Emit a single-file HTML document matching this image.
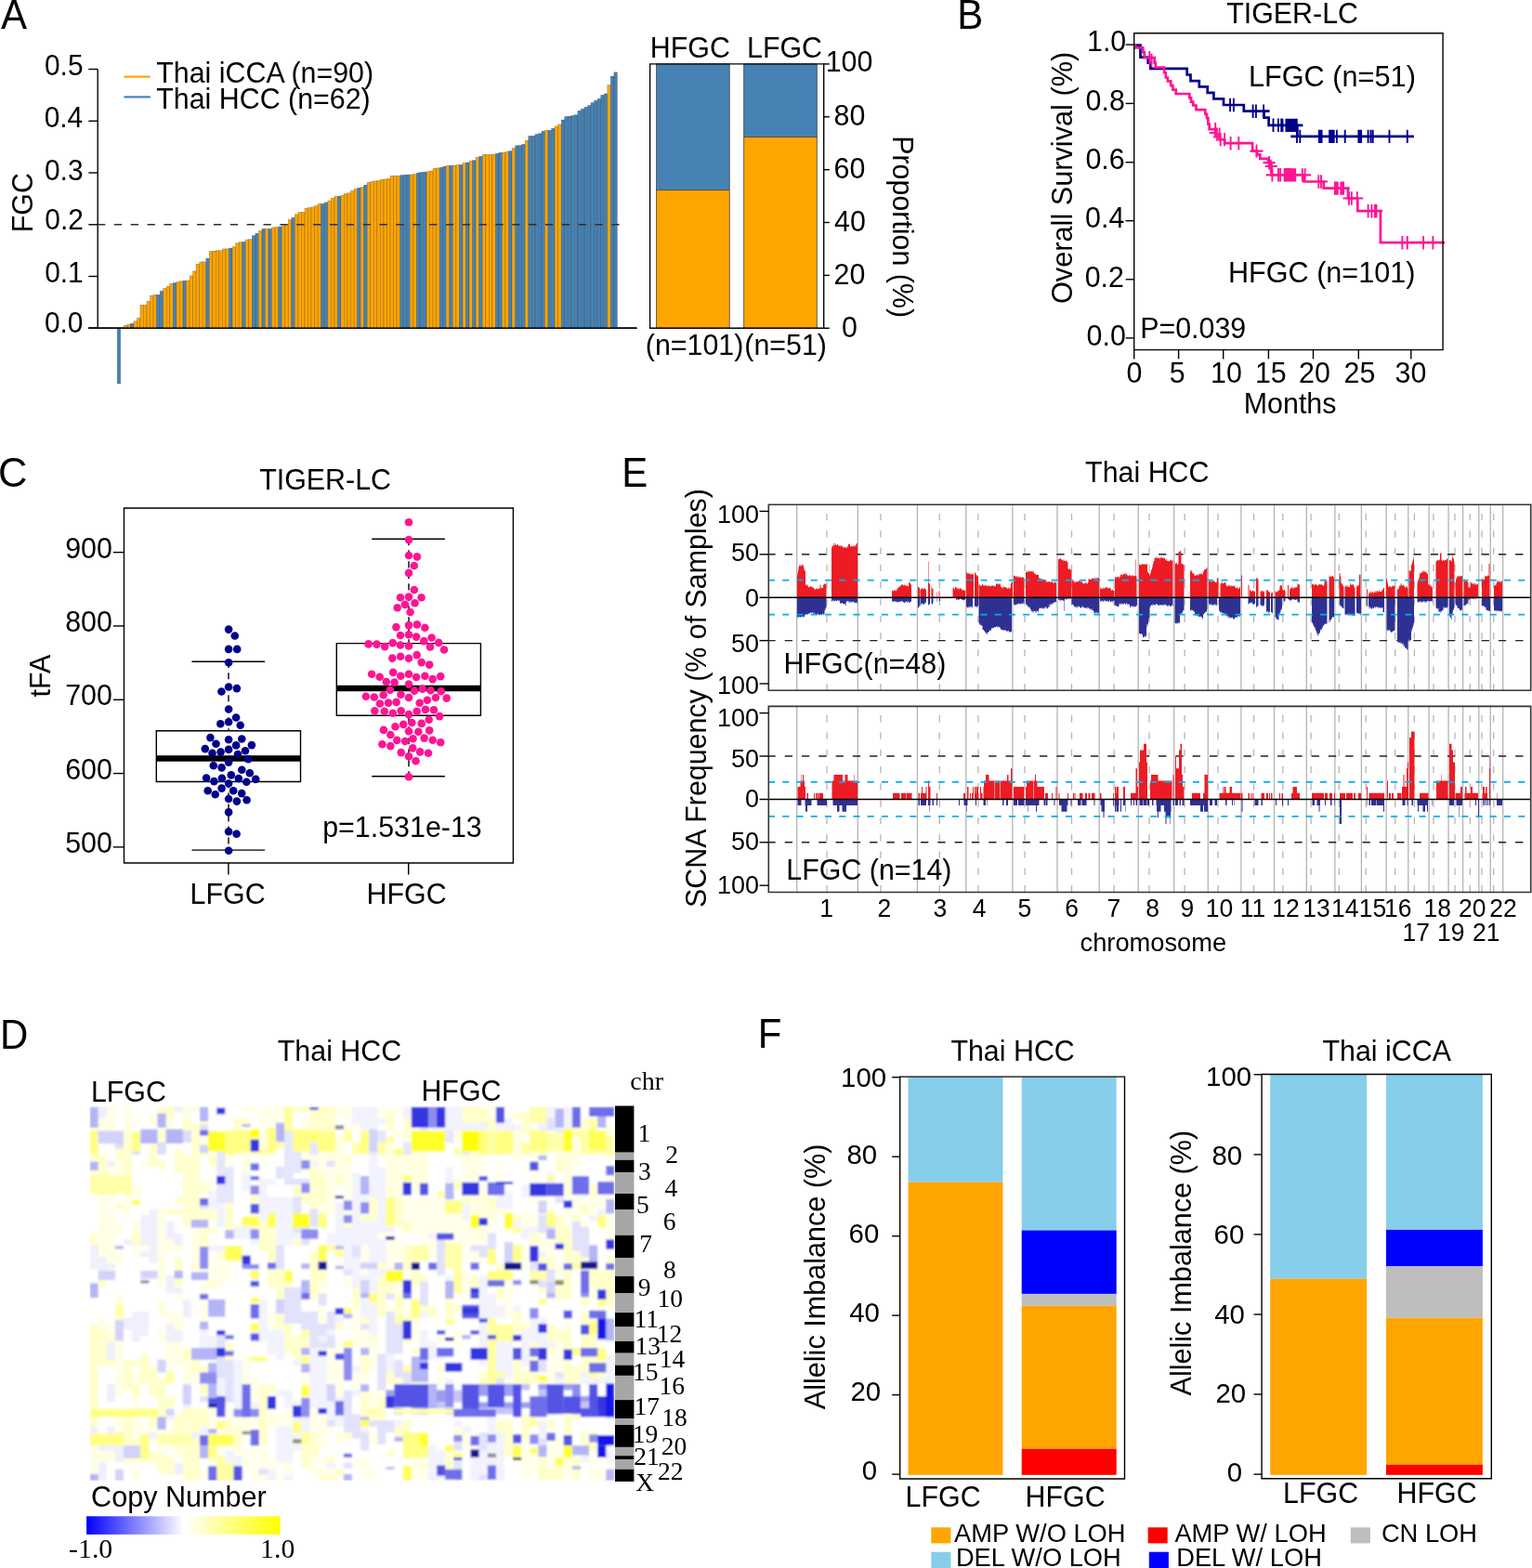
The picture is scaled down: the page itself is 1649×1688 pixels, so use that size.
<!DOCTYPE html>
<html lang="en"><head><meta charset="utf-8"><title>FGC figure</title>
<style>
html,body{margin:0;padding:0;background:#fff}
body{width:1649px;height:1688px;overflow:hidden}
svg{display:block}
text{font-family:"Liberation Sans",Arial,Helvetica,sans-serif;fill:#000}
text.s{font-family:"Liberation Serif","Times New Roman",Times,serif}
</style></head><body>
<svg width="1649" height="1688" viewBox="0 0 1649 1688">
<rect width="1649" height="1688" fill="#fff"/>
<g id="panelA">
<text transform="translate(0.9 30.8) scale(1 1.035)" font-size="42">A</text>
<path d="M105.2 74.5V353.3" fill="none" stroke="#000" stroke-width="1.4"/>
<line x1="95.3" y1="353.3" x2="685.5" y2="353.3" stroke="#000" stroke-width="1.5"/>
<line x1="95.3" y1="353.3" x2="105.2" y2="353.3" stroke="#000" stroke-width="1.4"/>
<text transform="translate(47.9 357.6) scale(1 1.035)" font-size="29.9">0.0</text>
<line x1="95.3" y1="297.5" x2="105.2" y2="297.5" stroke="#000" stroke-width="1.4"/>
<text transform="translate(48.2 303.8) scale(1 1.035)" font-size="29.9">0.1</text>
<line x1="95.3" y1="241.8" x2="105.2" y2="241.8" stroke="#000" stroke-width="1.4"/>
<text transform="translate(48.3 246.8) scale(1 1.035)" font-size="29.9">0.2</text>
<line x1="95.3" y1="186" x2="105.2" y2="186" stroke="#000" stroke-width="1.4"/>
<text transform="translate(48 193.5) scale(1 1.035)" font-size="29.9">0.3</text>
<line x1="95.3" y1="130.3" x2="105.2" y2="130.3" stroke="#000" stroke-width="1.4"/>
<text transform="translate(47.7 136.5) scale(1 1.035)" font-size="29.9">0.4</text>
<line x1="95.3" y1="74.5" x2="105.2" y2="74.5" stroke="#000" stroke-width="1.4"/>
<text transform="translate(48 80.7) scale(1 1.035)" font-size="29.9">0.5</text>
<text transform="translate(35.2 217.5) rotate(-90) scale(1 1.035)" x="-32.8" y="0" font-size="30.4">FGC</text>
<g stroke="#000" stroke-opacity=".32" stroke-width=".6">
<rect x="126.2" y="353.3" width="3.5" height="59.7" fill="#4682B4"/>
<rect x="133.2" y="350.4" width="3.5" height="2.9" fill="#FFA500"/>
<rect x="136.8" y="349.4" width="3.5" height="3.9" fill="#FFA500"/>
<rect x="140.3" y="348.3" width="3.5" height="5" fill="#4682B4"/>
<rect x="143.9" y="345.8" width="3.5" height="7.5" fill="#FFA500"/>
<rect x="147.4" y="342.5" width="3.5" height="10.8" fill="#FFA500"/>
<rect x="150.9" y="328.3" width="3.5" height="25" fill="#FFA500"/>
<rect x="154.5" y="328.3" width="3.5" height="25" fill="#FFA500"/>
<rect x="158" y="324.3" width="3.5" height="29" fill="#FFA500"/>
<rect x="161.6" y="318.2" width="3.5" height="35.1" fill="#FFA500"/>
<rect x="165.1" y="317.3" width="3.5" height="36" fill="#FFA500"/>
<rect x="168.6" y="317.3" width="3.5" height="36" fill="#4682B4"/>
<rect x="172.2" y="313.4" width="3.5" height="39.9" fill="#4682B4"/>
<rect x="175.7" y="310.4" width="3.5" height="42.9" fill="#FFA500"/>
<rect x="179.3" y="308.3" width="3.5" height="45" fill="#FFA500"/>
<rect x="182.8" y="305.3" width="3.5" height="48" fill="#FFA500"/>
<rect x="186.3" y="304.5" width="3.5" height="48.8" fill="#4682B4"/>
<rect x="189.9" y="303.4" width="3.5" height="49.9" fill="#FFA500"/>
<rect x="193.4" y="302.7" width="3.5" height="50.6" fill="#FFA500"/>
<rect x="197" y="302.2" width="3.5" height="51.1" fill="#4682B4"/>
<rect x="200.5" y="301.9" width="3.5" height="51.4" fill="#FFA500"/>
<rect x="204.1" y="296.8" width="3.5" height="56.5" fill="#FFA500"/>
<rect x="207.6" y="291.9" width="3.5" height="61.4" fill="#FFA500"/>
<rect x="211.1" y="284.3" width="3.5" height="69" fill="#FFA500"/>
<rect x="214.7" y="281.9" width="3.5" height="71.4" fill="#FFA500"/>
<rect x="218.2" y="281.9" width="3.5" height="71.4" fill="#FFA500"/>
<rect x="221.8" y="278.2" width="3.5" height="75.1" fill="#4682B4"/>
<rect x="225.3" y="270.6" width="3.5" height="82.7" fill="#FFA500"/>
<rect x="228.8" y="270.3" width="3.5" height="83" fill="#FFA500"/>
<rect x="232.4" y="269.7" width="3.5" height="83.6" fill="#FFA500"/>
<rect x="235.9" y="269.7" width="3.5" height="83.6" fill="#FFA500"/>
<rect x="239.5" y="267.9" width="3.5" height="85.4" fill="#FFA500"/>
<rect x="243" y="267.9" width="3.5" height="85.4" fill="#FFA500"/>
<rect x="246.5" y="267.1" width="3.5" height="86.2" fill="#4682B4"/>
<rect x="250.1" y="265.7" width="3.5" height="87.6" fill="#FFA500"/>
<rect x="253.6" y="261.8" width="3.5" height="91.5" fill="#FFA500"/>
<rect x="257.2" y="260.6" width="3.5" height="92.7" fill="#FFA500"/>
<rect x="260.7" y="260.4" width="3.5" height="92.9" fill="#4682B4"/>
<rect x="264.3" y="258" width="3.5" height="95.3" fill="#FFA500"/>
<rect x="267.8" y="257.6" width="3.5" height="95.7" fill="#FFA500"/>
<rect x="271.3" y="253.6" width="3.5" height="99.7" fill="#4682B4"/>
<rect x="274.9" y="251.3" width="3.5" height="102" fill="#4682B4"/>
<rect x="278.4" y="248.6" width="3.5" height="104.7" fill="#FFA500"/>
<rect x="282" y="246.3" width="3.5" height="107" fill="#4682B4"/>
<rect x="285.5" y="246.3" width="3.5" height="107" fill="#FFA500"/>
<rect x="289" y="246.3" width="3.5" height="107" fill="#4682B4"/>
<rect x="292.6" y="244.9" width="3.5" height="108.4" fill="#FFA500"/>
<rect x="296.1" y="244.6" width="3.5" height="108.7" fill="#FFA500"/>
<rect x="299.7" y="244" width="3.5" height="109.3" fill="#4682B4"/>
<rect x="303.2" y="242.8" width="3.5" height="110.5" fill="#FFA500"/>
<rect x="306.7" y="241.6" width="3.5" height="111.7" fill="#FFA500"/>
<rect x="310.3" y="236.5" width="3.5" height="116.8" fill="#FFA500"/>
<rect x="313.8" y="234.3" width="3.5" height="119" fill="#4682B4"/>
<rect x="317.4" y="230.7" width="3.5" height="122.6" fill="#FFA500"/>
<rect x="320.9" y="228.5" width="3.5" height="124.8" fill="#FFA500"/>
<rect x="324.5" y="228.5" width="3.5" height="124.8" fill="#FFA500"/>
<rect x="328" y="224.3" width="3.5" height="129" fill="#FFA500"/>
<rect x="331.5" y="223.6" width="3.5" height="129.7" fill="#FFA500"/>
<rect x="335.1" y="222.8" width="3.5" height="130.5" fill="#FFA500"/>
<rect x="338.6" y="221.6" width="3.5" height="131.7" fill="#FFA500"/>
<rect x="342.2" y="219.4" width="3.5" height="133.9" fill="#FFA500"/>
<rect x="345.7" y="219.4" width="3.5" height="133.9" fill="#4682B4"/>
<rect x="349.2" y="217.9" width="3.5" height="135.4" fill="#4682B4"/>
<rect x="352.8" y="216.2" width="3.5" height="137.1" fill="#FFA500"/>
<rect x="356.3" y="213.3" width="3.5" height="140" fill="#FFA500"/>
<rect x="359.9" y="211.5" width="3.5" height="141.8" fill="#FFA500"/>
<rect x="363.4" y="211.2" width="3.5" height="142.1" fill="#4682B4"/>
<rect x="366.9" y="210.3" width="3.5" height="143" fill="#FFA500"/>
<rect x="370.5" y="208.5" width="3.5" height="144.8" fill="#FFA500"/>
<rect x="374" y="207.7" width="3.5" height="145.6" fill="#FFA500"/>
<rect x="377.6" y="205.5" width="3.5" height="147.8" fill="#FFA500"/>
<rect x="381.1" y="203.4" width="3.5" height="149.9" fill="#FFA500"/>
<rect x="384.7" y="202.2" width="3.5" height="151.1" fill="#4682B4"/>
<rect x="388.2" y="201.4" width="3.5" height="151.9" fill="#FFA500"/>
<rect x="391.7" y="199.1" width="3.5" height="154.2" fill="#4682B4"/>
<rect x="395.3" y="196.3" width="3.5" height="157" fill="#FFA500"/>
<rect x="398.8" y="195.5" width="3.5" height="157.8" fill="#FFA500"/>
<rect x="402.4" y="194.9" width="3.5" height="158.4" fill="#FFA500"/>
<rect x="405.9" y="194.4" width="3.5" height="158.9" fill="#FFA500"/>
<rect x="409.4" y="193.4" width="3.5" height="159.9" fill="#FFA500"/>
<rect x="413" y="192.9" width="3.5" height="160.4" fill="#FFA500"/>
<rect x="416.5" y="192.4" width="3.5" height="160.9" fill="#FFA500"/>
<rect x="420.1" y="189.3" width="3.5" height="164" fill="#FFA500"/>
<rect x="423.6" y="189.3" width="3.5" height="164" fill="#FFA500"/>
<rect x="427.1" y="189.3" width="3.5" height="164" fill="#FFA500"/>
<rect x="430.7" y="188.6" width="3.5" height="164.7" fill="#4682B4"/>
<rect x="434.2" y="188.3" width="3.5" height="165" fill="#4682B4"/>
<rect x="437.8" y="188.1" width="3.5" height="165.2" fill="#4682B4"/>
<rect x="441.3" y="187.8" width="3.5" height="165.5" fill="#FFA500"/>
<rect x="444.9" y="187.4" width="3.5" height="165.9" fill="#FFA500"/>
<rect x="448.4" y="186.1" width="3.5" height="167.2" fill="#4682B4"/>
<rect x="451.9" y="185.4" width="3.5" height="167.9" fill="#4682B4"/>
<rect x="455.5" y="185.2" width="3.5" height="168.1" fill="#4682B4"/>
<rect x="459" y="184.7" width="3.5" height="168.6" fill="#FFA500"/>
<rect x="462.6" y="184" width="3.5" height="169.3" fill="#FFA500"/>
<rect x="466.1" y="181.3" width="3.5" height="172" fill="#FFA500"/>
<rect x="469.6" y="180.9" width="3.5" height="172.4" fill="#FFA500"/>
<rect x="473.2" y="180.3" width="3.5" height="173" fill="#4682B4"/>
<rect x="476.7" y="179.1" width="3.5" height="174.2" fill="#4682B4"/>
<rect x="480.3" y="178.4" width="3.5" height="174.9" fill="#FFA500"/>
<rect x="483.8" y="178.1" width="3.5" height="175.2" fill="#4682B4"/>
<rect x="487.3" y="178.1" width="3.5" height="175.2" fill="#FFA500"/>
<rect x="490.9" y="177.6" width="3.5" height="175.7" fill="#FFA500"/>
<rect x="494.4" y="177.4" width="3.5" height="175.9" fill="#4682B4"/>
<rect x="498" y="175.5" width="3.5" height="177.8" fill="#FFA500"/>
<rect x="501.5" y="175" width="3.5" height="178.3" fill="#4682B4"/>
<rect x="505" y="173.4" width="3.5" height="179.9" fill="#FFA500"/>
<rect x="508.6" y="172.6" width="3.5" height="180.7" fill="#4682B4"/>
<rect x="512.1" y="169.4" width="3.5" height="183.9" fill="#FFA500"/>
<rect x="515.7" y="168.3" width="3.5" height="185" fill="#4682B4"/>
<rect x="519.2" y="166.5" width="3.5" height="186.8" fill="#FFA500"/>
<rect x="522.8" y="166.5" width="3.5" height="186.8" fill="#FFA500"/>
<rect x="526.3" y="166.5" width="3.5" height="186.8" fill="#FFA500"/>
<rect x="529.8" y="166" width="3.5" height="187.3" fill="#FFA500"/>
<rect x="533.4" y="165.3" width="3.5" height="188" fill="#4682B4"/>
<rect x="536.9" y="164.3" width="3.5" height="189" fill="#4682B4"/>
<rect x="540.5" y="164.3" width="3.5" height="189" fill="#FFA500"/>
<rect x="544" y="163.3" width="3.5" height="190" fill="#FFA500"/>
<rect x="547.5" y="162.6" width="3.5" height="190.7" fill="#4682B4"/>
<rect x="551.1" y="159.5" width="3.5" height="193.8" fill="#FFA500"/>
<rect x="554.6" y="156.8" width="3.5" height="196.5" fill="#4682B4"/>
<rect x="558.2" y="156.5" width="3.5" height="196.8" fill="#4682B4"/>
<rect x="561.7" y="155.3" width="3.5" height="198" fill="#4682B4"/>
<rect x="565.2" y="151.3" width="3.5" height="202" fill="#FFA500"/>
<rect x="568.8" y="146.4" width="3.5" height="206.9" fill="#4682B4"/>
<rect x="572.3" y="146.4" width="3.5" height="206.9" fill="#4682B4"/>
<rect x="575.9" y="144.5" width="3.5" height="208.8" fill="#4682B4"/>
<rect x="579.4" y="143.7" width="3.5" height="209.6" fill="#4682B4"/>
<rect x="583" y="141.3" width="3.5" height="212" fill="#4682B4"/>
<rect x="586.5" y="140.3" width="3.5" height="213" fill="#FFA500"/>
<rect x="590" y="140.3" width="3.5" height="213" fill="#4682B4"/>
<rect x="593.6" y="138.2" width="3.5" height="215.1" fill="#4682B4"/>
<rect x="597.1" y="135.9" width="3.5" height="217.4" fill="#FFA500"/>
<rect x="600.7" y="133.9" width="3.5" height="219.4" fill="#FFA500"/>
<rect x="604.2" y="129" width="3.5" height="224.3" fill="#4682B4"/>
<rect x="607.7" y="125.5" width="3.5" height="227.8" fill="#4682B4"/>
<rect x="611.3" y="125.1" width="3.5" height="228.2" fill="#4682B4"/>
<rect x="614.8" y="124.4" width="3.5" height="228.9" fill="#4682B4"/>
<rect x="618.4" y="123.7" width="3.5" height="229.6" fill="#4682B4"/>
<rect x="621.9" y="119.2" width="3.5" height="234.1" fill="#4682B4"/>
<rect x="625.4" y="117.2" width="3.5" height="236.1" fill="#4682B4"/>
<rect x="629" y="115.3" width="3.5" height="238" fill="#4682B4"/>
<rect x="632.5" y="113.5" width="3.5" height="239.8" fill="#4682B4"/>
<rect x="636.1" y="110.5" width="3.5" height="242.8" fill="#4682B4"/>
<rect x="639.6" y="108.3" width="3.5" height="245" fill="#4682B4"/>
<rect x="643.2" y="106.2" width="3.5" height="247.1" fill="#4682B4"/>
<rect x="646.7" y="102.4" width="3.5" height="250.9" fill="#4682B4"/>
<rect x="650.2" y="100.9" width="3.5" height="252.4" fill="#4682B4"/>
<rect x="653.8" y="91.5" width="3.5" height="261.8" fill="#FFA500"/>
<rect x="657.3" y="82" width="3.5" height="271.3" fill="#4682B4"/>
<rect x="660.9" y="77.8" width="3.5" height="275.5" fill="#4682B4"/>
</g>
<line x1="95.3" y1="353.3" x2="685.5" y2="353.3" stroke="#000" stroke-width="1.5"/>
<line x1="105.2" y1="241.8" x2="669.5" y2="241.8" stroke="#2e2e2e" stroke-width="1.5" stroke-dasharray="8.3 9.55" stroke-dashoffset="0.2"/>
<line x1="133.4" y1="82.6" x2="161.8" y2="82.6" stroke="#FFA500" stroke-width="2.2"/>
<line x1="133.4" y1="104.4" x2="161.8" y2="104.4" stroke="#4682B4" stroke-width="2.2"/>
<text transform="translate(168.2 88.6) scale(1 1.035)" font-size="30.4">Thai iCCA (n=90)</text>
<text transform="translate(168.2 116.5) scale(1 1.035)" font-size="30.4">Thai HCC (n=62)</text>
<g stroke="#444" stroke-width=".8">
<rect x="706.6" y="68.9" width="78.6" height="135.8" fill="#4682B4"/>
<rect x="706.6" y="204.7" width="78.6" height="148.6" fill="#FFA500"/>
<rect x="800.7" y="68.9" width="78.6" height="78.6" fill="#4682B4"/>
<rect x="800.7" y="147.5" width="78.6" height="205.8" fill="#FFA500"/>
</g>
<path d="M699.6 68.9H886.7V353.3H699.6Z" fill="none" stroke="#000" stroke-width="1.4"/>
<line x1="886.7" y1="353.3" x2="892.8" y2="353.3" stroke="#000" stroke-width="1.4"/>
<text transform="translate(906.1 362.5) scale(1 1.035)" font-size="30.4">0</text>
<line x1="886.7" y1="296.4" x2="892.8" y2="296.4" stroke="#000" stroke-width="1.4"/>
<text transform="translate(897.5 305.5) scale(1 1.035)" font-size="30.4">20</text>
<line x1="886.7" y1="239.5" x2="892.8" y2="239.5" stroke="#000" stroke-width="1.4"/>
<text transform="translate(898 248.6) scale(1 1.035)" font-size="30.4">40</text>
<line x1="886.7" y1="182.7" x2="892.8" y2="182.7" stroke="#000" stroke-width="1.4"/>
<text transform="translate(897.5 191.8) scale(1 1.035)" font-size="30.4">60</text>
<line x1="886.7" y1="125.8" x2="892.8" y2="125.8" stroke="#000" stroke-width="1.4"/>
<text transform="translate(897.6 135.2) scale(1 1.035)" font-size="30.4">80</text>
<line x1="886.7" y1="68.9" x2="892.8" y2="68.9" stroke="#000" stroke-width="1.4"/>
<text transform="translate(888.7 77.4) scale(1 1.035)" font-size="30.4">100</text>
<text transform="translate(960.6 244.5) rotate(90) scale(1 1.035)" x="-98.3" y="0" font-size="30.4">Proportion (%)</text>
<text transform="translate(699.8 62.3) scale(1 1.035)" font-size="30.4">HFGC</text>
<text transform="translate(804 62.3) scale(1 1.035)" font-size="30.4">LFGC</text>
<text transform="translate(694.8 381.5) scale(1 1.035)" font-size="30.4">(n=101)</text>
<text transform="translate(801.3 381.5) scale(1 1.035)" font-size="30.4">(n=51)</text>
</g>
<g id="panelB">
<text transform="translate(1030.2 30.6) scale(1 1.035)" font-size="42">B</text>
<text transform="translate(1320.2 25.4) scale(1 1.035)" font-size="30.4">TIGER-LC</text>
<clipPath id="cb"><rect x="1219.7" y="35.8" width="335.9" height="340.8"/></clipPath>
<g clip-path="url(#cb)">
<path d="M1220.6 48.6 1227.5 48.6 1227.5 61.7 1235.7 61.7 1235.7 67.7 1238.4 67.7 1238.4 73.9 1277.7 73.9 1277.7 80.5 1281.5 80.5 1281.5 87.1 1290.8 87.1 1290.8 93.3 1299.7 93.3 1299.7 99.9 1306.4 99.9 1306.4 106.4 1317 106.4 1317 113 1338.8 113 1338.8 119.7 1360.6 119.7 1360.6 126.6 1365.6 126.6 1365.6 134.8 1396.4 134.9 1396.4 146.9 1521.9 146.9" fill="none" stroke="#00008B" stroke-width="2.7" stroke-linejoin="miter"/>
<path d="M1360.6 119.7 1366.6 119.7" fill="none" stroke="#00008B" stroke-width="2.7" stroke-linejoin="miter"/>
<path d="M1396.4 134.9 1402.4 134.9" fill="none" stroke="#00008B" stroke-width="2.7" stroke-linejoin="miter"/>
<path d="M1389.3 146.9 1396.4 146.9" fill="none" stroke="#00008B" stroke-width="2.7" stroke-linejoin="miter"/>
<path d="M1324.1 105.8v14.4M1327.9 105.8v14.4M1348.6 112.5v14.4M1351.9 112.5v14.4M1360.1 112.5v14.4M1370.5 127.6v14.4M1375.9 127.6v14.4M1379.2 127.6v14.4M1380.5 127.7v14.4M1384.4 127.7v14.4M1386 127.7v14.4M1387.6 127.7v14.4M1389.3 127.7v14.4M1390.9 127.7v14.4M1392.6 127.7v14.4M1394.2 127.7v14.4M1395.8 127.7v14.4M1396 139.7v14.4M1399.3 139.7v14.4M1419.8 139.7v14.4M1421.3 139.7v14.4M1422.6 139.7v14.4M1431.1 139.7v14.4M1432.6 139.7v14.4M1434.1 139.7v14.4M1435.7 139.7v14.4M1438.9 139.7v14.4M1447.7 139.7v14.4M1462.4 139.7v14.4M1463.8 139.7v14.4M1465.1 139.7v14.4M1472.6 139.7v14.4M1475.5 139.7v14.4M1477.7 139.7v14.4M1495.5 139.7v14.4M1514.8 139.7v14.4" fill="none" stroke="#00008B" stroke-width="1.9"/>
<path d="M1220.6 48.6 1222 48.6 1222 51.3 1230.2 51.3 1230.2 56.2 1231.8 56.2 1231.8 62.2 1242.7 62.2 1242.7 67.7 1243.8 67.7 1243.8 72.6 1253.1 72.6 1253.1 78 1254.8 78 1254.8 83.5 1256.9 83.5 1256.9 87.3 1260.2 87.3 1260.2 92.2 1262.4 92.2 1262.4 96.6 1265.7 96.6 1265.7 101 1280.4 101 1280.4 105.3 1282 105.3 1282 109.7 1284.2 109.7 1284.2 113.5 1287.5 113.5 1287.5 118.2 1297.3 118.2 1297.3 122.8 1299 122.8 1299 127.2 1300.4 127.2 1300.4 133.7 1301.7 133.7 1301.7 139.2 1308.2 139.2 1308.2 144.6 1312.6 144.6 1312.6 150.1 1318.1 150.1 1318.1 154.2 1348.1 154.2 1348.1 162.6 1353 162.6 1353 166.4 1356.3 166.4 1356.3 170.8 1365 170.8 1365 175.2 1368.3 175.2 1368.3 179 1368.8 179 1368.8 188.3 1403.5 188.4 1403.5 195.5 1424.8 195.5 1424.8 202.6 1451 202.6 1451 213.5 1461.3 213.5 1461.3 227.2 1485.9 227.2 1485.9 261.2 1555.2 261.2" fill="none" stroke="#FF1493" stroke-width="2.7" stroke-linejoin="miter"/>
<path d="M1301.7 143 1308.2 143" fill="none" stroke="#FF1493" stroke-width="2.2" stroke-linejoin="miter"/>
<path d="M1306.1 147.3 1313.2 147.3" fill="none" stroke="#FF1493" stroke-width="2.2" stroke-linejoin="miter"/>
<path d="M1345.4 162.6 1359.5 162.6" fill="none" stroke="#FF1493" stroke-width="2.2" stroke-linejoin="miter"/>
<path d="M1359.5 175.2 1372.6 175.2" fill="none" stroke="#FF1493" stroke-width="2.2" stroke-linejoin="miter"/>
<path d="M1361.7 179 1374.8 179" fill="none" stroke="#FF1493" stroke-width="2.2" stroke-linejoin="miter"/>
<path d="M1362.8 188.3 1369.4 188.3" fill="none" stroke="#FF1493" stroke-width="2.2" stroke-linejoin="miter"/>
<path d="M1403.5 188.4 1411.1 188.4" fill="none" stroke="#FF1493" stroke-width="2.2" stroke-linejoin="miter"/>
<path d="M1424.8 195.5 1429.1 195.5" fill="none" stroke="#FF1493" stroke-width="2.2" stroke-linejoin="miter"/>
<path d="M1445.5 213.5 1467.3 213.5" fill="none" stroke="#FF1493" stroke-width="2.2" stroke-linejoin="miter"/>
<path d="M1451 202.6 1452.6 202.6" fill="none" stroke="#FF1493" stroke-width="2.2" stroke-linejoin="miter"/>
<path d="M1485.9 227.2 1488.1 227.2" fill="none" stroke="#FF1493" stroke-width="2.2" stroke-linejoin="miter"/>
<path d="M1237.3 55v14.4M1239.5 57.7v14.4M1308.2 132v14.4M1309.9 137.4v14.4M1312.6 137.4v14.4M1313.7 142.9v14.4M1318.1 142.9v14.4M1324.6 147v14.4M1333.3 147v14.4M1352.5 155.4v14.4M1366.1 168v14.4M1367.7 171.8v14.4M1369.4 181.1v14.4M1375.9 181.1v14.4M1378.1 181.1v14.4M1383.6 181.1v14.4M1385.2 181.1v14.4M1386.8 181.1v14.4M1388.5 181.1v14.4M1382.7 181.2v14.4M1384.4 181.2v14.4M1386 181.2v14.4M1387.6 181.2v14.4M1389.3 181.2v14.4M1390.9 181.2v14.4M1392.6 181.2v14.4M1394.2 181.2v14.4M1401.8 181.2v14.4M1404.6 181.2v14.4M1419.3 188.3v14.4M1422 188.3v14.4M1436.8 195.4v14.4M1438.4 195.4v14.4M1439.8 195.4v14.4M1443.3 195.4v14.4M1444.7 195.4v14.4M1446.1 195.4v14.4M1452 206.3v14.4M1454.8 206.3v14.4M1460.8 206.3v14.4M1472.6 220v14.4M1476.4 220v14.4M1479.9 220v14.4M1481.5 220v14.4M1509.4 254v14.4M1514.8 254v14.4M1532.1 254v14.4M1542.4 254v14.4" fill="none" stroke="#FF1493" stroke-width="1.9"/>
</g>
<path d="M1220.7 35.8H1553.1V376.6H1220.7Z" fill="none" stroke="#000" stroke-width="1.4"/>
<line x1="1211.6" y1="363.9" x2="1220.7" y2="363.9" stroke="#000" stroke-width="1.4"/>
<text transform="translate(1169.6 372.2) scale(1 1.035)" font-size="30.4">0.0</text>
<line x1="1211.6" y1="300.8" x2="1220.7" y2="300.8" stroke="#000" stroke-width="1.4"/>
<text transform="translate(1167.7 308.9) scale(1 1.035)" font-size="30.4">0.2</text>
<line x1="1211.6" y1="237.7" x2="1220.7" y2="237.7" stroke="#000" stroke-width="1.4"/>
<text transform="translate(1168.1 245.3) scale(1 1.035)" font-size="30.4">0.4</text>
<line x1="1211.6" y1="174.7" x2="1220.7" y2="174.7" stroke="#000" stroke-width="1.4"/>
<text transform="translate(1168.4 182.1) scale(1 1.035)" font-size="30.4">0.6</text>
<line x1="1211.6" y1="111.4" x2="1220.7" y2="111.4" stroke="#000" stroke-width="1.4"/>
<text transform="translate(1168.6 119.3) scale(1 1.035)" font-size="30.4">0.8</text>
<line x1="1211.6" y1="48.1" x2="1220.7" y2="48.1" stroke="#000" stroke-width="1.4"/>
<text transform="translate(1170 55.3) scale(1 1.035)" font-size="30.4">1.0</text>
<line x1="1220.7" y1="376.6" x2="1220.7" y2="386.4" stroke="#000" stroke-width="1.4"/>
<text transform="translate(1212.4 411.9) scale(1 1.035)" font-size="30.4">0</text>
<line x1="1268.6" y1="376.6" x2="1268.6" y2="386.4" stroke="#000" stroke-width="1.4"/>
<text transform="translate(1258.8 411.9) scale(1 1.035)" font-size="30.4">5</text>
<line x1="1316.7" y1="376.6" x2="1316.7" y2="386.4" stroke="#000" stroke-width="1.4"/>
<text transform="translate(1303 411.9) scale(1 1.035)" font-size="30.4">10</text>
<line x1="1365.4" y1="376.6" x2="1365.4" y2="386.4" stroke="#000" stroke-width="1.4"/>
<text transform="translate(1350.9 411.9) scale(1 1.035)" font-size="30.4">15</text>
<line x1="1413.5" y1="376.6" x2="1413.5" y2="386.4" stroke="#000" stroke-width="1.4"/>
<text transform="translate(1398 411.9) scale(1 1.035)" font-size="30.4">20</text>
<line x1="1462.3" y1="376.6" x2="1462.3" y2="386.4" stroke="#000" stroke-width="1.4"/>
<text transform="translate(1446.5 411.9) scale(1 1.035)" font-size="30.4">25</text>
<line x1="1518.8" y1="376.6" x2="1518.8" y2="386.4" stroke="#000" stroke-width="1.4"/>
<text transform="translate(1501.6 411.9) scale(1 1.035)" font-size="30.4">30</text>
<text transform="translate(1338.8 444.5) scale(1 1.035)" font-size="30.4">Months</text>
<text transform="translate(1154.2 191.7) rotate(-90) scale(1 1.035)" x="-135.3" y="0" font-size="30.7">Overall Survival (%)</text>
<text transform="translate(1227.2 363.7) scale(1 1.035)" font-size="30.4" fill="#333">P=0.039</text>
<text transform="translate(1343.9 93.1) scale(1 1.035)" font-size="30.7">LFGC (n=51)</text>
<text transform="translate(1322 303.5) scale(1 1.035)" font-size="30.6">HFGC (n=101)</text>
</g>
<g id="panelC">
<text transform="translate(-2 524) scale(1 1.035)" font-size="43.5">C</text>
<text transform="translate(279.2 526.6) scale(1 1.035)" font-size="30.4">TIGER-LC</text>
<line x1="121.9" y1="911.9" x2="133.5" y2="911.9" stroke="#000" stroke-width="1.4"/>
<text transform="translate(70.2 918) scale(1 1.035)" font-size="30.4">500</text>
<line x1="121.9" y1="832.6" x2="133.5" y2="832.6" stroke="#000" stroke-width="1.4"/>
<text transform="translate(70.2 838.7) scale(1 1.035)" font-size="30.4">600</text>
<line x1="121.9" y1="753.3" x2="133.5" y2="753.3" stroke="#000" stroke-width="1.4"/>
<text transform="translate(70.2 759.4) scale(1 1.035)" font-size="30.4">700</text>
<line x1="121.9" y1="673.9" x2="133.5" y2="673.9" stroke="#000" stroke-width="1.4"/>
<text transform="translate(70.2 680) scale(1 1.035)" font-size="30.4">800</text>
<line x1="121.9" y1="594.6" x2="133.5" y2="594.6" stroke="#000" stroke-width="1.4"/>
<text transform="translate(70.2 600.7) scale(1 1.035)" font-size="30.4">900</text>
<text transform="translate(54.4 727.4) rotate(-90) scale(1 1.035)" x="-23" y="0" font-size="30.4">tFA</text>
<line x1="245.9" y1="929" x2="245.9" y2="941.4" stroke="#000" stroke-width="1.4"/>
<line x1="439.7" y1="929" x2="439.7" y2="941.4" stroke="#000" stroke-width="1.4"/>
<text transform="translate(204.6 972.7) scale(1 1.035)" font-size="30.4">LFGC</text>
<text transform="translate(394.5 972.7) scale(1 1.035)" font-size="30.4">HFGC</text>
<path d="M246 712.3V786.7M246 841.5V915.1" fill="none" stroke="#000" stroke-width="1.4" stroke-dasharray="7 5"/>
<line x1="206.5" y1="712.3" x2="285" y2="712.3" stroke="#000" stroke-width="1.4"/>
<line x1="206.5" y1="915.1" x2="285" y2="915.1" stroke="#000" stroke-width="1.4"/>
<path d="M168.3 786.7H323.5V841.5H168.3Z" fill="none" stroke="#000" stroke-width="1.4"/>
<line x1="168.3" y1="816.5" x2="323.5" y2="816.5" stroke="#000" stroke-width="6.4"/>
<path d="M440 580.2V692.6M440 770.3V835.7" fill="none" stroke="#000" stroke-width="1.4" stroke-dasharray="7 5"/>
<line x1="400.2" y1="580.2" x2="478.9" y2="580.2" stroke="#000" stroke-width="1.4"/>
<line x1="400.2" y1="835.7" x2="478.9" y2="835.7" stroke="#000" stroke-width="1.4"/>
<path d="M362.3 692.6H517.4V770.3H362.3Z" fill="none" stroke="#000" stroke-width="1.4"/>
<line x1="362.3" y1="741" x2="517.4" y2="741" stroke="#000" stroke-width="6.4"/>
<g fill="#00008B">
<circle cx="246.1" cy="677.6" r="4.3"/>
<circle cx="252.8" cy="684.5" r="4.3"/>
<circle cx="246.1" cy="698.9" r="4.3"/>
<circle cx="255.2" cy="698.9" r="4.3"/>
<circle cx="246.1" cy="713.3" r="4.3"/>
<circle cx="246.1" cy="739.5" r="4.3"/>
<circle cx="254.9" cy="741.1" r="4.3"/>
<circle cx="238.4" cy="744.5" r="4.3"/>
<circle cx="246.1" cy="763.5" r="4.3"/>
<circle cx="254.1" cy="772.5" r="4.3"/>
<circle cx="246.1" cy="777.3" r="4.3"/>
<circle cx="237.3" cy="779.2" r="4.3"/>
<circle cx="258.7" cy="780.8" r="4.3"/>
<circle cx="226.4" cy="794.1" r="4.3"/>
<circle cx="246.1" cy="796.3" r="4.3"/>
<circle cx="260.3" cy="795.5" r="4.3"/>
<circle cx="232.5" cy="800.8" r="4.3"/>
<circle cx="254.1" cy="802.4" r="4.3"/>
<circle cx="270.9" cy="802.1" r="4.3"/>
<circle cx="220.8" cy="806.1" r="4.3"/>
<circle cx="246.1" cy="806.9" r="4.3"/>
<circle cx="228.5" cy="810.7" r="4.3"/>
<circle cx="237.6" cy="809.6" r="4.3"/>
<circle cx="264" cy="808.3" r="4.3"/>
<circle cx="256" cy="812" r="4.3"/>
<circle cx="267.2" cy="817.3" r="4.3"/>
<circle cx="246.1" cy="820.6" r="4.3"/>
<circle cx="229.8" cy="824.3" r="4.3"/>
<circle cx="238.6" cy="826.4" r="4.3"/>
<circle cx="260.3" cy="828.8" r="4.3"/>
<circle cx="268.8" cy="832.3" r="4.3"/>
<circle cx="248.8" cy="834.4" r="4.3"/>
<circle cx="222.1" cy="837.6" r="4.3"/>
<circle cx="238.9" cy="837.8" r="4.3"/>
<circle cx="256.8" cy="838.1" r="4.3"/>
<circle cx="275.2" cy="838.9" r="4.3"/>
<circle cx="230.4" cy="841.1" r="4.3"/>
<circle cx="265.3" cy="841.8" r="4.3"/>
<circle cx="246.1" cy="843.5" r="4.3"/>
<circle cx="238.6" cy="848.6" r="4.3"/>
<circle cx="223.7" cy="851.2" r="4.3"/>
<circle cx="251.2" cy="851.2" r="4.3"/>
<circle cx="260.2" cy="854.1" r="4.3"/>
<circle cx="231.7" cy="855.2" r="4.3"/>
<circle cx="246.1" cy="860" r="4.3"/>
<circle cx="254.9" cy="862.6" r="4.3"/>
<circle cx="265.6" cy="861.3" r="4.3"/>
<circle cx="246.1" cy="874.4" r="4.3"/>
<circle cx="246.1" cy="895.2" r="4.3"/>
<circle cx="254.6" cy="897.8" r="4.3"/>
<circle cx="246.1" cy="915.7" r="4.3"/>
</g><g fill="#FF1493">
<circle cx="440" cy="562.3" r="4.3"/>
<circle cx="440" cy="581.1" r="4.3"/>
<circle cx="440" cy="598" r="4.3"/>
<circle cx="448.9" cy="599.4" r="4.3"/>
<circle cx="445.8" cy="609" r="4.3"/>
<circle cx="440" cy="616.9" r="4.3"/>
<circle cx="445.8" cy="635" r="4.3"/>
<circle cx="431" cy="643.3" r="4.3"/>
<circle cx="440" cy="642.6" r="4.3"/>
<circle cx="453.6" cy="643.3" r="4.3"/>
<circle cx="436" cy="650.9" r="4.3"/>
<circle cx="446.5" cy="649.3" r="4.3"/>
<circle cx="427.7" cy="654.3" r="4.3"/>
<circle cx="441.6" cy="659" r="4.3"/>
<circle cx="426.4" cy="675.1" r="4.3"/>
<circle cx="440" cy="673.1" r="4.3"/>
<circle cx="448.9" cy="672.4" r="4.3"/>
<circle cx="457.4" cy="675.7" r="4.3"/>
<circle cx="431" cy="684" r="4.3"/>
<circle cx="440" cy="683.3" r="4.3"/>
<circle cx="448.1" cy="685.6" r="4.3"/>
<circle cx="464.6" cy="686.5" r="4.3"/>
<circle cx="456.3" cy="690.1" r="4.3"/>
<circle cx="472.2" cy="691.9" r="4.3"/>
<circle cx="396.6" cy="693.4" r="4.3"/>
<circle cx="405.5" cy="693.6" r="4.3"/>
<circle cx="414.2" cy="696.1" r="4.3"/>
<circle cx="422.7" cy="692.1" r="4.3"/>
<circle cx="431" cy="694.5" r="4.3"/>
<circle cx="440" cy="695.4" r="4.3"/>
<circle cx="463" cy="696.4" r="4.3"/>
<circle cx="478" cy="699.5" r="4.3"/>
<circle cx="422.3" cy="708.6" r="4.3"/>
<circle cx="431.1" cy="706.7" r="4.3"/>
<circle cx="440" cy="708.7" r="4.3"/>
<circle cx="448.7" cy="705.1" r="4.3"/>
<circle cx="453.7" cy="713.1" r="4.3"/>
<circle cx="462.2" cy="715.6" r="4.3"/>
<circle cx="400.1" cy="725.7" r="4.3"/>
<circle cx="408.7" cy="728.8" r="4.3"/>
<circle cx="423.2" cy="723.9" r="4.3"/>
<circle cx="431.3" cy="727.7" r="4.3"/>
<circle cx="440" cy="725.7" r="4.3"/>
<circle cx="448.1" cy="729" r="4.3"/>
<circle cx="457.4" cy="727.7" r="4.3"/>
<circle cx="465.7" cy="731.1" r="4.3"/>
<circle cx="474.2" cy="728.1" r="4.3"/>
<circle cx="415.8" cy="734" r="4.3"/>
<circle cx="424.6" cy="734.6" r="4.3"/>
<circle cx="440" cy="736.6" r="4.3"/>
<circle cx="419.9" cy="742.7" r="4.3"/>
<circle cx="446" cy="743.6" r="4.3"/>
<circle cx="454.8" cy="741.6" r="4.3"/>
<circle cx="463.5" cy="743.3" r="4.3"/>
<circle cx="474.7" cy="744.2" r="4.3"/>
<circle cx="393.9" cy="749.8" r="4.3"/>
<circle cx="402.8" cy="750.5" r="4.3"/>
<circle cx="412.7" cy="748.3" r="4.3"/>
<circle cx="431.5" cy="747.8" r="4.3"/>
<circle cx="440" cy="751" r="4.3"/>
<circle cx="468.9" cy="751" r="4.3"/>
<circle cx="480.7" cy="751.6" r="4.3"/>
<circle cx="459.9" cy="753.7" r="4.3"/>
<circle cx="408.9" cy="757.5" r="4.3"/>
<circle cx="418" cy="756.6" r="4.3"/>
<circle cx="426.6" cy="755.9" r="4.3"/>
<circle cx="451.7" cy="756.8" r="4.3"/>
<circle cx="403.3" cy="765.3" r="4.3"/>
<circle cx="413.8" cy="765.8" r="4.3"/>
<circle cx="422.8" cy="767.8" r="4.3"/>
<circle cx="431.7" cy="765.3" r="4.3"/>
<circle cx="440" cy="769.1" r="4.3"/>
<circle cx="448.7" cy="765.7" r="4.3"/>
<circle cx="457.9" cy="763.9" r="4.3"/>
<circle cx="466.9" cy="764.2" r="4.3"/>
<circle cx="473.1" cy="771.1" r="4.3"/>
<circle cx="461.7" cy="774.7" r="4.3"/>
<circle cx="443.3" cy="778" r="4.3"/>
<circle cx="453.7" cy="778.9" r="4.3"/>
<circle cx="434.2" cy="779.9" r="4.3"/>
<circle cx="425.5" cy="782.3" r="4.3"/>
<circle cx="412.9" cy="785.9" r="4.3"/>
<circle cx="440" cy="787.2" r="4.3"/>
<circle cx="450.3" cy="787.7" r="4.3"/>
<circle cx="462.2" cy="786.4" r="4.3"/>
<circle cx="420.3" cy="791" r="4.3"/>
<circle cx="427.3" cy="796.9" r="4.3"/>
<circle cx="436" cy="798" r="4.3"/>
<circle cx="444.5" cy="795.3" r="4.3"/>
<circle cx="456.6" cy="794.6" r="4.3"/>
<circle cx="465.7" cy="796.7" r="4.3"/>
<circle cx="474.2" cy="799.3" r="4.3"/>
<circle cx="411.4" cy="801.3" r="4.3"/>
<circle cx="420.3" cy="803.1" r="4.3"/>
<circle cx="444.2" cy="805.4" r="4.3"/>
<circle cx="431.7" cy="810.1" r="4.3"/>
<circle cx="452.1" cy="809.4" r="4.3"/>
<circle cx="461" cy="810.7" r="4.3"/>
<circle cx="440" cy="814.3" r="4.3"/>
<circle cx="447.6" cy="819.2" r="4.3"/>
<circle cx="440" cy="836.3" r="4.3"/>
</g>
<path d="M133.5 547H552.4V929H133.5Z" fill="none" stroke="#000" stroke-width="1.4"/>
<text transform="translate(347.2 901.2) scale(1 1.035)" font-size="30.4">p=1.531e-13</text>
</g>
<g id="panelE">
<text transform="translate(669.2 524) scale(1 1.035)" font-size="42">E</text>
<text transform="translate(1168.1 519) scale(1 1.035)" font-size="30.4">Thai HCC</text>
<path d="M857.7 543.2V743.2M923.3 543.2V743.2M987.4 543.2V743.2M1039.8 543.2V743.2M1089.9 543.2V743.2M1138 543.2V743.2M1183.2 543.2V743.2M1225.2 543.2V743.2M1263.7 543.2V743.2M1300.3 543.2V743.2M1335.9 543.2V743.2M1371.5 543.2V743.2M1406.3 543.2V743.2M1436.9 543.2V743.2M1465.4 543.2V743.2M1492.1 543.2V743.2M1515.8 543.2V743.2M1538.1 543.2V743.2M1559.1 543.2V743.2M1574.6 543.2V743.2M1591.8 543.2V743.2M1604.3 543.2V743.2M1617.7 543.2V743.2" fill="none" stroke="#b4b4b4" stroke-width="1.3"/>
<path d="M890 543.2V743.2M947.9 543.2V743.2M1011.3 543.2V743.2M1052.9 543.2V743.2M1103 543.2V743.2M1153.5 543.2V743.2M1199 543.2V743.2M1237 543.2V743.2M1275.1 543.2V743.2M1311 543.2V743.2M1349.6 543.2V743.2M1380.8 543.2V743.2M1411.1 543.2V743.2M1441.3 543.2V743.2M1470.2 543.2V743.2M1501.7 543.2V743.2M1522.4 543.2V743.2M1543 543.2V743.2M1566 543.2V743.2M1582.3 543.2V743.2M1595 543.2V743.2M1607.7 543.2V743.2" fill="none" stroke="#b4b4b4" stroke-width="1.3" stroke-dasharray="7.3 11" stroke-dashoffset="-9.7"/>
<line x1="827.3" y1="596.8" x2="1647.7" y2="596.8" stroke="#231F20" stroke-width="1.4" stroke-dasharray="8.3 9.99" stroke-dashoffset="0.9"/>
<line x1="827.3" y1="689.6" x2="1647.7" y2="689.6" stroke="#231F20" stroke-width="1.4" stroke-dasharray="8.3 9.99" stroke-dashoffset="0.9"/>
<path d="M858 643.2V619.1H858.5V615.9H859V613.7H859.5V610.6H860V608H860.5V609.3H861V609.4H861.5V607.6H862V608.9H862.5V608.9H863V607.2H863.5V608.4H864V607.6H864.5V609.7H865V610.8H865.5V613.5H866V613.9H866.5V614.9H867V629.7H867.5V629.2H868V629.3H868.5V630.7H869V629.1H869.5V631H870V631.9H870.5V632.6H871V630.9H871.5V631.9H872V631.5H872.5V631.3H873V631.8H873.5V631.5H874V632.8H874.5V632H875V633H875.5V632H876V632.9H876.5V634.7H877V634.6H877.5V634.4H878V632.7H878.5V633.9H879V633.5H879.5V634.3H880V633.8H880.5V634.1H881V634.1H881.5V633.6H882.5V629.6H883.5V632.9H884V633.4H884.5V632.8H885V633H885.5V632.7H886V628.9H886.5V630.1H887V628.5H887.5V628.3H888V628.4H888.5V629.2H889V628.8H889.5V643.2ZM895 643.2V589.9H895.5V587.7H896V587.6H897V587.4H897.5V584.8H898V584.7H898.5V586.9H899V585.3H899.5V586.4H900V587.1H900.5V586.9H901V585.9H901.5V585.8H902V587.9H902.5V586.7H903V588.1H903.5V586.7H904V588.3H904.5V587.2H905V587H905.5V588.2H906V587.1H906.5V588.8H907V589.4H907.5V588.3H908V589.7H908.5V589.4H909V589H909.5V588.6H910V589.8H910.5V590.1H911V588.3H911.5V589.7H912V588.3H912.5V588.5H913V585.7H914.5V585.5H915V588.4H916V588.1H916.5V587.3H917V588.2H917.5V588.3H918V587.6H918.5V588.6H919V588.4H919.5V586.8H920V587.7H920.5V587.2H921V587.5H921.5V585.7H922V584.5H922.5V584.9H923V643.2ZM960 643.2V635.7H960.5V635.6H961V636.8H961.5V635.5H962V635.8H962.5V635.2H963V635.9H963.5V635H964V634.9H964.5V636.5H965V635.4H965.5V633.5H966V632.4H966.5V633.5H967V632.5H967.5V631.7H968V631.8H968.5V631.2H969V630.8H969.5V630.2H970V629.1H970.5V629.9H971V629.8H971.5V629H972V630.7H972.5V629.6H973V629.3H973.5V630.3H974V630.6H974.5V629.4H975V630.7H975.5V630.9H976V630.4H976.5V629.9H977V631.4H977.5V630.9H978V627.2H978.5V626.5H979V627.8H979.5V627.2H980V629.3H981V643.2ZM988 643.2V631.9H988.5V631.4H989V632.4H989.5V632.9H990V643.2ZM990.5 643.2V634.7H991V633.7H991.5V634.5H992V633.1H992.5V633H993V634.5H993.5V634.3H994V633.1H994.5V633.5H995V633.1H995.5V634.2H996V634.7H996.5V634.3H997V643.2ZM999 643.2V604.4H999.5V627.3H1000V628.1H1000.5V629H1001V643.2ZM1002.5 643.2V631.6H1003V633.3H1003.5V633.7H1004V634.1H1004.5V643.2ZM1008 643.2V637.5H1008.5V643.2ZM1010.5 643.2V636.2H1011.5V643.2ZM1025.5 643.2V633.3H1026.5V632.1H1027V633.9H1027.5V634.2H1028V632H1028.5V632.1H1029V631.8H1029.5V633H1030V634.2H1030.5V633.1H1031V633.9H1031.5V632.9H1032V634.8H1032.5V632.9H1033V633.6H1033.5V633.2H1034V633.4H1034.5V633.5H1035V634.4H1035.5V635.8H1036V634.3H1036.5V635.8H1037V635.6H1037.5V634.9H1038V635.4H1038.5V635.8H1039V643.2ZM1040 643.2V615.6H1040.5V616.5H1041V617.3H1041.5V617.7H1042V616.4H1042.5V617.5H1043V616.9H1043.5V618.1H1044V618.6H1044.5V618H1045V617.5H1045.5V619.1H1046V617.8H1046.5V617.7H1047V618.1H1047.5V618.2H1048V643.2ZM1049 643.2V617.1H1049.5V616.3H1050V616.4H1050.5V618.9H1051V619H1051.5V619.7H1052.5V620.6H1053V643.2ZM1053.5 643.2V629.4H1054V628.8H1054.5V630.6H1055V630.5H1055.5V630.4H1056V630.5H1056.5V630.6H1057V628.6H1057.5V628.9H1058V630.8H1058.5V629.9H1059V630.3H1059.5V630.4H1060.5V629.7H1061V629.9H1061.5V630.5H1062V630.9H1062.5V630.7H1063V631.2H1063.5V630.2H1064V629.9H1064.5V630.8H1065V631.5H1065.5V631.3H1066V630.9H1066.5V630.4H1067V630.1H1067.5V631.1H1068V630.1H1068.5V630.6H1069V631.1H1069.5V631.3H1070V631.1H1070.5V630.6H1071V631.3H1071.5V630.8H1072V628.2H1072.5V628.8H1073V628.2H1073.5V628H1074V629.6H1074.5V628.9H1075V629H1075.5V628.1H1076.5V629.5H1077V631.6H1077.5V631.9H1078V633.1H1078.5V632.6H1079V633.4H1079.5V631.8H1080V632.2H1080.5V631.6H1081V631.9H1081.5V632.1H1082V632H1082.5V632.4H1083V633.4H1083.5V632.3H1084V633.7H1084.5V633.3H1085V631.9H1085.5V633.6H1086V633.5H1087V631.6H1087.5V633.3H1088V626.6H1088.5V628.3H1089V626.6H1089.5V627H1090V643.2ZM1091 643.2V619.7H1091.5V619.4H1092V620.4H1092.5V619.9H1093V621.7H1093.5V620.1H1094V620.7H1094.5V620.3H1095V621.8H1095.5V620.4H1096V620H1096.5V622H1097V621.5H1097.5V621H1098V620.4H1098.5V621.8H1099V622H1099.5V621.9H1100V621.2H1100.5V620.9H1101V621.8H1101.5V621.9H1102.5V643.2ZM1104 643.2V615.7H1104.5V615.5H1105V616.3H1105.5V615.3H1106V614.2H1106.5V615.5H1107V614.8H1107.5V616.1H1108V614.9H1108.5V614.7H1109V614.9H1109.5V615.3H1110V615.4H1110.5V615H1111V614.4H1111.5V616.1H1112V616.3H1112.5V614.8H1113V616.9H1113.5V617.9H1114V618.1H1114.5V617.6H1115V618.9H1115.5V618.7H1116V619H1116.5V618.1H1117V618.8H1117.5V619.1H1118V622.5H1118.5V622H1119V623.5H1119.5V622.6H1120V623.3H1120.5V622.4H1121V623H1121.5V623.8H1122V624H1122.5V624.5H1123V623.4H1123.5V623.7H1124V624.2H1124.5V623.8H1125V624H1125.5V625.5H1126V627H1126.5V625.1H1127V626.4H1127.5V626.2H1128V626.5H1128.5V625.7H1129V625.8H1129.5V626.5H1130V626.7H1130.5V626.2H1131V625.9H1131.5V627.1H1132V626.3H1132.5V625.9H1133V627.1H1133.5V627.7H1134.5V626.7H1135V626.8H1135.5V626.2H1136V626.5H1136.5V628H1137V643.2ZM1139 643.2V602H1140V602.3H1140.5V601.3H1141V601.1H1141.5V601.2H1142V602.8H1142.5V601.5H1143V603H1143.5V602.9H1144V602.3H1144.5V603.9H1145V604.1H1145.5V602.5H1146V603.9H1147V603.6H1147.5V603.5H1148V605.2H1148.5V604.6H1149V604.5H1149.5V612.2H1150V613H1150.5V612.3H1151V611.6H1151.5V613H1152V612.8H1152.5V614H1153V613.8H1153.5V643.2ZM1154 643.2V623.2H1154.5V625.5H1155V624.6H1155.5V625.5H1156V627.7H1156.5V625.7H1157V626.9H1157.5V626H1158.5V626.9H1159V626H1160V625.5H1160.5V626.7H1161V625.5H1161.5V625H1162V625.5H1162.5V625.8H1163V626.7H1163.5V625.7H1164V626H1164.5V625.1H1165V627.7H1165.5V627.9H1166V628.7H1166.5V627.6H1167.5V628.6H1168V626.9H1168.5V627.4H1169V628.5H1169.5V626.6H1170V628.4H1170.5V627.9H1171V627H1171.5V623.4H1172.5V623.1H1173V623.5H1173.5V623.7H1174V623.9H1174.5V624.1H1175V622.5H1175.5V622.4H1176V622.8H1176.5V622.2H1177V623H1177.5V623.2H1178V622.8H1178.5V621.6H1179V623.4H1179.5V622.3H1180V622.8H1180.5V621.5H1181V622.4H1182V622.1H1182.5V621.7H1183V643.2ZM1184 643.2V632.5H1184.5V633.5H1185V632.3H1185.5V634H1186V633.6H1186.5V633.9H1187V633.9H1187.5V632.3H1188V632.4H1188.5V633.6H1189.5V633H1190V632.3H1190.5V632.1H1191V632.2H1191.5V632.5H1192V633.5H1192.5V632.9H1193V633.4H1193.5V632.6H1194V632.5H1194.5V633.3H1195V633.1H1195.5V634.4H1196V636.3H1196.5V634.7H1198V636.1H1198.5V635.9H1199V636H1199.5V643.2ZM1200 643.2V621.4H1200.5V620.5H1201V621.2H1201.5V622H1202V620.7H1202.5V621.5H1203V621.1H1203.5V620.8H1204V622.4H1204.5V620.6H1205V620.8H1205.5V621.1H1206V618.5H1206.5V618.6H1207V619.1H1207.5V618.3H1208V619.4H1208.5V618.3H1209V617.9H1209.5V618.3H1210V618H1210.5V617.1H1211V617.2H1211.5V618.9H1212V617.3H1212.5V617.7H1213V619H1213.5V619.5H1214V619.9H1214.5V620.3H1215V619.3H1215.5V618.5H1216V620H1216.5V618.9H1217V619.4H1217.5V620.8H1218V619.2H1218.5V619.9H1219V619.2H1219.5V619.8H1220.5V620.8H1221V619.9H1221.5V619.7H1222V619.9H1222.5V602.4H1223V620.4H1223.5V643.2ZM1226 643.2V607.1H1226.5V608H1227V608.2H1228V607.9H1228.5V608H1229V607.3H1229.5V606.8H1230V607.3H1230.5V607.6H1231V607.1H1231.5V607.9H1232V607.6H1232.5V606.9H1233V607.8H1233.5V608.3H1234V606.7H1234.5V607.1H1235V615.4H1235.5V616.1H1236V617H1236.5V617.2H1237V618.5H1237.5V619.6H1238V617.7H1238.5V615.8H1239V613.4H1239.5V612.7H1240V611H1240.5V608.3H1241V606.7H1241.5V604.3H1242V604.1H1242.5V600.3H1243.5V601.2H1244V599.1H1244.5V600.8H1245V601.1H1245.5V600.3H1246V601H1246.5V600H1247V600.7H1247.5V601.2H1248V601.4H1248.5V599.9H1249V600.9H1249.5V599.8H1250V600.5H1250.5V599.5H1251V601H1251.5V601.1H1252.5V599.9H1253V600.3H1253.5V601H1254V603.5H1254.5V602.3H1255V601.7H1255.5V602.6H1256V604H1257.5V603.9H1258V604.3H1259V603H1259.5V602.5H1260V604.2H1260.5V602.5H1261V603.7H1261.5V603H1262V602.8H1262.5V643.2ZM1264.5 643.2V604.8H1265V607.1H1265.5V606.7H1266V606.3H1266.5V605.7H1267V607.9H1267.5V607.7H1268V606.6H1268.5V594.6H1269V593.9H1269.5V594.1H1270V593.3H1270.5V592.7H1271V594.4H1271.5V607.1H1272V607.3H1272.5V607.1H1273V607.9H1273.5V607.1H1274V608.5H1274.5V643.2ZM1281 643.2V613.6H1281.5V614.7H1282V614.1H1282.5V615.4H1283V616.5H1283.5V617.4H1284V616.7H1284.5V617.6H1285V618H1285.5V619.4H1286V619.2H1286.5V619.9H1287V618.5H1287.5V620H1288V618.9H1288.5V618.2H1289V618.3H1289.5V619.6H1290V619.2H1290.5V617.7H1291V618.1H1291.5V617.5H1292V617.4H1292.5V618.3H1293V617.2H1293.5V617.6H1294V618.4H1294.5V618.2H1295V615.7H1295.5V614.4H1296V612.7H1296.5V614.1H1297V612.6H1297.5V613.1H1298V612.7H1298.5V610.9H1299V611.3H1299.5V643.2ZM1301 643.2V625.9H1301.5V625.8H1302V624.8H1302.5V625H1303V626.4H1303.5V626H1304V624.4H1304.5V626.3H1305V625.6H1305.5V626H1306V625.3H1306.5V625.8H1307V625.5H1307.5V626.2H1308V627.1H1308.5V627.2H1309V627.5H1309.5V625.9H1310V622.2H1311.5V643.2ZM1313.5 643.2V628.3H1314V628.5H1314.5V626.4H1315V628.1H1315.5V626.5H1316V628.4H1316.5V627.5H1317V628.1H1317.5V626.7H1318V627.2H1318.5V627.1H1319V626.8H1319.5V629.8H1320V631H1320.5V630.4H1321V630.7H1321.5V631.5H1322V629.8H1322.5V630.4H1323V629.9H1323.5V631.3H1324V630.5H1324.5V630.7H1325V630.1H1325.5V631.6H1326V631H1326.5V630.6H1327V631.6H1327.5V630.5H1328V630.1H1328.5V630.8H1329V632.2H1329.5V632.3H1330V633.3H1330.5V633H1331V631.6H1331.5V633.2H1332V633H1332.5V633.9H1333V633.6H1333.5V633.8H1334V632.1H1334.5V632.6H1335V643.2ZM1336 643.2V619.6H1337V643.2ZM1343.5 643.2V629.8H1344.5V643.2ZM1345 643.2V635.5H1345.5V635.3H1346V636.2H1346.5V635.5H1347V636.5H1347.5V636.8H1348V635.6H1348.5V635.8H1349V635.7H1349.5V636.9H1350V636.2H1350.5V637.1H1351V643.2ZM1352 643.2V622.5H1352.5V622.4H1353V623.6H1353.5V621.8H1354V623.3H1354.5V643.2ZM1356.5 643.2V637.3H1357V635.8H1357.5V636.8H1358V636.3H1358.5V636H1359V637.4H1359.5V635.8H1360V636.9H1360.5V636.5H1361V643.2ZM1363 643.2V635.4H1363.5V634.8H1364V635H1364.5V636.3H1365V636.9H1365.5V636.7H1366.5V637.7H1367V643.2ZM1368 643.2V639.1H1368.5V637.8H1369V638.1H1369.5V637.6H1370V643.2ZM1372.5 643.2V636.5H1373.5V637.4H1374V637.6H1374.5V637H1375V636.4H1375.5V636H1376V635.7H1376.5V635.9H1377V634.5H1377.5V630.5H1378V630.3H1378.5V629.6H1379V630H1379.5V631.5H1380V635H1380.5V633.8H1381V635.7H1381.5V635.6H1382V634.7H1382.5V634.8H1383V635.7H1383.5V643.2ZM1386 643.2V629.8H1387V643.2ZM1388 643.2V634.8H1388.5V634.3H1389V632.9H1389.5V633.4H1390V632.1H1390.5V632.4H1391V631.8H1391.5V633.8H1392V633.3H1392.5V633.6H1393V632.5H1393.5V632.5H1394V633H1394.5V631.7H1395V632.6H1395.5V632H1396.5V628H1397V628.9H1397.5V629.3H1398V629.8H1398.5V628.9H1399V643.2ZM1412 643.2V629H1412.5V629H1413V628.4H1413.5V628.7H1414V630H1414.5V630.3H1415V628.9H1416V629.5H1416.5V628.8H1417V629.5H1417.5V630.1H1418V630.4H1418.5V630.8H1419V629.3H1419.5V628.8H1420.5V629.8H1421V629.4H1421.5V628.8H1422V629.1H1422.5V629.6H1423V630.1H1423.5V629.8H1424V630.7H1425V629.5H1425.5V624.4H1426V625.4H1426.5V625.7H1427V625.9H1427.5V625.6H1428V624.8H1428.5V643.2ZM1430.5 643.2V620.5H1431V619.4H1431.5V621.3H1432V621H1432.5V620.6H1433V620.9H1433.5V620H1434V620.1H1434.5V619.9H1435V620.7H1435.5V622.1H1436V643.2ZM1441.5 643.2V617.1H1442V616.9H1442.5V620.1H1443V622.3H1443.5V627.8H1444V628.1H1444.5V629.2H1445V630.7H1445.5V629.4H1446V631.6H1446.5V643.2ZM1447.5 643.2V631.5H1448V630.5H1448.5V631.7H1449V631.8H1449.5V630.2H1450.5V631.7H1451V631.5H1451.5V631.8H1452V632.1H1452.5V631.8H1453V627H1453.5V629.3H1454V629.2H1454.5V629.5H1455V630H1455.5V629.2H1456V628.9H1457V631.6H1457.5V631.2H1458V633H1458.5V643.2ZM1460 643.2V631.8H1460.5V629.8H1461V631.4H1461.5V630.5H1462V629.6H1462.5V629.7H1463V618.4H1464.5V643.2ZM1471 643.2V634.3H1472V643.2ZM1473 643.2V638.1H1473.5V639.2H1474V638.7H1474.5V636.9H1475V638.7H1475.5V636.9H1476V638.5H1476.5V636.5H1477V637.2H1478V638.2H1478.5V638.3H1479V636.6H1479.5V637.9H1480V637.8H1480.5V636.2H1481V636H1481.5V637.9H1482V635.7H1482.5V636.6H1483V636.8H1483.5V637.4H1484V636.6H1484.5V635.2H1485V636.7H1485.5V637H1486V636.9H1487V636.2H1487.5V634.8H1488V634.8H1488.5V634.5H1489V632.8H1489.5V632.7H1490V643.2ZM1492 643.2V622.2H1492.5V624.1H1493V626H1493.5V627.9H1494V630.8H1494.5V632.4H1495V632.1H1495.5V630.6H1496V631.6H1496.5V631H1497V631.8H1497.5V632.4H1498V631.6H1498.5V630.6H1499V630.4H1499.5V630.8H1500V631H1500.5V630.7H1501V630.8H1501.5V643.2ZM1504 643.2V635H1504.5V633.5H1505V634.2H1505.5V632.5H1506V630.9H1506.5V630.3H1507V631H1507.5V628.4H1508V627.9H1508.5V629.8H1509V629.9H1509.5V630.4H1510V631.1H1510.5V629.3H1511V631H1511.5V630.2H1512V632.3H1512.5V632.9H1513V631.2H1513.5V631.8H1514V631.6H1514.5V632.7H1515V633.4H1515.5V643.2ZM1516.5 643.2V614.1H1517V615.4H1517.5V614.1H1518.5V614.5H1519V608.1H1519.5V606.9H1520V604.7H1520.5V603.2H1521V601.5H1521.5V599.6H1522V643.2ZM1525.5 643.2V627.2H1526V625.1H1526.5V623.9H1527V622.8H1527.5V621.6H1528V617.7H1528.5V615.9H1529V617.2H1529.5V617.3H1530V616.1H1530.5V615.3H1531V615.9H1531.5V614.9H1532V615.5H1532.5V613.6H1533V615.2H1533.5V615.6H1534V615.9H1534.5V615.5H1535V615.7H1535.5V617.2H1536V617.8H1537V629.7H1537.5V629.3H1538V628.7H1538.5V629.2H1539V631.2H1539.5V629.8H1540V631.3H1540.5V630.3H1541V632.1H1541.5V632.8H1542V643.2ZM1545.5 643.2V604.4H1546V603.3H1546.5V604.1H1547V602.8H1547.5V602.9H1548V603.4H1548.5V603.3H1549V602.5H1550V595.9H1550.5V595.2H1551V594.7H1551.5V603H1552V604H1552.5V603.7H1553V603.3H1553.5V602.6H1554V603.6H1555V603H1556V603.5H1556.5V602.2H1557V601.3H1557.5V602.1H1558V601.5H1558.5V643.2ZM1560 643.2V603.1H1561V602.9H1561.5V604H1562V603.5H1562.5V604.7H1563V597.3H1563.5V599.9H1564V601.3H1564.5V601.8H1565V604.7H1565.5V643.2ZM1566.5 643.2V626.9H1567V623.6H1567.5V622.4H1568V621.8H1568.5V620.1H1569.5V621H1570V619.2H1570.5V620.7H1571V620.6H1571.5V620.4H1572V620.1H1572.5V620.4H1573V620H1574V643.2ZM1575.5 643.2V624.4H1576V625.4H1576.5V623.5H1577V624.4H1577.5V626H1578V625.3H1578.5V624.8H1579V624.5H1579.5V626.8H1580V627.1H1580.5V632.6H1581V632.7H1581.5V631.6H1582V631.8H1582.5V632.9H1583V627.6H1583.5V627.4H1584V626.8H1584.5V628.5H1585V628.2H1585.5V629H1586V627.8H1586.5V629.4H1587V627.4H1587.5V628.5H1588.5V629.7H1589V629.5H1589.5V629.1H1590V628.3H1590.5V629.1H1591V643.2ZM1595 643.2V624.1H1595.5V622.5H1596V623.2H1596.5V623.5H1597V624.3H1597.5V624.1H1598V619.5H1598.5V621.3H1599V620.4H1599.5V620.1H1600V620.8H1600.5V619.8H1601V619.5H1601.5V619.6H1602V619.9H1602.5V606.9H1603.5V643.2ZM1608 643.2V630.7H1608.5V630.8H1609V629.7H1609.5V629.8H1610V629.8H1610.5V628.1H1611V626.8H1611.5V625.4H1612V625H1612.5V626.9H1613V625H1613.5V626.1H1614V626.5H1615V626.8H1615.5V625.7H1616V625.9H1616.5V624.8H1617V643.2Z" fill="#ED1C24"/>
<path d="M858 643.2V665.5H858.5V663.6H859V664.4H859.5V664.3H860V663.8H860.5V663.9H861.5V664.9H862V664H862.5V663.4H863V663.7H863.5V664.1H864V664.4H864.5V663.6H865V664.6H865.5V663.4H866V661.9H866.5V661.7H867V660.6H867.5V661.9H868V661H868.5V661.3H869V661.4H870V660.9H870.5V659.9H871V660.3H871.5V660.4H872V659.6H872.5V659.8H873V659.1H873.5V660.5H874V660H874.5V659H875V660.3H875.5V660.7H876V659.3H876.5V660.7H877V661.5H877.5V660.8H878V662H878.5V661.1H879V662.1H879.5V661.7H880V660.6H880.5V661.6H881V662.3H881.5V661.5H882V661.6H882.5V662.4H883V661.4H883.5V661.5H884V661.7H884.5V662.3H885V660.8H885.5V660.6H886V662.1H886.5V661.6H887V661.1H887.5V657.3H888V656.4H888.5V654.6H889V654.7H889.5V643.2ZM895 643.2V647.6H895.5V647.4H896V646.4H896.5V645.7H897V647.3H897.5V647.4H898V646.5H898.5V646.8H899V647H899.5V646.3H900V647.3H900.5V647H901V646.6H901.5V646H902V647H902.5V646.5H903V647.4H903.5V646.1H904V649.2H904.5V648.9H905V649.5H905.5V650H906V649.1H907V650.3H907.5V649.8H908V650.6H908.5V650H909.5V651.1H910V652.2H910.5V648.4H911V647.6H911.5V647.4H912V646.7H912.5V647.2H913V647.3H913.5V648.8H914V647H914.5V648.9H915V647.9H916V647.5H916.5V649.2H917V647.4H917.5V648.4H918V648.3H918.5V647.6H919V647.7H919.5V649.5H920V649.1H920.5V649.1H921V649.5H921.5V647.7H922V649.1H922.5V649.3H923V643.2ZM960 643.2V646.9H960.5V647.4H961V648.6H961.5V647.2H962V648.2H962.5V646.8H963V648H963.5V647.1H964V647.6H964.5V647.4H965V648.5H965.5V648.2H966V647.7H966.5V648.1H967V647.6H967.5V648.4H968V647.2H968.5V647.9H969V648H969.5V647.5H970V646.8H970.5V647.1H971V648.2H971.5V647.2H972V648.5H972.5V647.9H973V648.9H973.5V648.7H974V648.5H974.5V647.7H975V646.9H975.5V648.1H976V648.6H976.5V649H977V647.3H977.5V647.3H978V649.2H978.5V648.6H979V648H979.5V648.6H980V647.3H980.5V648.2H981V643.2ZM988 643.2V654.3H988.5V654H989V652.8H989.5V652.6H990V643.2ZM990.5 643.2V651.6H991V652H991.5V650.1H992V649.6H993V651H993.5V649.9H994.5V650.9H995V649.8H995.5V648.8H996V649.6H996.5V647.8H997V643.2ZM999 643.2V650.8H999.5V651.8H1000V650.6H1000.5V650.3H1001V643.2ZM1002.5 643.2V650.1H1003V649.7H1003.5V651.1H1004V649.1H1004.5V643.2ZM1008 643.2V647.7H1008.5V643.2ZM1011 643.2V647H1012V643.2ZM1029 643.2V646.3H1029.5V645.4H1030V644.7H1030.5V645.2H1031V645.8H1031.5V645.7H1032V645.8H1032.5V645.1H1033V644.5H1034V645.2H1034.5V644.9H1035V645.8H1035.5V645.1H1036V646.2H1036.5V645.8H1037V646H1037.5V646.1H1038V645.6H1038.5V645.4H1039V643.2ZM1040 643.2V653.4H1040.5V652.8H1041V654.5H1041.5V653.7H1042V652.8H1042.5V654.6H1043V653.8H1043.5V653.8H1044V653.4H1044.5V652.6H1045V654.6H1045.5V652.6H1046V653H1046.5V654.4H1047V643.2ZM1049 643.2V652.4H1049.5V653.2H1050.5V652.7H1051V654.2H1051.5V653H1052V652.1H1052.5V653.2H1053V643.2ZM1053.5 643.2V669.9H1054V671.9H1054.5V672.7H1055V673.2H1055.5V671.6H1056V673.5H1056.5V673H1057V673.8H1057.5V677.6H1058V678.1H1058.5V678.2H1059V679.8H1059.5V679H1060V681.5H1060.5V679.8H1061V682.4H1061.5V681.1H1062V681.3H1062.5V683.3H1063V680.7H1063.5V680.9H1064V679.9H1064.5V679.8H1065V678.1H1065.5V679.1H1066V678.4H1066.5V679H1067V676.4H1067.5V676.2H1068V675.9H1068.5V676.5H1069V675.3H1069.5V675.9H1070V675.5H1070.5V675.1H1071V675.2H1071.5V675.5H1072V674.2H1072.5V674.8H1073V675.7H1073.5V674.6H1074V675H1074.5V674.5H1075V674.7H1075.5V675.3H1076V675.5H1076.5V676H1077V678H1077.5V677.5H1078V677.9H1078.5V677.4H1079V677.9H1079.5V678.8H1080V679H1080.5V678.2H1081.5V678.1H1082V678.4H1082.5V679.2H1083V678.8H1083.5V680.3H1084V679.7H1084.5V679.3H1085V679.6H1085.5V678.8H1086V680.5H1086.5V680.7H1087V679.9H1087.5V680.8H1088V679.9H1089V643.2ZM1091 643.2V650.7H1091.5V650.5H1092V651.4H1093V651.4H1093.5V649.9H1094V651.3H1094.5V650.5H1095V650.2H1095.5V650.3H1096V650.1H1096.5V649.4H1097V649.8H1097.5V650.2H1098.5V650.6H1099V648.9H1099.5V650.3H1100V650H1100.5V649.7H1101V650.2H1101.5V648.2H1102V649.5H1102.5V643.2ZM1104 643.2V651H1104.5V649.7H1105V651.3H1105.5V652.7H1106V651.7H1106.5V653.5H1107V654.2H1107.5V653.6H1108V653.5H1108.5V654.2H1109V656.1H1109.5V655.7H1110V657.9H1110.5V658.2H1111V659.3H1111.5V657.8H1112V657.2H1112.5V659.4H1113V657.9H1113.5V658.1H1114V659.4H1114.5V657.8H1115V657.4H1115.5V659.2H1116V657.7H1116.5V657.7H1117V659.3H1117.5V657.7H1118V656.1H1118.5V654.7H1119V654.6H1119.5V654.3H1120V655H1121V654.6H1121.5V654.8H1122V654.2H1122.5V655.4H1123V655.6H1123.5V655.1H1124V655.2H1124.5V653.4H1125V653.8H1125.5V653.6H1126V653.5H1126.5V655.3H1127V655.1H1128V654.2H1128.5V653.1H1129V653.8H1129.5V650.3H1130V652H1130.5V650.3H1131V650.1H1131.5V651.3H1132V649.4H1132.5V650.8H1133V649.1H1133.5V649.7H1134V648.1H1134.5V649.7H1135V648.3H1135.5V647.9H1136V648.4H1136.5V648H1137V643.2ZM1139 643.2V645.7H1139.5V645.4H1140V646.5H1140.5V645.3H1141V647.3H1141.5V646.1H1142V645.8H1142.5V646.2H1143V645.7H1143.5V646.3H1144V646.8H1144.5V646.6H1145V646.4H1145.5V657.8H1146V644.5H1146.5V644.9H1147V645.5H1147.5V644.7H1148V645.4H1148.5V644.7H1149V644.2H1150V645.4H1150.5V644.5H1151V644.2H1151.5V644.5H1152V645.2H1152.5V644.2H1153V643.2ZM1153.5 643.2V651H1154.5V650.2H1155V651.4H1155.5V651.3H1156V653.2H1156.5V653.1H1157V653.2H1157.5V653.8H1158V652.6H1158.5V654.5H1159V652.5H1159.5V654.2H1160V652.7H1160.5V654.1H1161V652.9H1161.5V652.5H1162V653.6H1162.5V654.3H1163.5V654.4H1164V654.7H1164.5V652.6H1165V653.4H1165.5V652.8H1166V654.3H1166.5V653.6H1167V654.3H1167.5V654.4H1168V654.9H1168.5V654.2H1169V654.7H1169.5V654H1170V653.5H1170.5V655.6H1171V654H1171.5V654.2H1172V656.1H1172.5V655.1H1173V656.2H1173.5V654.9H1174V655.5H1174.5V656.9H1175V655.6H1175.5V656.9H1176V658.1H1176.5V656.6H1177V658H1177.5V660.2H1178V659.9H1178.5V660.3H1179V660.2H1179.5V658.7H1180V659.2H1180.5V660H1181V661.1H1181.5V659.4H1182V660.3H1182.5V659.3H1183V643.2ZM1184 643.2V647.7H1184.5V646.8H1185V647H1185.5V647.3H1186V646.1H1186.5V647.5H1187V647.7H1187.5V647.8H1188V646.5H1188.5V646.4H1189V646.3H1189.5V648H1190V647H1190.5V646.9H1191V647.2H1191.5V647.6H1192V646.8H1192.5V646.8H1193V647.9H1194V646.8H1194.5V646.3H1195V648.3H1195.5V647.9H1196V647.6H1196.5V647.2H1197V648.5H1197.5V647.3H1198V646.8H1198.5V646.5H1199V647.1H1199.5V651.6H1200V651.2H1200.5V652.7H1201V652.2H1201.5V652H1202V652.7H1202.5V652.7H1203V652.9H1203.5V652.8H1204V653.1H1204.5V650H1205V650.8H1205.5V649.4H1206V650.8H1206.5V649.7H1207V651H1207.5V649.2H1208V650.2H1208.5V650.1H1209V650.8H1209.5V649.6H1210V649.8H1210.5V649.5H1211V650.6H1211.5V650.6H1212V649.3H1212.5V649.8H1213V649.8H1213.5V651.6H1214V650.5H1214.5V650.8H1215V650.2H1215.5V651H1216V654H1216.5V653.6H1217V652H1217.5V653H1218V653.1H1218.5V652H1219V653.7H1219.5V652.5H1220V652.4H1220.5V653.2H1221V653H1221.5V652.8H1222V653.6H1222.5V652.8H1223V652.3H1223.5V651.6H1224V643.2ZM1226 643.2V682H1226.5V681.9H1227V682.6H1227.5V682.5H1228V682H1228.5V682.4H1229V683H1229.5V683.2H1230V686.5H1230.5V685.8H1231V685H1231.5V686H1232V685.7H1232.5V684.3H1233V685.8H1233.5V684.5H1234V675.4H1234.5V671.8H1235V673.8H1235.5V671.4H1236V668.3H1236.5V665.6H1237V664.6H1237.5V654.3H1238V652.4H1238.5V652.2H1239V651.4H1239.5V651.2H1240V652.3H1240.5V650.4H1241V651.6H1241.5V650.5H1242V651.2H1243V651.2H1243.5V651.5H1244V649.7H1244.5V650.3H1245V650.5H1245.5V650.7H1246V651.3H1246.5V651.8H1247V651.5H1247.5V652H1248V651.5H1248.5V650.7H1249V651.1H1249.5V651.7H1250V651.9H1250.5V650.9H1251.5V651.5H1252V650.7H1252.5V652.2H1253V650.2H1253.5V651.7H1254V651.4H1254.5V650.8H1255V651.6H1255.5V651.5H1256V652.6H1256.5V652.5H1257V651.8H1257.5V652.5H1258V652.6H1258.5V650.9H1259V652.5H1260V652.9H1260.5V652.4H1261V651.6H1261.5V651.2H1262V652.3H1262.5V643.2ZM1264.5 643.2V670.4H1265V671.6H1265.5V671.1H1266V671.6H1266.5V670.5H1267V670.3H1267.5V671.7H1268V671H1268.5V670.3H1269V670.7H1269.5V670.3H1270V661.8H1270.5V661H1271V659.9H1271.5V660.9H1272V660.1H1272.5V659.3H1273V657.6H1273.5V656.9H1274V657.5H1274.5V643.2ZM1281 643.2V657.2H1281.5V657H1282V656.1H1282.5V657.5H1283V657.2H1283.5V657.1H1284V657.8H1284.5V657.6H1285V658.3H1285.5V658.7H1286V662.6H1286.5V660.8H1287V662.1H1287.5V663.2H1288V662.7H1289V663.6H1289.5V661.9H1290V663.9H1290.5V663.7H1291V663.8H1291.5V663.4H1292V664.3H1292.5V663.4H1293V664.5H1293.5V664.1H1294V665.9H1294.5V665.8H1295V661.5H1295.5V661.5H1296V660.1H1296.5V659.9H1297V658.5H1297.5V659.5H1298V658.7H1298.5V658.2H1299V656H1299.5V643.2ZM1301 643.2V651.4H1301.5V649.6H1302V650.9H1302.5V650.8H1303V649.8H1303.5V650.7H1304V651.8H1304.5V651.2H1305V650.5H1305.5V651.7H1306V650.7H1306.5V652H1307V650.9H1307.5V650.2H1308V652.3H1308.5V650.2H1309V650.7H1309.5V651.9H1310V643.2ZM1312 643.2V656.8H1312.5V658.1H1313V659.1H1313.5V658.7H1314V658.4H1314.5V659.7H1315V660.1H1315.5V659.8H1316V660.2H1316.5V659.7H1317V660.2H1317.5V661.8H1318V662.1H1318.5V660.1H1319V662.1H1319.5V662.3H1320V663.8H1320.5V662.7H1321V662.8H1321.5V664.4H1322V663.2H1322.5V665.2H1323V664.2H1323.5V665.4H1324.5V664.2H1325V665.7H1325.5V665.1H1326V664.8H1326.5V664.6H1327V666.3H1327.5V666.2H1328V665.8H1328.5V667.2H1329V664.6H1329.5V665H1330V664H1330.5V664.4H1331V665.4H1331.5V664.3H1332V663.3H1333V664H1333.5V662.9H1334V664.1H1334.5V662H1335V643.2ZM1343.5 643.2V650.3H1344V649.7H1344.5V650.2H1345V649.1H1345.5V648.4H1346V648.7H1346.5V649.7H1347V648.3H1347.5V648.5H1348V650.1H1348.5V650.3H1349V650.2H1350V649.5H1350.5V650.3H1351V643.2ZM1352 643.2V653.7H1352.5V653.4H1353V653.1H1353.5V652.1H1354V652.3H1354.5V643.2ZM1356.5 643.2V651.4H1357V651.8H1357.5V651H1358V652.8H1358.5V651.9H1359V652.2H1359.5V652.4H1360V650.8H1360.5V652.3H1361V643.2ZM1363 643.2V659.4H1363.5V657.9H1364V657.6H1364.5V659.3H1365V659.5H1365.5V659.4H1366V658.6H1366.5V659.1H1367V643.2ZM1368 643.2V658.7H1368.5V659H1369V659.4H1369.5V660.2H1370V643.2ZM1372.5 643.2V664.4H1373V666.5H1373.5V664.6H1374V666.9H1374.5V665.4H1375V666.9H1375.5V667H1376V667.5H1376.5V661.4H1377V660.9H1377.5V658.9H1378V659H1378.5V656.3H1379V656.9H1379.5V655.2H1380V643.2ZM1381.5 643.2V646.5H1382V648.5H1382.5V647.1H1383V646.5H1383.5V643.2ZM1386 643.2V645H1386.5V644.5H1387V645.1H1387.5V646.1H1388V646.7H1388.5V645.9H1389V646.4H1389.5V646.3H1390V646.1H1390.5V645.3H1391V645H1391.5V644.8H1392V645.7H1392.5V644.9H1393V646.1H1393.5V645.2H1394V645.8H1394.5V645.7H1395V645.9H1395.5V644.8H1396V645H1396.5V648.6H1397V647.5H1397.5V648.5H1398V649.2H1398.5V647.9H1399V643.2ZM1412 643.2V670.2H1412.5V670.5H1413V672.4H1413.5V672.6H1414V674.2H1414.5V675.2H1415.5V677.1H1416V678.4H1416.5V679.2H1417V680.8H1417.5V682.5H1418V683.4H1418.5V684.5H1419V682.1H1419.5V682.5H1420V681.5H1420.5V681.3H1421V678.3H1421.5V677.8H1422V678.7H1422.5V676.5H1423V676.3H1423.5V675.2H1424V673.9H1424.5V673.1H1425V671.8H1425.5V672.7H1426V671.6H1426.5V672.1H1427V670.9H1427.5V671.7H1428V671.4H1428.5V643.2ZM1430.5 643.2V669.7H1431V669.5H1431.5V667H1432V668.5H1432.5V667.1H1433V665.7H1433.5V665.6H1434V664.2H1434.5V663.9H1435V664.7H1435.5V663.9H1436V643.2ZM1442 643.2V650.9H1442.5V652.4H1443V652.7H1443.5V652.5H1444V654.3H1444.5V653.2H1445V654.9H1445.5V654.6H1446V654.8H1446.5V643.2ZM1447.5 643.2V661.5H1448V661.6H1448.5V661.8H1449V661.3H1449.5V662.6H1450V662.3H1450.5V660.9H1451V660.6H1451.5V662.8H1452V661.6H1452.5V660.9H1453V661.1H1453.5V662.3H1454V661.1H1454.5V661.6H1455V662.4H1455.5V661.6H1456V662.4H1456.5V663.1H1457V662.7H1457.5V662.4H1458.5V643.2ZM1460 643.2V659.2H1460.5V660.1H1461V660.3H1462.5V661.1H1463V660.1H1463.5V661.4H1464V662.2H1464.5V660.3H1465V643.2ZM1471 643.2V652.8H1472V643.2ZM1473 643.2V652.7H1473.5V654.8H1474V653.1H1474.5V655.2H1475V655H1475.5V654.2H1476V655.9H1476.5V654.9H1477V654.7H1477.5V653.4H1478V654.9H1479V653.2H1479.5V653.8H1480V653.2H1480.5V654.7H1481V653.2H1482V653.3H1482.5V655H1483V653.6H1483.5V653.8H1484V654.1H1484.5V654.4H1485V654.1H1485.5V655.4H1486V654H1486.5V654.3H1487V655.3H1487.5V653.9H1488V653.7H1488.5V659.1H1490V643.2ZM1492.5 643.2V678.8H1493V677.8H1493.5V679.3H1494.5V678.3H1495.5V678H1496V679.9H1496.5V679.1H1497V680.9H1497.5V680.2H1498V679.9H1498.5V681.1H1499V679H1499.5V679.6H1500V679.4H1500.5V678.8H1501V678.4H1501.5V643.2ZM1504 643.2V690.6H1504.5V690.3H1505V691.9H1505.5V692.3H1506V691.7H1506.5V691.2H1507V692.9H1507.5V691.5H1508V691.6H1508.5V692.9H1509V693.5H1509.5V693.1H1510V692.3H1510.5V695.7H1511V694.4H1511.5V695.4H1512V697.5H1512.5V697.6H1513V698.1H1513.5V697.1H1514V699.5H1514.5V699H1515V698.7H1515.5V690.2H1516V690.5H1516.5V688.5H1517V689.4H1517.5V690.5H1518V689.1H1518.5V689.1H1519V680H1519.5V677.5H1520V677.1H1520.5V675.1H1521V673.4H1521.5V671.3H1522V643.2ZM1525.5 643.2V647.4H1526V648.6H1526.5V648.3H1527V648H1527.5V648.2H1528V647.6H1528.5V647.3H1529V649H1529.5V647.7H1530V647.1H1530.5V649H1531V648H1531.5V648.3H1532V647.5H1532.5V647.1H1533V647.5H1533.5V648.6H1534V647.3H1534.5V648.7H1535V647.3H1535.5V648.7H1536V647H1536.5V647.6H1537V646.8H1538V647.7H1538.5V647.3H1539V647.7H1539.5V647H1540V647.1H1541V648.5H1541.5V646.6H1542V643.2ZM1545.5 643.2V653.7H1546V655.1H1546.5V654.9H1547V654.6H1547.5V656.7H1548V655.1H1548.5V658.8H1549V658.2H1549.5V659H1550V659.7H1550.5V658.1H1551V657.8H1551.5V658.8H1552V656.9H1552.5V656.5H1553V657.7H1553.5V653.6H1554V654.5H1554.5V653.6H1555V654.6H1555.5V655.1H1556V654.1H1556.5V653.6H1557V654.3H1557.5V654.5H1558V652.9H1558.5V643.2ZM1560 643.2V662.2H1560.5V663.5H1561V664.8H1561.5V665.3H1562V667.2H1562.5V661H1563V661.2H1563.5V658.6H1564V657.1H1564.5V655.5H1565V654.3H1565.5V643.2ZM1566.5 643.2V649.4H1567V651.7H1567.5V651.3H1568V652.2H1568.5V654.1H1569V654.8H1569.5V655.1H1570V654.7H1570.5V655.6H1571V656.8H1571.5V656.9H1572V657.9H1572.5V656.6H1574V643.2ZM1575.5 643.2V651.9H1576V651.6H1576.5V652.4H1577V651.7H1577.5V650.9H1578V650.6H1578.5V650.6H1579V650.4H1579.5V648.4H1580V650H1580.5V644.9H1581V644.6H1581.5V646H1582V645.5H1582.5V644.5H1583V644.2H1583.5V644.6H1584.5V644.4H1585V644.2H1585.5V644.8H1586V644.2H1586.5V645.2H1587V644.6H1587.5V644.2H1588V645.3H1588.5V644.4H1589V644.2H1591V643.2ZM1595 643.2V652.3H1595.5V652.8H1596V652.5H1596.5V651.8H1597V652.4H1597.5V652.8H1598V653.6H1598.5V654.6H1599V653.6H1599.5V656.4H1600V656.5H1600.5V657.2H1601V657.8H1601.5V657H1602V657.7H1602.5V657.2H1603V657.8H1603.5V658.4H1604V643.2ZM1608 643.2V656.7H1608.5V657.8H1609.5V657.1H1610V657.3H1610.5V658.6H1611V657.6H1611.5V657.2H1612V657.5H1612.5V658.1H1613V657.8H1613.5V657.7H1614.5V657.5H1615V658.2H1615.5V658.5H1616V657.3H1616.5V658.5H1617V643.2Z" fill="#2E3192"/>
<line x1="827.3" y1="624.7" x2="1647.7" y2="624.7" stroke="#00AEEF" stroke-width="1.7" stroke-dasharray="7.1 8.13" stroke-dashoffset="0.3"/>
<line x1="827.3" y1="661.7" x2="1647.7" y2="661.7" stroke="#00AEEF" stroke-width="1.7" stroke-dasharray="7.1 8.13" stroke-dashoffset="0.3"/>
<line x1="817.5" y1="643.2" x2="1647.7" y2="643.2" stroke="#000" stroke-width="1.5"/>
<path d="M827.3 543.2H1647.7V743.2H827.3Z" fill="none" stroke="#333" stroke-width="1.6"/>
<line x1="817.5" y1="550.4" x2="827.3" y2="550.4" stroke="#000" stroke-width="1.4"/>
<text transform="translate(772 563.3) scale(1 1.035)" font-size="27">100</text>
<line x1="817.5" y1="596.8" x2="827.3" y2="596.8" stroke="#000" stroke-width="1.4"/>
<text transform="translate(787 604) scale(1 1.035)" font-size="27">50</text>
<text transform="translate(802 652.9) scale(1 1.035)" font-size="27">0</text>
<line x1="817.5" y1="689.6" x2="827.3" y2="689.6" stroke="#000" stroke-width="1.4"/>
<text transform="translate(787 701.9) scale(1 1.035)" font-size="27">50</text>
<line x1="817.5" y1="736" x2="827.3" y2="736" stroke="#000" stroke-width="1.4"/>
<text transform="translate(772 746.5) scale(1 1.035)" font-size="27">100</text>
<text transform="translate(843.5 725) scale(1 1.035)" font-size="30.4">HFGC(n=48)</text>
<path d="M857.7 760.4V960.5M923.3 760.4V960.5M987.4 760.4V960.5M1039.8 760.4V960.5M1089.9 760.4V960.5M1138 760.4V960.5M1183.2 760.4V960.5M1225.2 760.4V960.5M1263.7 760.4V960.5M1300.3 760.4V960.5M1335.9 760.4V960.5M1371.5 760.4V960.5M1406.3 760.4V960.5M1436.9 760.4V960.5M1465.4 760.4V960.5M1492.1 760.4V960.5M1515.8 760.4V960.5M1538.1 760.4V960.5M1559.1 760.4V960.5M1574.6 760.4V960.5M1591.8 760.4V960.5M1604.3 760.4V960.5M1617.7 760.4V960.5" fill="none" stroke="#b4b4b4" stroke-width="1.3"/>
<path d="M890 760.4V960.5M947.9 760.4V960.5M1011.3 760.4V960.5M1052.9 760.4V960.5M1103 760.4V960.5M1153.5 760.4V960.5M1199 760.4V960.5M1237 760.4V960.5M1275.1 760.4V960.5M1311 760.4V960.5M1349.6 760.4V960.5M1380.8 760.4V960.5M1411.1 760.4V960.5M1441.3 760.4V960.5M1470.2 760.4V960.5M1501.7 760.4V960.5M1522.4 760.4V960.5M1543 760.4V960.5M1566 760.4V960.5M1582.3 760.4V960.5M1595 760.4V960.5M1607.7 760.4V960.5" fill="none" stroke="#b4b4b4" stroke-width="1.3" stroke-dasharray="7.3 11" stroke-dashoffset="-9.7"/>
<line x1="827.3" y1="814" x2="1647.7" y2="814" stroke="#231F20" stroke-width="1.4" stroke-dasharray="8.3 9.99" stroke-dashoffset="0.9"/>
<line x1="827.3" y1="906.8" x2="1647.7" y2="906.8" stroke="#231F20" stroke-width="1.4" stroke-dasharray="8.3 9.99" stroke-dashoffset="0.9"/>
<path d="M858.5 860.4V847.1H861.5V840.5H862V833.9H862.5V840.5H864V833.9H865V840.5H866V847.1H867V860.4ZM868.5 860.4V853.8H870V860.4ZM876 860.4V853.8H877V860.4ZM878 860.4V853.8H879.5V860.4ZM880 860.4V853.8H881.5V860.4ZM882 860.4V853.8H886V860.4ZM895.5 860.4V840.5H897.5V833.9H907V840.5H909.5V833.9H912.5V840.5H919.5V833.9H920V840.5H923V860.4ZM961 860.4V853.8H968.5V860.4ZM970 860.4V853.8H975.5V860.4ZM976 860.4V853.8H981.5V860.4ZM988.5 860.4V853.8H990V860.4ZM991 860.4V853.8H992V847.1H993V853.8H996.5V847.1H997.5V860.4ZM999 860.4V840.5H1000V847.1H1001.5V860.4ZM1008 860.4V853.8H1009V860.4ZM1037 860.4V853.8H1039V860.4ZM1041 860.4V847.1H1042.5V860.4ZM1044 860.4V853.8H1045V860.4ZM1046 860.4V853.8H1047V847.1H1048V860.4ZM1049 860.4V847.1H1050.5V853.8H1051V847.1H1053V853.8H1053.5V860.4ZM1055 860.4V847.1H1056V853.8H1057.5V860.4ZM1058.5 860.4V847.1H1059V840.5H1061V833.9H1064.5V840.5H1070V860.4ZM1070.5 860.4V840.5H1076V860.4ZM1076.5 860.4V840.5H1084V833.9H1085.5V840.5H1088V827.2H1089.5V860.4ZM1091 860.4V847.1H1102.5V860.4ZM1104 860.4V847.1H1105V840.5H1112V860.4ZM1112.5 860.4V840.5H1114V833.9H1115V840.5H1116.5V847.1H1124V860.4ZM1125 860.4V853.8H1128V860.4ZM1132 860.4V853.8H1133V860.4ZM1136.5 860.4V847.1H1137.5V860.4ZM1139.5 860.4V853.8H1140.5V860.4ZM1149 860.4V853.8H1150V860.4ZM1155 860.4V853.8H1156V860.4ZM1156.5 860.4V853.8H1157.5V860.4ZM1162 860.4V853.8H1165.5V860.4ZM1168 860.4V853.8H1170V860.4ZM1171.5 860.4V853.8H1173.5V860.4ZM1175 860.4V853.8H1178.5V860.4ZM1184 860.4V853.8H1185.5V860.4ZM1198 860.4V853.8H1199V860.4ZM1200 860.4V847.1H1201.5V853.8H1202V847.1H1204V860.4ZM1209 860.4V847.1H1211V860.4ZM1217 860.4V853.8H1222.5V827.2H1224V847.1H1225V860.4ZM1226 860.4V820.6H1227V807.4H1231V800.7H1234V820.6H1235V860.4ZM1238 860.4V840.5H1239V833.9H1246.5V840.5H1261.5V860.4ZM1262.5 860.4V833.9H1263.5V860.4ZM1265 860.4V814H1266V827.2H1269V807.4H1270.5V800.7H1272V833.9H1273V847.1H1274.5V860.4ZM1283 860.4V853.8H1292V860.4ZM1295 860.4V853.8H1296.5V833.9H1300V860.4ZM1312.5 860.4V853.8H1316.5V847.1H1317.5V853.8H1318V847.1H1319.5V853.8H1323.5V847.1H1326V853.8H1335V860.4ZM1335.5 860.4V853.8H1337.5V860.4ZM1343.5 860.4V853.8H1345V860.4ZM1346.5 860.4V853.8H1347.5V860.4ZM1348.5 860.4V853.8H1349.5V860.4ZM1357.5 860.4V853.8H1361V860.4ZM1363 860.4V853.8H1365V860.4ZM1366 860.4V853.8H1367V860.4ZM1368 860.4V853.8H1369.5V860.4ZM1377 860.4V853.8H1378V860.4ZM1379.5 860.4V853.8H1381V860.4ZM1390 860.4V853.8H1391.5V847.1H1396V853.8H1399V860.4ZM1412 860.4V853.8H1425V860.4ZM1426 860.4V853.8H1429V860.4ZM1431 860.4V853.8H1434V860.4ZM1436 860.4V853.8H1437V860.4ZM1442 860.4V853.8H1448V860.4ZM1449 860.4V853.8H1456V860.4ZM1457 860.4V853.8H1459V860.4ZM1462 860.4V853.8H1465V860.4ZM1471 860.4V847.1H1472V860.4ZM1473.5 860.4V853.8H1490V860.4ZM1493 860.4V840.5H1494V860.4ZM1495 860.4V853.8H1497V860.4ZM1498 860.4V853.8H1500V860.4ZM1504 860.4V853.8H1508.5V860.4ZM1509 860.4V847.1H1510.5V833.9H1511.5V847.1H1514V827.2H1515V820.6H1516V860.4ZM1517 860.4V794.1H1519V787.5H1522.5V860.4ZM1528 860.4V853.8H1537.5V860.4ZM1546 860.4V840.5H1551.5V833.9H1552V840.5H1558.5V860.4ZM1560 860.4V800.7H1562.5V807.4H1564V820.6H1566V860.4ZM1566.5 860.4V853.8H1572V847.1H1574V860.4ZM1576.5 860.4V853.8H1577V847.1H1578.5V853.8H1583V847.1H1585V853.8H1591V860.4ZM1595.5 860.4V853.8H1596V847.1H1598V853.8H1599V847.1H1600.5V853.8H1601V860.4ZM1603 860.4V827.2H1603.5V814H1604V860.4ZM1611 860.4V853.8H1611.5V860.4Z" fill="#ED1C24"/>
<path d="M858.5 860.4V867H862.5V860.4ZM866.5 860.4V867H867V873.7H869V867H873.5V860.4ZM879.5 860.4V867H890V860.4ZM896.5 860.4V867H901V873.7H903.5V867H906.5V873.7H911V867H923V860.4ZM988.5 860.4V867H990V860.4ZM991 860.4V867H997V860.4ZM999 860.4V867H1000.5V873.7H1001V867H1001.5V860.4ZM1003.5 860.4V867H1005V860.4ZM1008 860.4V867H1009V860.4ZM1032 860.4V867H1033V860.4ZM1037.5 860.4V867H1040V873.7H1040.5V867H1041.5V860.4ZM1050 860.4V867H1051V860.4ZM1058.5 860.4V867H1061V860.4ZM1062 860.4V867H1062.5V860.4ZM1079 860.4V867H1080.5V860.4ZM1083 860.4V867H1085V860.4ZM1091 860.4V867H1095V860.4ZM1096 860.4V867H1102.5V860.4ZM1104 860.4V867H1106V873.7H1106.5V867H1115V873.7H1116V867H1118.5V860.4ZM1123.5 860.4V867H1125V860.4ZM1125.5 860.4V867H1127.5V860.4ZM1134.5 860.4V867H1135.5V860.4ZM1140 860.4V867H1142.5V873.7H1148.5V867H1149.5V860.4ZM1152.5 860.4V867H1153.5V860.4ZM1160 860.4V867H1163.5V860.4ZM1164.5 860.4V867H1169.5V860.4ZM1177.5 860.4V867H1178.5V860.4ZM1184.5 860.4V867H1185.5V873.7H1187.5V880.3H1188.5V873.7H1189V860.4ZM1198 860.4V867H1199V860.4ZM1200 860.4V873.7H1201.5V867H1202V873.7H1204V867H1204.5V860.4ZM1206 860.4V873.7H1207V860.4ZM1209 860.4V867H1211V873.7H1211.5V860.4ZM1217 860.4V867H1218V860.4ZM1220 860.4V867H1221V860.4ZM1222.5 860.4V867H1224V860.4ZM1226.5 860.4V867H1230V860.4ZM1230.5 860.4V867H1234V860.4ZM1234.5 860.4V867H1237V860.4ZM1240 860.4V867H1241.5V860.4ZM1244.5 860.4V867H1245V873.7H1246V880.3H1247V873.7H1249.5V867H1253V873.7H1254.5V886.9H1255.5V880.3H1259V886.9H1259.5V880.3H1260V873.7H1260.5V860.4ZM1262.5 860.4V867H1264V860.4ZM1265 860.4V867H1268V860.4ZM1269.5 860.4V867H1271V860.4ZM1272.5 860.4V867H1274.5V860.4ZM1281 860.4V867H1292V873.7H1295V867H1296V873.7H1300V860.4ZM1302 860.4V867H1305V860.4ZM1307.5 860.4V867H1310V860.4ZM1319 860.4V867H1320.5V860.4ZM1326 860.4V867H1327V860.4ZM1328 860.4V867H1328.5V860.4ZM1336.5 860.4V873.7H1337.5V860.4ZM1350.5 860.4V867H1354.5V860.4ZM1357.5 860.4V867H1359V860.4ZM1373 860.4V867H1374V860.4ZM1380 860.4V867H1381V860.4ZM1386 860.4V867H1387V860.4ZM1412.5 860.4V867H1415V860.4ZM1417.5 860.4V867H1419.5V873.7H1420.5V867H1421V860.4ZM1426 860.4V867H1427V860.4ZM1432 860.4V867H1433.5V860.4ZM1436 860.4V867H1436.5V860.4ZM1442 860.4V886.9H1444V860.4ZM1471 860.4V867H1471.5V860.4ZM1473.5 860.4V867H1475V860.4ZM1476 860.4V867H1481V860.4ZM1481.5 860.4V867H1489V873.7H1490V860.4ZM1509.5 860.4V867H1512.5V860.4ZM1514.5 860.4V867H1515.5V860.4ZM1519.5 860.4V867H1521V860.4ZM1525.5 860.4V867H1526V873.7H1527V867H1531.5V873.7H1534V867H1536V873.7H1537V860.4ZM1541.5 860.4V867H1542V860.4ZM1560 860.4V867H1565V860.4ZM1567.5 860.4V867H1570.5V880.3H1571V867H1574V860.4ZM1588 860.4V867H1589V860.4ZM1591 860.4V880.3H1592V860.4ZM1596.5 860.4V867H1598V860.4ZM1599 860.4V867H1600V860.4ZM1601 860.4V867H1602V860.4ZM1603 860.4V867H1604V860.4ZM1611 860.4V867H1617V860.4Z" fill="#2E3192"/>
<line x1="827.3" y1="841.9" x2="1647.7" y2="841.9" stroke="#00AEEF" stroke-width="1.7" stroke-dasharray="7.1 8.13" stroke-dashoffset="0.3"/>
<line x1="827.3" y1="878.9" x2="1647.7" y2="878.9" stroke="#00AEEF" stroke-width="1.7" stroke-dasharray="7.1 8.13" stroke-dashoffset="0.3"/>
<line x1="817.5" y1="860.4" x2="1647.7" y2="860.4" stroke="#000" stroke-width="1.5"/>
<path d="M827.3 760.4H1647.7V960.5H827.3Z" fill="none" stroke="#333" stroke-width="1.6"/>
<line x1="817.5" y1="767.6" x2="827.3" y2="767.6" stroke="#000" stroke-width="1.4"/>
<text transform="translate(772 781.5) scale(1 1.035)" font-size="27">100</text>
<line x1="817.5" y1="814" x2="827.3" y2="814" stroke="#000" stroke-width="1.4"/>
<text transform="translate(787 825.5) scale(1 1.035)" font-size="27">50</text>
<text transform="translate(802 869.4) scale(1 1.035)" font-size="27">0</text>
<line x1="817.5" y1="906.8" x2="827.3" y2="906.8" stroke="#000" stroke-width="1.4"/>
<text transform="translate(787 915) scale(1 1.035)" font-size="27">50</text>
<line x1="817.5" y1="953.2" x2="827.3" y2="953.2" stroke="#000" stroke-width="1.4"/>
<text transform="translate(772 962.3) scale(1 1.035)" font-size="27">100</text>
<text transform="translate(846.3 946.5) scale(1 1.035)" font-size="30.4">LFGC (n=14)</text>
<text transform="translate(760.2 751.7) rotate(-90) scale(1 1.035)" x="-225.3" y="0" font-size="30.4">SCNA Frequency (% of Samples)</text>
<text transform="translate(882.3 986.6) scale(1 1.035)" font-size="26.5">1</text>
<text transform="translate(944.6 986.6) scale(1 1.035)" font-size="26.5">2</text>
<text transform="translate(1004.6 986.6) scale(1 1.035)" font-size="26.5">3</text>
<text transform="translate(1046.7 986.6) scale(1 1.035)" font-size="26.5">4</text>
<text transform="translate(1095.4 986.6) scale(1 1.035)" font-size="26.5">5</text>
<text transform="translate(1146.2 986.6) scale(1 1.035)" font-size="26.5">6</text>
<text transform="translate(1191.4 986.6) scale(1 1.035)" font-size="26.5">7</text>
<text transform="translate(1233.2 986.6) scale(1 1.035)" font-size="26.5">8</text>
<text transform="translate(1270.4 986.6) scale(1 1.035)" font-size="26.5">9</text>
<text transform="translate(1297.8 986.6) scale(1 1.035)" font-size="26.5">10</text>
<text transform="translate(1334.7 986.6) scale(1 1.035)" font-size="26.5">11</text>
<text transform="translate(1369.2 986.6) scale(1 1.035)" font-size="26.5">12</text>
<text transform="translate(1402.2 986.6) scale(1 1.035)" font-size="26.5">13</text>
<text transform="translate(1433.1 986.6) scale(1 1.035)" font-size="26.5">14</text>
<text transform="translate(1462.8 986.6) scale(1 1.035)" font-size="26.5">15</text>
<text transform="translate(1489.9 986.6) scale(1 1.035)" font-size="26.5">16</text>
<text transform="translate(1532.4 986.6) scale(1 1.035)" font-size="26.5">18</text>
<text transform="translate(1570.1 986.6) scale(1 1.035)" font-size="26.5">20</text>
<text transform="translate(1603.2 986.6) scale(1 1.035)" font-size="26.5">22</text>
<text transform="translate(1509.4 1012.5) scale(1 1.035)" font-size="26.5">17</text>
<text transform="translate(1547.1 1012.5) scale(1 1.035)" font-size="26.5">19</text>
<text transform="translate(1585.1 1012.5) scale(1 1.035)" font-size="26.5">21</text>
<text transform="translate(1162.5 1024.3) scale(1 1.035)" font-size="27.3">chromosome</text>
</g>
<g id="panelD">
<text transform="translate(-0.1 1129.4) scale(1 1.035)" font-size="42">D</text>
<text transform="translate(298.8 1142.4) scale(1 1.035)" font-size="30.4">Thai HCC</text>
<text transform="translate(97.9 1185.9) scale(1 1.035)" font-size="30.4">LFGC</text>
<text transform="translate(453.4 1185.2) scale(1 1.035)" font-size="30.4">HFGC</text>
<defs><filter id="bl" x="-2%" y="-2%" width="104%" height="104%"><feGaussianBlur stdDeviation="1.3"/></filter>
<clipPath id="ch"><rect x="96.6" y="1191" width="564.8" height="403"/></clipPath>
<linearGradient id="cg" x1="0" x2="1" y1="0" y2="0"><stop offset="0" stop-color="#0000ff"/><stop offset=".5" stop-color="#ffffff"/><stop offset="1" stop-color="#ffff00"/></linearGradient></defs>
<g clip-path="url(#ch)"><g filter="url(#bl)">
<rect x="90.6" y="1185" width="576.8" height="415" fill="#fffff0"/>
<path d="M96.6 1191h9.1v6.5h-9.1zM114.8 1191h9.1v6.5h-9.1zM133 1191h9.1v6.5h-9.1zM196.8 1191h9.1v6.5h-9.1zM205.9 1191h9.1v6.5h-9.1zM215 1191h9.1v6.5h-9.1zM96.6 1197.5h9.1v6.5h-9.1zM114.8 1197.5h9.1v6.5h-9.1zM133 1197.5h9.1v6.5h-9.1zM160.4 1197.5h9.1v6.5h-9.1zM169.5 1197.5h9.1v6.5h-9.1zM196.8 1197.5h9.1v6.5h-9.1zM96.6 1204h9.1v6.5h-9.1zM105.7 1204h9.1v6.5h-9.1zM114.8 1204h9.1v6.5h-9.1zM133 1204h9.1v6.5h-9.1zM142.1 1204h9.1v6.5h-9.1zM160.4 1204h9.1v6.5h-9.1zM169.5 1204h9.1v6.5h-9.1zM178.6 1204h9.1v6.5h-9.1zM105.7 1210.5h9.1v6.5h-9.1zM114.8 1210.5h9.1v6.5h-9.1zM133 1210.5h9.1v6.5h-9.1zM169.5 1210.5h9.1v6.5h-9.1zM178.6 1210.5h9.1v6.5h-9.1zM123.9 1249.5h9.1v6.5h-9.1zM151.3 1249.5h9.1v6.5h-9.1zM114.8 1256h9.1v6.5h-9.1zM123.9 1256h9.1v6.5h-9.1zM169.5 1256h9.1v6.5h-9.1zM114.8 1262.5h9.1v6.5h-9.1zM123.9 1262.5h9.1v6.5h-9.1zM114.8 1269h9.1v6.5h-9.1zM123.9 1269h9.1v6.5h-9.1zM105.7 1275.5h9.1v6.5h-9.1zM114.8 1275.5h9.1v6.5h-9.1zM123.9 1275.5h9.1v6.5h-9.1zM133 1275.5h9.1v6.5h-9.1zM142.1 1275.5h9.1v6.5h-9.1zM105.7 1282h9.1v6.5h-9.1zM114.8 1282h9.1v6.5h-9.1zM133 1282h9.1v6.5h-9.1zM142.1 1282h9.1v6.5h-9.1zM105.7 1288.5h9.1v6.5h-9.1zM114.8 1288.5h9.1v6.5h-9.1zM133 1288.5h9.1v6.5h-9.1zM105.7 1295h9.1v6.5h-9.1zM133 1295h9.1v6.5h-9.1zM105.7 1301.5h9.1v6.5h-9.1zM114.8 1301.5h9.1v6.5h-9.1zM133 1301.5h9.1v6.5h-9.1zM169.5 1301.5h9.1v6.5h-9.1zM105.7 1308h9.1v6.5h-9.1zM114.8 1308h9.1v6.5h-9.1zM169.5 1308h9.1v6.5h-9.1zM105.7 1314.5h9.1v6.5h-9.1zM114.8 1314.5h9.1v6.5h-9.1zM123.9 1314.5h9.1v6.5h-9.1zM142.1 1314.5h9.1v6.5h-9.1zM169.5 1314.5h9.1v6.5h-9.1zM105.7 1321h9.1v6.5h-9.1zM114.8 1321h9.1v6.5h-9.1zM123.9 1321h9.1v6.5h-9.1zM142.1 1321h9.1v6.5h-9.1zM169.5 1321h9.1v6.5h-9.1zM205.9 1321h9.1v6.5h-9.1zM105.7 1327.5h9.1v6.5h-9.1zM114.8 1327.5h9.1v6.5h-9.1zM169.5 1327.5h9.1v6.5h-9.1zM205.9 1327.5h9.1v6.5h-9.1zM105.7 1334h9.1v6.5h-9.1zM114.8 1334h9.1v6.5h-9.1zM169.5 1334h9.1v6.5h-9.1zM178.6 1334h9.1v6.5h-9.1zM205.9 1334h9.1v6.5h-9.1zM105.7 1340.5h9.1v6.5h-9.1zM114.8 1340.5h9.1v6.5h-9.1zM151.3 1340.5h9.1v6.5h-9.1zM169.5 1340.5h9.1v6.5h-9.1zM178.6 1340.5h9.1v6.5h-9.1zM187.7 1340.5h9.1v6.5h-9.1zM205.9 1340.5h9.1v6.5h-9.1zM105.7 1347h9.1v6.5h-9.1zM114.8 1347h9.1v6.5h-9.1zM123.9 1347h9.1v6.5h-9.1zM142.1 1347h9.1v6.5h-9.1zM169.5 1347h9.1v6.5h-9.1zM205.9 1347h9.1v6.5h-9.1zM114.8 1353.5h9.1v6.5h-9.1zM123.9 1353.5h9.1v6.5h-9.1zM169.5 1353.5h9.1v6.5h-9.1zM205.9 1353.5h9.1v6.5h-9.1zM169.5 1360h9.1v6.5h-9.1zM169.5 1366.5h9.1v6.5h-9.1zM169.5 1373h9.1v6.5h-9.1zM169.5 1379.5h9.1v6.5h-9.1zM123.9 1392.5h9.1v6.5h-9.1zM187.7 1392.5h9.1v6.5h-9.1zM123.9 1399h9.1v6.5h-9.1zM169.5 1399h9.1v6.5h-9.1zM169.5 1405.5h9.1v6.5h-9.1zM169.5 1412h9.1v6.5h-9.1zM178.6 1412h9.1v6.5h-9.1zM187.7 1412h9.1v6.5h-9.1zM105.7 1418.5h9.1v6.5h-9.1zM178.6 1418.5h9.1v6.5h-9.1zM187.7 1418.5h9.1v6.5h-9.1zM105.7 1425h9.1v6.5h-9.1zM114.8 1425h9.1v6.5h-9.1zM187.7 1425h9.1v6.5h-9.1zM114.8 1431.5h9.1v6.5h-9.1zM123.9 1431.5h9.1v6.5h-9.1zM169.5 1431.5h9.1v6.5h-9.1zM123.9 1438h9.1v6.5h-9.1zM169.5 1438h9.1v6.5h-9.1zM123.9 1444.5h9.1v6.5h-9.1zM178.6 1444.5h9.1v6.5h-9.1zM187.7 1444.5h9.1v6.5h-9.1zM123.9 1451h9.1v6.5h-9.1zM178.6 1451h9.1v6.5h-9.1zM187.7 1451h9.1v6.5h-9.1zM123.9 1457.5h9.1v6.5h-9.1zM178.6 1457.5h9.1v6.5h-9.1zM187.7 1457.5h9.1v6.5h-9.1zM123.9 1464h9.1v6.5h-9.1zM178.6 1464h9.1v6.5h-9.1zM187.7 1464h9.1v6.5h-9.1zM196.8 1464h9.1v6.5h-9.1zM123.9 1470.5h9.1v6.5h-9.1zM178.6 1470.5h9.1v6.5h-9.1zM196.8 1470.5h9.1v6.5h-9.1zM123.9 1477h9.1v6.5h-9.1zM142.1 1477h9.1v6.5h-9.1zM178.6 1477h9.1v6.5h-9.1zM196.8 1477h9.1v6.5h-9.1zM205.9 1477h9.1v6.5h-9.1zM123.9 1483.5h9.1v6.5h-9.1zM142.1 1483.5h9.1v6.5h-9.1zM196.8 1483.5h9.1v6.5h-9.1zM205.9 1483.5h9.1v6.5h-9.1zM123.9 1490h9.1v6.5h-9.1zM123.9 1496.5h9.1v6.5h-9.1zM142.1 1503h9.1v6.5h-9.1zM142.1 1509.5h9.1v6.5h-9.1zM114.8 1516h9.1v6.5h-9.1zM142.1 1516h9.1v6.5h-9.1zM123.9 1522.5h9.1v6.5h-9.1zM142.1 1522.5h9.1v6.5h-9.1zM123.9 1529h9.1v6.5h-9.1zM142.1 1529h9.1v6.5h-9.1zM123.9 1535.5h9.1v6.5h-9.1zM142.1 1535.5h9.1v6.5h-9.1zM151.3 1535.5h9.1v6.5h-9.1zM160.4 1535.5h9.1v6.5h-9.1zM169.5 1535.5h9.1v6.5h-9.1zM178.6 1535.5h9.1v6.5h-9.1zM105.7 1542h9.1v6.5h-9.1zM142.1 1542h9.1v6.5h-9.1zM151.3 1542h9.1v6.5h-9.1zM169.5 1542h9.1v6.5h-9.1zM178.6 1542h9.1v6.5h-9.1zM151.3 1548.5h9.1v6.5h-9.1zM160.4 1548.5h9.1v6.5h-9.1zM169.5 1548.5h9.1v6.5h-9.1zM178.6 1548.5h9.1v6.5h-9.1zM96.6 1555h9.1v6.5h-9.1zM151.3 1555h9.1v6.5h-9.1zM169.5 1555h9.1v6.5h-9.1zM178.6 1555h9.1v6.5h-9.1zM96.6 1561.5h9.1v6.5h-9.1zM105.7 1561.5h9.1v6.5h-9.1zM114.8 1561.5h9.1v6.5h-9.1zM169.5 1561.5h9.1v6.5h-9.1zM187.7 1561.5h9.1v6.5h-9.1zM96.6 1568h9.1v6.5h-9.1zM105.7 1568h9.1v6.5h-9.1zM114.8 1568h9.1v6.5h-9.1zM96.6 1574.5h9.1v6.5h-9.1zM96.6 1581h9.1v6.5h-9.1zM142.1 1581h9.1v6.5h-9.1zM96.6 1587.5h9.1v6.5h-9.1zM142.1 1587.5h9.1v6.5h-9.1z" fill="#ffffe6"/>
<path d="M105.7 1191h9.1v6.5h-9.1zM187.7 1191h9.1v6.5h-9.1zM105.7 1197.5h9.1v6.5h-9.1zM114.8 1249.5h9.1v6.5h-9.1zM160.4 1301.5h9.1v6.5h-9.1zM151.3 1308h9.1v6.5h-9.1zM160.4 1308h9.1v6.5h-9.1zM151.3 1314.5h9.1v6.5h-9.1zM160.4 1314.5h9.1v6.5h-9.1zM178.6 1314.5h9.1v6.5h-9.1zM151.3 1321h9.1v6.5h-9.1zM160.4 1321h9.1v6.5h-9.1zM178.6 1321h9.1v6.5h-9.1zM151.3 1327.5h9.1v6.5h-9.1zM160.4 1327.5h9.1v6.5h-9.1zM178.6 1327.5h9.1v6.5h-9.1zM187.7 1327.5h9.1v6.5h-9.1zM133 1334h9.1v6.5h-9.1zM151.3 1334h9.1v6.5h-9.1zM160.4 1334h9.1v6.5h-9.1zM187.7 1334h9.1v6.5h-9.1zM96.6 1340.5h9.1v6.5h-9.1zM160.4 1340.5h9.1v6.5h-9.1zM96.6 1347h9.1v6.5h-9.1zM151.3 1347h9.1v6.5h-9.1zM160.4 1347h9.1v6.5h-9.1zM96.6 1353.5h9.1v6.5h-9.1zM105.7 1353.5h9.1v6.5h-9.1zM160.4 1353.5h9.1v6.5h-9.1zM96.6 1360h9.1v6.5h-9.1zM105.7 1360h9.1v6.5h-9.1zM114.8 1360h9.1v6.5h-9.1zM105.7 1366.5h9.1v6.5h-9.1zM178.6 1373h9.1v6.5h-9.1zM178.6 1379.5h9.1v6.5h-9.1zM178.6 1386h9.1v6.5h-9.1zM187.7 1386h9.1v6.5h-9.1zM196.8 1399h9.1v6.5h-9.1zM196.8 1405.5h9.1v6.5h-9.1zM142.1 1412h9.1v6.5h-9.1zM151.3 1412h9.1v6.5h-9.1zM196.8 1412h9.1v6.5h-9.1zM133 1418.5h9.1v6.5h-9.1zM142.1 1418.5h9.1v6.5h-9.1zM151.3 1418.5h9.1v6.5h-9.1zM133 1425h9.1v6.5h-9.1zM142.1 1425h9.1v6.5h-9.1zM151.3 1425h9.1v6.5h-9.1zM178.6 1425h9.1v6.5h-9.1zM142.1 1431.5h9.1v6.5h-9.1zM151.3 1431.5h9.1v6.5h-9.1zM178.6 1431.5h9.1v6.5h-9.1zM187.7 1431.5h9.1v6.5h-9.1zM142.1 1438h9.1v6.5h-9.1zM178.6 1438h9.1v6.5h-9.1zM187.7 1438h9.1v6.5h-9.1zM114.8 1444.5h9.1v6.5h-9.1zM114.8 1451h9.1v6.5h-9.1zM114.8 1457.5h9.1v6.5h-9.1zM114.8 1490h9.1v6.5h-9.1zM114.8 1496.5h9.1v6.5h-9.1zM114.8 1503h9.1v6.5h-9.1zM196.8 1503h9.1v6.5h-9.1zM196.8 1509.5h9.1v6.5h-9.1zM178.6 1522.5h9.1v6.5h-9.1zM96.6 1535.5h9.1v6.5h-9.1zM114.8 1535.5h9.1v6.5h-9.1zM96.6 1542h9.1v6.5h-9.1zM114.8 1542h9.1v6.5h-9.1zM123.9 1542h9.1v6.5h-9.1zM160.4 1542h9.1v6.5h-9.1zM205.9 1542h9.1v6.5h-9.1zM96.6 1548.5h9.1v6.5h-9.1zM105.7 1548.5h9.1v6.5h-9.1zM114.8 1548.5h9.1v6.5h-9.1zM123.9 1548.5h9.1v6.5h-9.1zM105.7 1555h9.1v6.5h-9.1zM114.8 1555h9.1v6.5h-9.1zM123.9 1555h9.1v6.5h-9.1zM123.9 1561.5h9.1v6.5h-9.1zM123.9 1568h9.1v6.5h-9.1zM105.7 1574.5h9.1v6.5h-9.1zM187.7 1574.5h9.1v6.5h-9.1zM105.7 1581h9.1v6.5h-9.1zM187.7 1581h9.1v6.5h-9.1zM105.7 1587.5h9.1v6.5h-9.1z" fill="#f0f0fd"/>
<path d="M123.9 1191h9.1v6.5h-9.1zM142.1 1191h9.1v6.5h-9.1zM151.3 1191h9.1v6.5h-9.1zM160.4 1191h9.1v6.5h-9.1zM224.1 1191h9.1v6.5h-9.1zM233.2 1191h9.1v6.5h-9.1zM242.4 1191h9.1v6.5h-9.1zM251.5 1191h9.1v6.5h-9.1zM515.6 1191h9.1v6.5h-9.1zM543 1191h9.1v6.5h-9.1zM552.1 1191h9.1v6.5h-9.1zM561.2 1191h9.1v6.5h-9.1zM570.3 1191h9.1v6.5h-9.1zM597.6 1191h9.1v6.5h-9.1zM615.9 1191h9.1v6.5h-9.1zM625 1191h9.1v6.5h-9.1zM634.1 1191h9.1v6.5h-9.1zM643.2 1191h9.1v6.5h-9.1zM652.3 1191h9.1v6.5h-9.1zM123.9 1197.5h9.1v6.5h-9.1zM142.1 1197.5h9.1v6.5h-9.1zM151.3 1197.5h9.1v6.5h-9.1zM187.7 1197.5h9.1v6.5h-9.1zM205.9 1197.5h9.1v6.5h-9.1zM224.1 1197.5h9.1v6.5h-9.1zM233.2 1197.5h9.1v6.5h-9.1zM242.4 1197.5h9.1v6.5h-9.1zM251.5 1197.5h9.1v6.5h-9.1zM260.6 1197.5h9.1v6.5h-9.1zM269.7 1197.5h9.1v6.5h-9.1zM315.2 1197.5h9.1v6.5h-9.1zM324.3 1197.5h9.1v6.5h-9.1zM424.5 1197.5h9.1v6.5h-9.1zM543 1197.5h9.1v6.5h-9.1zM570.3 1197.5h9.1v6.5h-9.1zM615.9 1197.5h9.1v6.5h-9.1zM625 1197.5h9.1v6.5h-9.1zM634.1 1197.5h9.1v6.5h-9.1zM643.2 1197.5h9.1v6.5h-9.1zM652.3 1197.5h9.1v6.5h-9.1zM123.9 1204h9.1v6.5h-9.1zM151.3 1204h9.1v6.5h-9.1zM187.7 1204h9.1v6.5h-9.1zM205.9 1204h9.1v6.5h-9.1zM224.1 1204h9.1v6.5h-9.1zM233.2 1204h9.1v6.5h-9.1zM242.4 1204h9.1v6.5h-9.1zM269.7 1204h9.1v6.5h-9.1zM315.2 1204h9.1v6.5h-9.1zM360.8 1204h9.1v6.5h-9.1zM369.9 1204h9.1v6.5h-9.1zM424.5 1204h9.1v6.5h-9.1zM552.1 1204h9.1v6.5h-9.1zM643.2 1204h9.1v6.5h-9.1zM652.3 1204h9.1v6.5h-9.1zM123.9 1210.5h9.1v6.5h-9.1zM142.1 1210.5h9.1v6.5h-9.1zM151.3 1210.5h9.1v6.5h-9.1zM160.4 1210.5h9.1v6.5h-9.1zM187.7 1210.5h9.1v6.5h-9.1zM224.1 1210.5h9.1v6.5h-9.1zM233.2 1210.5h9.1v6.5h-9.1zM242.4 1210.5h9.1v6.5h-9.1zM269.7 1210.5h9.1v6.5h-9.1zM287.9 1210.5h9.1v6.5h-9.1zM315.2 1210.5h9.1v6.5h-9.1zM406.3 1210.5h9.1v6.5h-9.1zM424.5 1210.5h9.1v6.5h-9.1zM643.2 1210.5h9.1v6.5h-9.1zM96.6 1217h9.1v6.5h-9.1zM105.7 1217h9.1v6.5h-9.1zM114.8 1217h9.1v6.5h-9.1zM123.9 1217h9.1v6.5h-9.1zM151.3 1217h9.1v6.5h-9.1zM178.6 1217h9.1v6.5h-9.1zM187.7 1217h9.1v6.5h-9.1zM297 1217h9.1v6.5h-9.1zM360.8 1217h9.1v6.5h-9.1zM379 1217h9.1v6.5h-9.1zM415.4 1217h9.1v6.5h-9.1zM461 1217h9.1v6.5h-9.1zM470.1 1217h9.1v6.5h-9.1zM497.4 1217h9.1v6.5h-9.1zM506.5 1217h9.1v6.5h-9.1zM588.5 1217h9.1v6.5h-9.1zM96.6 1223.5h9.1v6.5h-9.1zM105.7 1223.5h9.1v6.5h-9.1zM114.8 1223.5h9.1v6.5h-9.1zM151.3 1223.5h9.1v6.5h-9.1zM178.6 1223.5h9.1v6.5h-9.1zM187.7 1223.5h9.1v6.5h-9.1zM379 1223.5h9.1v6.5h-9.1zM424.5 1223.5h9.1v6.5h-9.1zM461 1223.5h9.1v6.5h-9.1zM497.4 1223.5h9.1v6.5h-9.1zM506.5 1223.5h9.1v6.5h-9.1zM561.2 1223.5h9.1v6.5h-9.1zM579.4 1223.5h9.1v6.5h-9.1zM588.5 1223.5h9.1v6.5h-9.1zM634.1 1223.5h9.1v6.5h-9.1zM96.6 1230h9.1v6.5h-9.1zM105.7 1230h9.1v6.5h-9.1zM114.8 1230h9.1v6.5h-9.1zM151.3 1230h9.1v6.5h-9.1zM178.6 1230h9.1v6.5h-9.1zM187.7 1230h9.1v6.5h-9.1zM196.8 1230h9.1v6.5h-9.1zM369.9 1230h9.1v6.5h-9.1zM424.5 1230h9.1v6.5h-9.1zM451.9 1230h9.1v6.5h-9.1zM461 1230h9.1v6.5h-9.1zM470.1 1230h9.1v6.5h-9.1zM479.2 1230h9.1v6.5h-9.1zM488.3 1230h9.1v6.5h-9.1zM533.9 1230h9.1v6.5h-9.1zM588.5 1230h9.1v6.5h-9.1zM105.7 1236.5h9.1v6.5h-9.1zM114.8 1236.5h9.1v6.5h-9.1zM151.3 1236.5h9.1v6.5h-9.1zM178.6 1236.5h9.1v6.5h-9.1zM196.8 1236.5h9.1v6.5h-9.1zM224.1 1236.5h9.1v6.5h-9.1zM297 1236.5h9.1v6.5h-9.1zM369.9 1236.5h9.1v6.5h-9.1zM451.9 1236.5h9.1v6.5h-9.1zM461 1236.5h9.1v6.5h-9.1zM470.1 1236.5h9.1v6.5h-9.1zM479.2 1236.5h9.1v6.5h-9.1zM588.5 1236.5h9.1v6.5h-9.1zM114.8 1243h9.1v6.5h-9.1zM142.1 1243h9.1v6.5h-9.1zM151.3 1243h9.1v6.5h-9.1zM169.5 1243h9.1v6.5h-9.1zM178.6 1243h9.1v6.5h-9.1zM215 1243h9.1v6.5h-9.1zM251.5 1243h9.1v6.5h-9.1zM269.7 1243h9.1v6.5h-9.1zM287.9 1243h9.1v6.5h-9.1zM297 1243h9.1v6.5h-9.1zM379 1243h9.1v6.5h-9.1zM388.1 1243h9.1v6.5h-9.1zM406.3 1243h9.1v6.5h-9.1zM461 1243h9.1v6.5h-9.1zM470.1 1243h9.1v6.5h-9.1zM479.2 1243h9.1v6.5h-9.1zM488.3 1243h9.1v6.5h-9.1zM524.8 1243h9.1v6.5h-9.1zM533.9 1243h9.1v6.5h-9.1zM543 1243h9.1v6.5h-9.1zM561.2 1243h9.1v6.5h-9.1zM579.4 1243h9.1v6.5h-9.1zM588.5 1243h9.1v6.5h-9.1zM625 1243h9.1v6.5h-9.1zM634.1 1243h9.1v6.5h-9.1zM643.2 1243h9.1v6.5h-9.1zM142.1 1249.5h9.1v6.5h-9.1zM178.6 1249.5h9.1v6.5h-9.1zM215 1249.5h9.1v6.5h-9.1zM251.5 1249.5h9.1v6.5h-9.1zM269.7 1249.5h9.1v6.5h-9.1zM278.8 1249.5h9.1v6.5h-9.1zM287.9 1249.5h9.1v6.5h-9.1zM297 1249.5h9.1v6.5h-9.1zM379 1249.5h9.1v6.5h-9.1zM388.1 1249.5h9.1v6.5h-9.1zM406.3 1249.5h9.1v6.5h-9.1zM461 1249.5h9.1v6.5h-9.1zM470.1 1249.5h9.1v6.5h-9.1zM479.2 1249.5h9.1v6.5h-9.1zM488.3 1249.5h9.1v6.5h-9.1zM524.8 1249.5h9.1v6.5h-9.1zM543 1249.5h9.1v6.5h-9.1zM552.1 1249.5h9.1v6.5h-9.1zM561.2 1249.5h9.1v6.5h-9.1zM570.3 1249.5h9.1v6.5h-9.1zM579.4 1249.5h9.1v6.5h-9.1zM588.5 1249.5h9.1v6.5h-9.1zM625 1249.5h9.1v6.5h-9.1zM634.1 1249.5h9.1v6.5h-9.1zM643.2 1249.5h9.1v6.5h-9.1zM652.3 1249.5h9.1v6.5h-9.1zM142.1 1256h9.1v6.5h-9.1zM151.3 1256h9.1v6.5h-9.1zM160.4 1256h9.1v6.5h-9.1zM178.6 1256h9.1v6.5h-9.1zM215 1256h9.1v6.5h-9.1zM224.1 1256h9.1v6.5h-9.1zM251.5 1256h9.1v6.5h-9.1zM269.7 1256h9.1v6.5h-9.1zM278.8 1256h9.1v6.5h-9.1zM287.9 1256h9.1v6.5h-9.1zM379 1256h9.1v6.5h-9.1zM388.1 1256h9.1v6.5h-9.1zM461 1256h9.1v6.5h-9.1zM470.1 1256h9.1v6.5h-9.1zM488.3 1256h9.1v6.5h-9.1zM524.8 1256h9.1v6.5h-9.1zM543 1256h9.1v6.5h-9.1zM552.1 1256h9.1v6.5h-9.1zM579.4 1256h9.1v6.5h-9.1zM588.5 1256h9.1v6.5h-9.1zM615.9 1256h9.1v6.5h-9.1zM625 1256h9.1v6.5h-9.1zM634.1 1256h9.1v6.5h-9.1zM643.2 1256h9.1v6.5h-9.1zM652.3 1256h9.1v6.5h-9.1zM142.1 1262.5h9.1v6.5h-9.1zM151.3 1262.5h9.1v6.5h-9.1zM160.4 1262.5h9.1v6.5h-9.1zM169.5 1262.5h9.1v6.5h-9.1zM178.6 1262.5h9.1v6.5h-9.1zM187.7 1262.5h9.1v6.5h-9.1zM215 1262.5h9.1v6.5h-9.1zM224.1 1262.5h9.1v6.5h-9.1zM251.5 1262.5h9.1v6.5h-9.1zM269.7 1262.5h9.1v6.5h-9.1zM278.8 1262.5h9.1v6.5h-9.1zM287.9 1262.5h9.1v6.5h-9.1zM315.2 1262.5h9.1v6.5h-9.1zM324.3 1262.5h9.1v6.5h-9.1zM388.1 1262.5h9.1v6.5h-9.1zM461 1262.5h9.1v6.5h-9.1zM470.1 1262.5h9.1v6.5h-9.1zM488.3 1262.5h9.1v6.5h-9.1zM515.6 1262.5h9.1v6.5h-9.1zM524.8 1262.5h9.1v6.5h-9.1zM543 1262.5h9.1v6.5h-9.1zM552.1 1262.5h9.1v6.5h-9.1zM561.2 1262.5h9.1v6.5h-9.1zM579.4 1262.5h9.1v6.5h-9.1zM597.6 1262.5h9.1v6.5h-9.1zM615.9 1262.5h9.1v6.5h-9.1zM625 1262.5h9.1v6.5h-9.1zM634.1 1262.5h9.1v6.5h-9.1zM643.2 1262.5h9.1v6.5h-9.1zM652.3 1262.5h9.1v6.5h-9.1zM142.1 1269h9.1v6.5h-9.1zM151.3 1269h9.1v6.5h-9.1zM160.4 1269h9.1v6.5h-9.1zM169.5 1269h9.1v6.5h-9.1zM178.6 1269h9.1v6.5h-9.1zM187.7 1269h9.1v6.5h-9.1zM251.5 1269h9.1v6.5h-9.1zM269.7 1269h9.1v6.5h-9.1zM297 1269h9.1v6.5h-9.1zM388.1 1269h9.1v6.5h-9.1zM461 1269h9.1v6.5h-9.1zM470.1 1269h9.1v6.5h-9.1zM515.6 1269h9.1v6.5h-9.1zM524.8 1269h9.1v6.5h-9.1zM543 1269h9.1v6.5h-9.1zM552.1 1269h9.1v6.5h-9.1zM561.2 1269h9.1v6.5h-9.1zM579.4 1269h9.1v6.5h-9.1zM597.6 1269h9.1v6.5h-9.1zM615.9 1269h9.1v6.5h-9.1zM625 1269h9.1v6.5h-9.1zM634.1 1269h9.1v6.5h-9.1zM643.2 1269h9.1v6.5h-9.1zM151.3 1275.5h9.1v6.5h-9.1zM160.4 1275.5h9.1v6.5h-9.1zM169.5 1275.5h9.1v6.5h-9.1zM178.6 1275.5h9.1v6.5h-9.1zM187.7 1275.5h9.1v6.5h-9.1zM251.5 1275.5h9.1v6.5h-9.1zM287.9 1275.5h9.1v6.5h-9.1zM297 1275.5h9.1v6.5h-9.1zM306.1 1275.5h9.1v6.5h-9.1zM324.3 1275.5h9.1v6.5h-9.1zM360.8 1275.5h9.1v6.5h-9.1zM388.1 1275.5h9.1v6.5h-9.1zM461 1275.5h9.1v6.5h-9.1zM470.1 1275.5h9.1v6.5h-9.1zM524.8 1275.5h9.1v6.5h-9.1zM543 1275.5h9.1v6.5h-9.1zM552.1 1275.5h9.1v6.5h-9.1zM579.4 1275.5h9.1v6.5h-9.1zM588.5 1275.5h9.1v6.5h-9.1zM597.6 1275.5h9.1v6.5h-9.1zM615.9 1275.5h9.1v6.5h-9.1zM625 1275.5h9.1v6.5h-9.1zM643.2 1275.5h9.1v6.5h-9.1zM652.3 1275.5h9.1v6.5h-9.1zM96.6 1282h9.1v6.5h-9.1zM123.9 1282h9.1v6.5h-9.1zM151.3 1282h9.1v6.5h-9.1zM160.4 1282h9.1v6.5h-9.1zM169.5 1282h9.1v6.5h-9.1zM178.6 1282h9.1v6.5h-9.1zM187.7 1282h9.1v6.5h-9.1zM251.5 1282h9.1v6.5h-9.1zM260.6 1282h9.1v6.5h-9.1zM287.9 1282h9.1v6.5h-9.1zM297 1282h9.1v6.5h-9.1zM306.1 1282h9.1v6.5h-9.1zM360.8 1282h9.1v6.5h-9.1zM442.8 1282h9.1v6.5h-9.1zM461 1282h9.1v6.5h-9.1zM488.3 1282h9.1v6.5h-9.1zM524.8 1282h9.1v6.5h-9.1zM552.1 1282h9.1v6.5h-9.1zM588.5 1282h9.1v6.5h-9.1zM643.2 1282h9.1v6.5h-9.1zM652.3 1282h9.1v6.5h-9.1zM96.6 1288.5h9.1v6.5h-9.1zM123.9 1288.5h9.1v6.5h-9.1zM142.1 1288.5h9.1v6.5h-9.1zM151.3 1288.5h9.1v6.5h-9.1zM160.4 1288.5h9.1v6.5h-9.1zM169.5 1288.5h9.1v6.5h-9.1zM178.6 1288.5h9.1v6.5h-9.1zM251.5 1288.5h9.1v6.5h-9.1zM260.6 1288.5h9.1v6.5h-9.1zM360.8 1288.5h9.1v6.5h-9.1zM442.8 1288.5h9.1v6.5h-9.1zM488.3 1288.5h9.1v6.5h-9.1zM552.1 1288.5h9.1v6.5h-9.1zM561.2 1288.5h9.1v6.5h-9.1zM588.5 1288.5h9.1v6.5h-9.1zM625 1288.5h9.1v6.5h-9.1zM652.3 1288.5h9.1v6.5h-9.1zM96.6 1295h9.1v6.5h-9.1zM114.8 1295h9.1v6.5h-9.1zM142.1 1295h9.1v6.5h-9.1zM151.3 1295h9.1v6.5h-9.1zM160.4 1295h9.1v6.5h-9.1zM169.5 1295h9.1v6.5h-9.1zM178.6 1295h9.1v6.5h-9.1zM187.7 1295h9.1v6.5h-9.1zM251.5 1295h9.1v6.5h-9.1zM260.6 1295h9.1v6.5h-9.1zM324.3 1295h9.1v6.5h-9.1zM552.1 1295h9.1v6.5h-9.1zM561.2 1295h9.1v6.5h-9.1zM570.3 1295h9.1v6.5h-9.1zM588.5 1295h9.1v6.5h-9.1zM597.6 1295h9.1v6.5h-9.1zM96.6 1301.5h9.1v6.5h-9.1zM123.9 1301.5h9.1v6.5h-9.1zM142.1 1301.5h9.1v6.5h-9.1zM151.3 1301.5h9.1v6.5h-9.1zM251.5 1301.5h9.1v6.5h-9.1zM260.6 1301.5h9.1v6.5h-9.1zM324.3 1301.5h9.1v6.5h-9.1zM552.1 1301.5h9.1v6.5h-9.1zM570.3 1301.5h9.1v6.5h-9.1zM597.6 1301.5h9.1v6.5h-9.1zM96.6 1308h9.1v6.5h-9.1zM123.9 1308h9.1v6.5h-9.1zM133 1308h9.1v6.5h-9.1zM142.1 1308h9.1v6.5h-9.1zM178.6 1308h9.1v6.5h-9.1zM187.7 1308h9.1v6.5h-9.1zM251.5 1308h9.1v6.5h-9.1zM260.6 1308h9.1v6.5h-9.1zM324.3 1308h9.1v6.5h-9.1zM351.7 1308h9.1v6.5h-9.1zM533.9 1308h9.1v6.5h-9.1zM625 1308h9.1v6.5h-9.1zM96.6 1314.5h9.1v6.5h-9.1zM133 1314.5h9.1v6.5h-9.1zM187.7 1314.5h9.1v6.5h-9.1zM224.1 1314.5h9.1v6.5h-9.1zM324.3 1314.5h9.1v6.5h-9.1zM351.7 1314.5h9.1v6.5h-9.1zM415.4 1314.5h9.1v6.5h-9.1zM533.9 1314.5h9.1v6.5h-9.1zM634.1 1314.5h9.1v6.5h-9.1zM643.2 1314.5h9.1v6.5h-9.1zM96.6 1321h9.1v6.5h-9.1zM133 1321h9.1v6.5h-9.1zM187.7 1321h9.1v6.5h-9.1zM196.8 1321h9.1v6.5h-9.1zM233.2 1321h9.1v6.5h-9.1zM333.5 1321h9.1v6.5h-9.1zM342.6 1321h9.1v6.5h-9.1zM351.7 1321h9.1v6.5h-9.1zM424.5 1321h9.1v6.5h-9.1zM524.8 1321h9.1v6.5h-9.1zM533.9 1321h9.1v6.5h-9.1zM634.1 1321h9.1v6.5h-9.1zM643.2 1321h9.1v6.5h-9.1zM123.9 1327.5h9.1v6.5h-9.1zM133 1327.5h9.1v6.5h-9.1zM196.8 1327.5h9.1v6.5h-9.1zM224.1 1327.5h9.1v6.5h-9.1zM233.2 1327.5h9.1v6.5h-9.1zM333.5 1327.5h9.1v6.5h-9.1zM342.6 1327.5h9.1v6.5h-9.1zM424.5 1327.5h9.1v6.5h-9.1zM433.7 1327.5h9.1v6.5h-9.1zM442.8 1327.5h9.1v6.5h-9.1zM533.9 1327.5h9.1v6.5h-9.1zM543 1327.5h9.1v6.5h-9.1zM552.1 1327.5h9.1v6.5h-9.1zM634.1 1327.5h9.1v6.5h-9.1zM643.2 1327.5h9.1v6.5h-9.1zM123.9 1334h9.1v6.5h-9.1zM196.8 1334h9.1v6.5h-9.1zM233.2 1334h9.1v6.5h-9.1zM242.4 1334h9.1v6.5h-9.1zM251.5 1334h9.1v6.5h-9.1zM260.6 1334h9.1v6.5h-9.1zM333.5 1334h9.1v6.5h-9.1zM342.6 1334h9.1v6.5h-9.1zM433.7 1334h9.1v6.5h-9.1zM442.8 1334h9.1v6.5h-9.1zM533.9 1334h9.1v6.5h-9.1zM543 1334h9.1v6.5h-9.1zM552.1 1334h9.1v6.5h-9.1zM561.2 1334h9.1v6.5h-9.1zM634.1 1334h9.1v6.5h-9.1zM643.2 1334h9.1v6.5h-9.1zM123.9 1340.5h9.1v6.5h-9.1zM133 1340.5h9.1v6.5h-9.1zM142.1 1340.5h9.1v6.5h-9.1zM196.8 1340.5h9.1v6.5h-9.1zM242.4 1340.5h9.1v6.5h-9.1zM251.5 1340.5h9.1v6.5h-9.1zM260.6 1340.5h9.1v6.5h-9.1zM269.7 1340.5h9.1v6.5h-9.1zM306.1 1340.5h9.1v6.5h-9.1zM315.2 1340.5h9.1v6.5h-9.1zM324.3 1340.5h9.1v6.5h-9.1zM333.5 1340.5h9.1v6.5h-9.1zM442.8 1340.5h9.1v6.5h-9.1zM497.4 1340.5h9.1v6.5h-9.1zM533.9 1340.5h9.1v6.5h-9.1zM543 1340.5h9.1v6.5h-9.1zM552.1 1340.5h9.1v6.5h-9.1zM634.1 1340.5h9.1v6.5h-9.1zM643.2 1340.5h9.1v6.5h-9.1zM133 1347h9.1v6.5h-9.1zM178.6 1347h9.1v6.5h-9.1zM187.7 1347h9.1v6.5h-9.1zM196.8 1347h9.1v6.5h-9.1zM224.1 1347h9.1v6.5h-9.1zM242.4 1347h9.1v6.5h-9.1zM251.5 1347h9.1v6.5h-9.1zM260.6 1347h9.1v6.5h-9.1zM269.7 1347h9.1v6.5h-9.1zM278.8 1347h9.1v6.5h-9.1zM306.1 1347h9.1v6.5h-9.1zM315.2 1347h9.1v6.5h-9.1zM324.3 1347h9.1v6.5h-9.1zM342.6 1347h9.1v6.5h-9.1zM351.7 1347h9.1v6.5h-9.1zM442.8 1347h9.1v6.5h-9.1zM451.9 1347h9.1v6.5h-9.1zM533.9 1347h9.1v6.5h-9.1zM543 1347h9.1v6.5h-9.1zM552.1 1347h9.1v6.5h-9.1zM597.6 1347h9.1v6.5h-9.1zM643.2 1347h9.1v6.5h-9.1zM652.3 1347h9.1v6.5h-9.1zM133 1353.5h9.1v6.5h-9.1zM142.1 1353.5h9.1v6.5h-9.1zM151.3 1353.5h9.1v6.5h-9.1zM178.6 1353.5h9.1v6.5h-9.1zM196.8 1353.5h9.1v6.5h-9.1zM242.4 1353.5h9.1v6.5h-9.1zM251.5 1353.5h9.1v6.5h-9.1zM260.6 1353.5h9.1v6.5h-9.1zM269.7 1353.5h9.1v6.5h-9.1zM278.8 1353.5h9.1v6.5h-9.1zM306.1 1353.5h9.1v6.5h-9.1zM315.2 1353.5h9.1v6.5h-9.1zM324.3 1353.5h9.1v6.5h-9.1zM351.7 1353.5h9.1v6.5h-9.1zM360.8 1353.5h9.1v6.5h-9.1zM451.9 1353.5h9.1v6.5h-9.1zM461 1353.5h9.1v6.5h-9.1zM497.4 1353.5h9.1v6.5h-9.1zM524.8 1353.5h9.1v6.5h-9.1zM533.9 1353.5h9.1v6.5h-9.1zM543 1353.5h9.1v6.5h-9.1zM552.1 1353.5h9.1v6.5h-9.1zM597.6 1353.5h9.1v6.5h-9.1zM643.2 1353.5h9.1v6.5h-9.1zM123.9 1360h9.1v6.5h-9.1zM133 1360h9.1v6.5h-9.1zM142.1 1360h9.1v6.5h-9.1zM151.3 1360h9.1v6.5h-9.1zM160.4 1360h9.1v6.5h-9.1zM178.6 1360h9.1v6.5h-9.1zM196.8 1360h9.1v6.5h-9.1zM251.5 1360h9.1v6.5h-9.1zM260.6 1360h9.1v6.5h-9.1zM269.7 1360h9.1v6.5h-9.1zM278.8 1360h9.1v6.5h-9.1zM306.1 1360h9.1v6.5h-9.1zM315.2 1360h9.1v6.5h-9.1zM324.3 1360h9.1v6.5h-9.1zM351.7 1360h9.1v6.5h-9.1zM360.8 1360h9.1v6.5h-9.1zM451.9 1360h9.1v6.5h-9.1zM461 1360h9.1v6.5h-9.1zM479.2 1360h9.1v6.5h-9.1zM497.4 1360h9.1v6.5h-9.1zM515.6 1360h9.1v6.5h-9.1zM524.8 1360h9.1v6.5h-9.1zM552.1 1360h9.1v6.5h-9.1zM643.2 1360h9.1v6.5h-9.1zM96.6 1366.5h9.1v6.5h-9.1zM123.9 1366.5h9.1v6.5h-9.1zM133 1366.5h9.1v6.5h-9.1zM142.1 1366.5h9.1v6.5h-9.1zM151.3 1366.5h9.1v6.5h-9.1zM160.4 1366.5h9.1v6.5h-9.1zM178.6 1366.5h9.1v6.5h-9.1zM196.8 1366.5h9.1v6.5h-9.1zM205.9 1366.5h9.1v6.5h-9.1zM251.5 1366.5h9.1v6.5h-9.1zM260.6 1366.5h9.1v6.5h-9.1zM278.8 1366.5h9.1v6.5h-9.1zM306.1 1366.5h9.1v6.5h-9.1zM315.2 1366.5h9.1v6.5h-9.1zM324.3 1366.5h9.1v6.5h-9.1zM351.7 1366.5h9.1v6.5h-9.1zM360.8 1366.5h9.1v6.5h-9.1zM451.9 1366.5h9.1v6.5h-9.1zM461 1366.5h9.1v6.5h-9.1zM479.2 1366.5h9.1v6.5h-9.1zM506.5 1366.5h9.1v6.5h-9.1zM515.6 1366.5h9.1v6.5h-9.1zM524.8 1366.5h9.1v6.5h-9.1zM552.1 1366.5h9.1v6.5h-9.1zM561.2 1366.5h9.1v6.5h-9.1zM615.9 1366.5h9.1v6.5h-9.1zM96.6 1373h9.1v6.5h-9.1zM114.8 1373h9.1v6.5h-9.1zM123.9 1373h9.1v6.5h-9.1zM133 1373h9.1v6.5h-9.1zM142.1 1373h9.1v6.5h-9.1zM151.3 1373h9.1v6.5h-9.1zM160.4 1373h9.1v6.5h-9.1zM196.8 1373h9.1v6.5h-9.1zM205.9 1373h9.1v6.5h-9.1zM251.5 1373h9.1v6.5h-9.1zM260.6 1373h9.1v6.5h-9.1zM278.8 1373h9.1v6.5h-9.1zM306.1 1373h9.1v6.5h-9.1zM315.2 1373h9.1v6.5h-9.1zM324.3 1373h9.1v6.5h-9.1zM351.7 1373h9.1v6.5h-9.1zM360.8 1373h9.1v6.5h-9.1zM461 1373h9.1v6.5h-9.1zM470.1 1373h9.1v6.5h-9.1zM524.8 1373h9.1v6.5h-9.1zM552.1 1373h9.1v6.5h-9.1zM561.2 1373h9.1v6.5h-9.1zM570.3 1373h9.1v6.5h-9.1zM615.9 1373h9.1v6.5h-9.1zM96.6 1379.5h9.1v6.5h-9.1zM114.8 1379.5h9.1v6.5h-9.1zM123.9 1379.5h9.1v6.5h-9.1zM133 1379.5h9.1v6.5h-9.1zM142.1 1379.5h9.1v6.5h-9.1zM151.3 1379.5h9.1v6.5h-9.1zM160.4 1379.5h9.1v6.5h-9.1zM196.8 1379.5h9.1v6.5h-9.1zM205.9 1379.5h9.1v6.5h-9.1zM242.4 1379.5h9.1v6.5h-9.1zM251.5 1379.5h9.1v6.5h-9.1zM260.6 1379.5h9.1v6.5h-9.1zM278.8 1379.5h9.1v6.5h-9.1zM315.2 1379.5h9.1v6.5h-9.1zM324.3 1379.5h9.1v6.5h-9.1zM351.7 1379.5h9.1v6.5h-9.1zM360.8 1379.5h9.1v6.5h-9.1zM461 1379.5h9.1v6.5h-9.1zM470.1 1379.5h9.1v6.5h-9.1zM524.8 1379.5h9.1v6.5h-9.1zM552.1 1379.5h9.1v6.5h-9.1zM561.2 1379.5h9.1v6.5h-9.1zM570.3 1379.5h9.1v6.5h-9.1zM615.9 1379.5h9.1v6.5h-9.1zM96.6 1386h9.1v6.5h-9.1zM105.7 1386h9.1v6.5h-9.1zM114.8 1386h9.1v6.5h-9.1zM123.9 1386h9.1v6.5h-9.1zM133 1386h9.1v6.5h-9.1zM142.1 1386h9.1v6.5h-9.1zM151.3 1386h9.1v6.5h-9.1zM160.4 1386h9.1v6.5h-9.1zM169.5 1386h9.1v6.5h-9.1zM196.8 1386h9.1v6.5h-9.1zM205.9 1386h9.1v6.5h-9.1zM224.1 1386h9.1v6.5h-9.1zM233.2 1386h9.1v6.5h-9.1zM242.4 1386h9.1v6.5h-9.1zM251.5 1386h9.1v6.5h-9.1zM260.6 1386h9.1v6.5h-9.1zM269.7 1386h9.1v6.5h-9.1zM278.8 1386h9.1v6.5h-9.1zM287.9 1386h9.1v6.5h-9.1zM324.3 1386h9.1v6.5h-9.1zM351.7 1386h9.1v6.5h-9.1zM360.8 1386h9.1v6.5h-9.1zM369.9 1386h9.1v6.5h-9.1zM442.8 1386h9.1v6.5h-9.1zM461 1386h9.1v6.5h-9.1zM470.1 1386h9.1v6.5h-9.1zM479.2 1386h9.1v6.5h-9.1zM524.8 1386h9.1v6.5h-9.1zM552.1 1386h9.1v6.5h-9.1zM561.2 1386h9.1v6.5h-9.1zM570.3 1386h9.1v6.5h-9.1zM615.9 1386h9.1v6.5h-9.1zM96.6 1392.5h9.1v6.5h-9.1zM105.7 1392.5h9.1v6.5h-9.1zM114.8 1392.5h9.1v6.5h-9.1zM133 1392.5h9.1v6.5h-9.1zM142.1 1392.5h9.1v6.5h-9.1zM151.3 1392.5h9.1v6.5h-9.1zM160.4 1392.5h9.1v6.5h-9.1zM169.5 1392.5h9.1v6.5h-9.1zM178.6 1392.5h9.1v6.5h-9.1zM196.8 1392.5h9.1v6.5h-9.1zM205.9 1392.5h9.1v6.5h-9.1zM224.1 1392.5h9.1v6.5h-9.1zM233.2 1392.5h9.1v6.5h-9.1zM242.4 1392.5h9.1v6.5h-9.1zM251.5 1392.5h9.1v6.5h-9.1zM260.6 1392.5h9.1v6.5h-9.1zM269.7 1392.5h9.1v6.5h-9.1zM278.8 1392.5h9.1v6.5h-9.1zM287.9 1392.5h9.1v6.5h-9.1zM324.3 1392.5h9.1v6.5h-9.1zM351.7 1392.5h9.1v6.5h-9.1zM360.8 1392.5h9.1v6.5h-9.1zM369.9 1392.5h9.1v6.5h-9.1zM442.8 1392.5h9.1v6.5h-9.1zM461 1392.5h9.1v6.5h-9.1zM470.1 1392.5h9.1v6.5h-9.1zM488.3 1392.5h9.1v6.5h-9.1zM552.1 1392.5h9.1v6.5h-9.1zM561.2 1392.5h9.1v6.5h-9.1zM570.3 1392.5h9.1v6.5h-9.1zM579.4 1392.5h9.1v6.5h-9.1zM615.9 1392.5h9.1v6.5h-9.1zM96.6 1399h9.1v6.5h-9.1zM105.7 1399h9.1v6.5h-9.1zM114.8 1399h9.1v6.5h-9.1zM133 1399h9.1v6.5h-9.1zM142.1 1399h9.1v6.5h-9.1zM151.3 1399h9.1v6.5h-9.1zM160.4 1399h9.1v6.5h-9.1zM178.6 1399h9.1v6.5h-9.1zM187.7 1399h9.1v6.5h-9.1zM205.9 1399h9.1v6.5h-9.1zM224.1 1399h9.1v6.5h-9.1zM233.2 1399h9.1v6.5h-9.1zM251.5 1399h9.1v6.5h-9.1zM260.6 1399h9.1v6.5h-9.1zM269.7 1399h9.1v6.5h-9.1zM287.9 1399h9.1v6.5h-9.1zM324.3 1399h9.1v6.5h-9.1zM333.5 1399h9.1v6.5h-9.1zM351.7 1399h9.1v6.5h-9.1zM360.8 1399h9.1v6.5h-9.1zM369.9 1399h9.1v6.5h-9.1zM415.4 1399h9.1v6.5h-9.1zM442.8 1399h9.1v6.5h-9.1zM461 1399h9.1v6.5h-9.1zM470.1 1399h9.1v6.5h-9.1zM488.3 1399h9.1v6.5h-9.1zM497.4 1399h9.1v6.5h-9.1zM506.5 1399h9.1v6.5h-9.1zM533.9 1399h9.1v6.5h-9.1zM552.1 1399h9.1v6.5h-9.1zM561.2 1399h9.1v6.5h-9.1zM570.3 1399h9.1v6.5h-9.1zM588.5 1399h9.1v6.5h-9.1zM597.6 1399h9.1v6.5h-9.1zM606.7 1399h9.1v6.5h-9.1zM615.9 1399h9.1v6.5h-9.1zM634.1 1399h9.1v6.5h-9.1zM96.6 1405.5h9.1v6.5h-9.1zM105.7 1405.5h9.1v6.5h-9.1zM114.8 1405.5h9.1v6.5h-9.1zM133 1405.5h9.1v6.5h-9.1zM142.1 1405.5h9.1v6.5h-9.1zM151.3 1405.5h9.1v6.5h-9.1zM160.4 1405.5h9.1v6.5h-9.1zM178.6 1405.5h9.1v6.5h-9.1zM187.7 1405.5h9.1v6.5h-9.1zM205.9 1405.5h9.1v6.5h-9.1zM224.1 1405.5h9.1v6.5h-9.1zM233.2 1405.5h9.1v6.5h-9.1zM242.4 1405.5h9.1v6.5h-9.1zM251.5 1405.5h9.1v6.5h-9.1zM260.6 1405.5h9.1v6.5h-9.1zM269.7 1405.5h9.1v6.5h-9.1zM287.9 1405.5h9.1v6.5h-9.1zM324.3 1405.5h9.1v6.5h-9.1zM333.5 1405.5h9.1v6.5h-9.1zM351.7 1405.5h9.1v6.5h-9.1zM360.8 1405.5h9.1v6.5h-9.1zM369.9 1405.5h9.1v6.5h-9.1zM442.8 1405.5h9.1v6.5h-9.1zM470.1 1405.5h9.1v6.5h-9.1zM497.4 1405.5h9.1v6.5h-9.1zM506.5 1405.5h9.1v6.5h-9.1zM561.2 1405.5h9.1v6.5h-9.1zM570.3 1405.5h9.1v6.5h-9.1zM579.4 1405.5h9.1v6.5h-9.1zM588.5 1405.5h9.1v6.5h-9.1zM597.6 1405.5h9.1v6.5h-9.1zM606.7 1405.5h9.1v6.5h-9.1zM615.9 1405.5h9.1v6.5h-9.1zM625 1405.5h9.1v6.5h-9.1zM634.1 1405.5h9.1v6.5h-9.1zM96.6 1412h9.1v6.5h-9.1zM105.7 1412h9.1v6.5h-9.1zM114.8 1412h9.1v6.5h-9.1zM133 1412h9.1v6.5h-9.1zM160.4 1412h9.1v6.5h-9.1zM205.9 1412h9.1v6.5h-9.1zM224.1 1412h9.1v6.5h-9.1zM233.2 1412h9.1v6.5h-9.1zM242.4 1412h9.1v6.5h-9.1zM251.5 1412h9.1v6.5h-9.1zM260.6 1412h9.1v6.5h-9.1zM369.9 1412h9.1v6.5h-9.1zM470.1 1412h9.1v6.5h-9.1zM488.3 1412h9.1v6.5h-9.1zM497.4 1412h9.1v6.5h-9.1zM506.5 1412h9.1v6.5h-9.1zM561.2 1412h9.1v6.5h-9.1zM579.4 1412h9.1v6.5h-9.1zM588.5 1412h9.1v6.5h-9.1zM597.6 1412h9.1v6.5h-9.1zM606.7 1412h9.1v6.5h-9.1zM615.9 1412h9.1v6.5h-9.1zM634.1 1412h9.1v6.5h-9.1zM652.3 1412h9.1v6.5h-9.1zM96.6 1418.5h9.1v6.5h-9.1zM114.8 1418.5h9.1v6.5h-9.1zM160.4 1418.5h9.1v6.5h-9.1zM169.5 1418.5h9.1v6.5h-9.1zM196.8 1418.5h9.1v6.5h-9.1zM205.9 1418.5h9.1v6.5h-9.1zM224.1 1418.5h9.1v6.5h-9.1zM233.2 1418.5h9.1v6.5h-9.1zM242.4 1418.5h9.1v6.5h-9.1zM251.5 1418.5h9.1v6.5h-9.1zM260.6 1418.5h9.1v6.5h-9.1zM269.7 1418.5h9.1v6.5h-9.1zM369.9 1418.5h9.1v6.5h-9.1zM406.3 1418.5h9.1v6.5h-9.1zM451.9 1418.5h9.1v6.5h-9.1zM461 1418.5h9.1v6.5h-9.1zM470.1 1418.5h9.1v6.5h-9.1zM479.2 1418.5h9.1v6.5h-9.1zM488.3 1418.5h9.1v6.5h-9.1zM497.4 1418.5h9.1v6.5h-9.1zM506.5 1418.5h9.1v6.5h-9.1zM533.9 1418.5h9.1v6.5h-9.1zM543 1418.5h9.1v6.5h-9.1zM561.2 1418.5h9.1v6.5h-9.1zM588.5 1418.5h9.1v6.5h-9.1zM597.6 1418.5h9.1v6.5h-9.1zM615.9 1418.5h9.1v6.5h-9.1zM652.3 1418.5h9.1v6.5h-9.1zM160.4 1425h9.1v6.5h-9.1zM169.5 1425h9.1v6.5h-9.1zM196.8 1425h9.1v6.5h-9.1zM205.9 1425h9.1v6.5h-9.1zM224.1 1425h9.1v6.5h-9.1zM233.2 1425h9.1v6.5h-9.1zM242.4 1425h9.1v6.5h-9.1zM251.5 1425h9.1v6.5h-9.1zM260.6 1425h9.1v6.5h-9.1zM269.7 1425h9.1v6.5h-9.1zM315.2 1425h9.1v6.5h-9.1zM369.9 1425h9.1v6.5h-9.1zM406.3 1425h9.1v6.5h-9.1zM451.9 1425h9.1v6.5h-9.1zM461 1425h9.1v6.5h-9.1zM470.1 1425h9.1v6.5h-9.1zM479.2 1425h9.1v6.5h-9.1zM488.3 1425h9.1v6.5h-9.1zM497.4 1425h9.1v6.5h-9.1zM506.5 1425h9.1v6.5h-9.1zM597.6 1425h9.1v6.5h-9.1zM615.9 1425h9.1v6.5h-9.1zM652.3 1425h9.1v6.5h-9.1zM133 1431.5h9.1v6.5h-9.1zM160.4 1431.5h9.1v6.5h-9.1zM196.8 1431.5h9.1v6.5h-9.1zM205.9 1431.5h9.1v6.5h-9.1zM224.1 1431.5h9.1v6.5h-9.1zM233.2 1431.5h9.1v6.5h-9.1zM242.4 1431.5h9.1v6.5h-9.1zM251.5 1431.5h9.1v6.5h-9.1zM260.6 1431.5h9.1v6.5h-9.1zM315.2 1431.5h9.1v6.5h-9.1zM360.8 1431.5h9.1v6.5h-9.1zM369.9 1431.5h9.1v6.5h-9.1zM406.3 1431.5h9.1v6.5h-9.1zM461 1431.5h9.1v6.5h-9.1zM470.1 1431.5h9.1v6.5h-9.1zM479.2 1431.5h9.1v6.5h-9.1zM497.4 1431.5h9.1v6.5h-9.1zM506.5 1431.5h9.1v6.5h-9.1zM615.9 1431.5h9.1v6.5h-9.1zM652.3 1431.5h9.1v6.5h-9.1zM133 1438h9.1v6.5h-9.1zM151.3 1438h9.1v6.5h-9.1zM160.4 1438h9.1v6.5h-9.1zM196.8 1438h9.1v6.5h-9.1zM205.9 1438h9.1v6.5h-9.1zM242.4 1438h9.1v6.5h-9.1zM251.5 1438h9.1v6.5h-9.1zM260.6 1438h9.1v6.5h-9.1zM360.8 1438h9.1v6.5h-9.1zM369.9 1438h9.1v6.5h-9.1zM406.3 1438h9.1v6.5h-9.1zM461 1438h9.1v6.5h-9.1zM479.2 1438h9.1v6.5h-9.1zM497.4 1438h9.1v6.5h-9.1zM506.5 1438h9.1v6.5h-9.1zM615.9 1438h9.1v6.5h-9.1zM652.3 1438h9.1v6.5h-9.1zM133 1444.5h9.1v6.5h-9.1zM142.1 1444.5h9.1v6.5h-9.1zM151.3 1444.5h9.1v6.5h-9.1zM160.4 1444.5h9.1v6.5h-9.1zM169.5 1444.5h9.1v6.5h-9.1zM196.8 1444.5h9.1v6.5h-9.1zM205.9 1444.5h9.1v6.5h-9.1zM251.5 1444.5h9.1v6.5h-9.1zM260.6 1444.5h9.1v6.5h-9.1zM278.8 1444.5h9.1v6.5h-9.1zM369.9 1444.5h9.1v6.5h-9.1zM406.3 1444.5h9.1v6.5h-9.1zM433.7 1444.5h9.1v6.5h-9.1zM442.8 1444.5h9.1v6.5h-9.1zM470.1 1444.5h9.1v6.5h-9.1zM479.2 1444.5h9.1v6.5h-9.1zM497.4 1444.5h9.1v6.5h-9.1zM506.5 1444.5h9.1v6.5h-9.1zM552.1 1444.5h9.1v6.5h-9.1zM615.9 1444.5h9.1v6.5h-9.1zM643.2 1444.5h9.1v6.5h-9.1zM652.3 1444.5h9.1v6.5h-9.1zM133 1451h9.1v6.5h-9.1zM142.1 1451h9.1v6.5h-9.1zM151.3 1451h9.1v6.5h-9.1zM160.4 1451h9.1v6.5h-9.1zM169.5 1451h9.1v6.5h-9.1zM205.9 1451h9.1v6.5h-9.1zM215 1451h9.1v6.5h-9.1zM251.5 1451h9.1v6.5h-9.1zM260.6 1451h9.1v6.5h-9.1zM269.7 1451h9.1v6.5h-9.1zM278.8 1451h9.1v6.5h-9.1zM369.9 1451h9.1v6.5h-9.1zM379 1451h9.1v6.5h-9.1zM406.3 1451h9.1v6.5h-9.1zM433.7 1451h9.1v6.5h-9.1zM479.2 1451h9.1v6.5h-9.1zM488.3 1451h9.1v6.5h-9.1zM497.4 1451h9.1v6.5h-9.1zM506.5 1451h9.1v6.5h-9.1zM615.9 1451h9.1v6.5h-9.1zM643.2 1451h9.1v6.5h-9.1zM652.3 1451h9.1v6.5h-9.1zM133 1457.5h9.1v6.5h-9.1zM142.1 1457.5h9.1v6.5h-9.1zM160.4 1457.5h9.1v6.5h-9.1zM169.5 1457.5h9.1v6.5h-9.1zM215 1457.5h9.1v6.5h-9.1zM224.1 1457.5h9.1v6.5h-9.1zM251.5 1457.5h9.1v6.5h-9.1zM269.7 1457.5h9.1v6.5h-9.1zM278.8 1457.5h9.1v6.5h-9.1zM287.9 1457.5h9.1v6.5h-9.1zM306.1 1457.5h9.1v6.5h-9.1zM369.9 1457.5h9.1v6.5h-9.1zM379 1457.5h9.1v6.5h-9.1zM424.5 1457.5h9.1v6.5h-9.1zM433.7 1457.5h9.1v6.5h-9.1zM442.8 1457.5h9.1v6.5h-9.1zM479.2 1457.5h9.1v6.5h-9.1zM488.3 1457.5h9.1v6.5h-9.1zM497.4 1457.5h9.1v6.5h-9.1zM506.5 1457.5h9.1v6.5h-9.1zM615.9 1457.5h9.1v6.5h-9.1zM160.4 1464h9.1v6.5h-9.1zM169.5 1464h9.1v6.5h-9.1zM215 1464h9.1v6.5h-9.1zM224.1 1464h9.1v6.5h-9.1zM269.7 1464h9.1v6.5h-9.1zM278.8 1464h9.1v6.5h-9.1zM287.9 1464h9.1v6.5h-9.1zM297 1464h9.1v6.5h-9.1zM306.1 1464h9.1v6.5h-9.1zM369.9 1464h9.1v6.5h-9.1zM379 1464h9.1v6.5h-9.1zM433.7 1464h9.1v6.5h-9.1zM442.8 1464h9.1v6.5h-9.1zM451.9 1464h9.1v6.5h-9.1zM461 1464h9.1v6.5h-9.1zM470.1 1464h9.1v6.5h-9.1zM479.2 1464h9.1v6.5h-9.1zM488.3 1464h9.1v6.5h-9.1zM497.4 1464h9.1v6.5h-9.1zM506.5 1464h9.1v6.5h-9.1zM615.9 1464h9.1v6.5h-9.1zM105.7 1470.5h9.1v6.5h-9.1zM114.8 1470.5h9.1v6.5h-9.1zM142.1 1470.5h9.1v6.5h-9.1zM169.5 1470.5h9.1v6.5h-9.1zM187.7 1470.5h9.1v6.5h-9.1zM224.1 1470.5h9.1v6.5h-9.1zM269.7 1470.5h9.1v6.5h-9.1zM278.8 1470.5h9.1v6.5h-9.1zM287.9 1470.5h9.1v6.5h-9.1zM297 1470.5h9.1v6.5h-9.1zM306.1 1470.5h9.1v6.5h-9.1zM315.2 1470.5h9.1v6.5h-9.1zM369.9 1470.5h9.1v6.5h-9.1zM442.8 1470.5h9.1v6.5h-9.1zM461 1470.5h9.1v6.5h-9.1zM479.2 1470.5h9.1v6.5h-9.1zM488.3 1470.5h9.1v6.5h-9.1zM497.4 1470.5h9.1v6.5h-9.1zM506.5 1470.5h9.1v6.5h-9.1zM515.6 1470.5h9.1v6.5h-9.1zM105.7 1477h9.1v6.5h-9.1zM114.8 1477h9.1v6.5h-9.1zM169.5 1477h9.1v6.5h-9.1zM187.7 1477h9.1v6.5h-9.1zM224.1 1477h9.1v6.5h-9.1zM269.7 1477h9.1v6.5h-9.1zM278.8 1477h9.1v6.5h-9.1zM287.9 1477h9.1v6.5h-9.1zM297 1477h9.1v6.5h-9.1zM306.1 1477h9.1v6.5h-9.1zM315.2 1477h9.1v6.5h-9.1zM369.9 1477h9.1v6.5h-9.1zM397.2 1477h9.1v6.5h-9.1zM461 1477h9.1v6.5h-9.1zM470.1 1477h9.1v6.5h-9.1zM479.2 1477h9.1v6.5h-9.1zM488.3 1477h9.1v6.5h-9.1zM497.4 1477h9.1v6.5h-9.1zM506.5 1477h9.1v6.5h-9.1zM579.4 1477h9.1v6.5h-9.1zM105.7 1483.5h9.1v6.5h-9.1zM114.8 1483.5h9.1v6.5h-9.1zM178.6 1483.5h9.1v6.5h-9.1zM187.7 1483.5h9.1v6.5h-9.1zM278.8 1483.5h9.1v6.5h-9.1zM287.9 1483.5h9.1v6.5h-9.1zM297 1483.5h9.1v6.5h-9.1zM306.1 1483.5h9.1v6.5h-9.1zM315.2 1483.5h9.1v6.5h-9.1zM369.9 1483.5h9.1v6.5h-9.1zM397.2 1483.5h9.1v6.5h-9.1zM461 1483.5h9.1v6.5h-9.1zM488.3 1483.5h9.1v6.5h-9.1zM497.4 1483.5h9.1v6.5h-9.1zM506.5 1483.5h9.1v6.5h-9.1zM105.7 1490h9.1v6.5h-9.1zM151.3 1490h9.1v6.5h-9.1zM178.6 1490h9.1v6.5h-9.1zM187.7 1490h9.1v6.5h-9.1zM196.8 1490h9.1v6.5h-9.1zM205.9 1490h9.1v6.5h-9.1zM297 1490h9.1v6.5h-9.1zM306.1 1490h9.1v6.5h-9.1zM315.2 1490h9.1v6.5h-9.1zM369.9 1490h9.1v6.5h-9.1zM397.2 1490h9.1v6.5h-9.1zM415.4 1490h9.1v6.5h-9.1zM433.7 1490h9.1v6.5h-9.1zM470.1 1490h9.1v6.5h-9.1zM488.3 1490h9.1v6.5h-9.1zM533.9 1490h9.1v6.5h-9.1zM570.3 1490h9.1v6.5h-9.1zM597.6 1490h9.1v6.5h-9.1zM625 1490h9.1v6.5h-9.1zM634.1 1490h9.1v6.5h-9.1zM643.2 1490h9.1v6.5h-9.1zM652.3 1490h9.1v6.5h-9.1zM105.7 1496.5h9.1v6.5h-9.1zM133 1496.5h9.1v6.5h-9.1zM151.3 1496.5h9.1v6.5h-9.1zM178.6 1496.5h9.1v6.5h-9.1zM187.7 1496.5h9.1v6.5h-9.1zM196.8 1496.5h9.1v6.5h-9.1zM205.9 1496.5h9.1v6.5h-9.1zM315.2 1496.5h9.1v6.5h-9.1zM442.8 1496.5h9.1v6.5h-9.1zM451.9 1496.5h9.1v6.5h-9.1zM479.2 1496.5h9.1v6.5h-9.1zM497.4 1496.5h9.1v6.5h-9.1zM524.8 1496.5h9.1v6.5h-9.1zM533.9 1496.5h9.1v6.5h-9.1zM552.1 1496.5h9.1v6.5h-9.1zM561.2 1496.5h9.1v6.5h-9.1zM570.3 1496.5h9.1v6.5h-9.1zM597.6 1496.5h9.1v6.5h-9.1zM606.7 1496.5h9.1v6.5h-9.1zM625 1496.5h9.1v6.5h-9.1zM634.1 1496.5h9.1v6.5h-9.1zM643.2 1496.5h9.1v6.5h-9.1zM652.3 1496.5h9.1v6.5h-9.1zM105.7 1503h9.1v6.5h-9.1zM123.9 1503h9.1v6.5h-9.1zM133 1503h9.1v6.5h-9.1zM151.3 1503h9.1v6.5h-9.1zM160.4 1503h9.1v6.5h-9.1zM187.7 1503h9.1v6.5h-9.1zM205.9 1503h9.1v6.5h-9.1zM297 1503h9.1v6.5h-9.1zM379 1503h9.1v6.5h-9.1zM442.8 1503h9.1v6.5h-9.1zM515.6 1503h9.1v6.5h-9.1zM524.8 1503h9.1v6.5h-9.1zM533.9 1503h9.1v6.5h-9.1zM543 1503h9.1v6.5h-9.1zM561.2 1503h9.1v6.5h-9.1zM579.4 1503h9.1v6.5h-9.1zM597.6 1503h9.1v6.5h-9.1zM606.7 1503h9.1v6.5h-9.1zM615.9 1503h9.1v6.5h-9.1zM105.7 1509.5h9.1v6.5h-9.1zM114.8 1509.5h9.1v6.5h-9.1zM123.9 1509.5h9.1v6.5h-9.1zM133 1509.5h9.1v6.5h-9.1zM151.3 1509.5h9.1v6.5h-9.1zM160.4 1509.5h9.1v6.5h-9.1zM187.7 1509.5h9.1v6.5h-9.1zM205.9 1509.5h9.1v6.5h-9.1zM215 1509.5h9.1v6.5h-9.1zM242.4 1509.5h9.1v6.5h-9.1zM297 1509.5h9.1v6.5h-9.1zM379 1509.5h9.1v6.5h-9.1zM415.4 1509.5h9.1v6.5h-9.1zM424.5 1509.5h9.1v6.5h-9.1zM433.7 1509.5h9.1v6.5h-9.1zM479.2 1509.5h9.1v6.5h-9.1zM488.3 1509.5h9.1v6.5h-9.1zM497.4 1509.5h9.1v6.5h-9.1zM570.3 1509.5h9.1v6.5h-9.1zM606.7 1509.5h9.1v6.5h-9.1zM652.3 1509.5h9.1v6.5h-9.1zM105.7 1516h9.1v6.5h-9.1zM123.9 1516h9.1v6.5h-9.1zM133 1516h9.1v6.5h-9.1zM151.3 1516h9.1v6.5h-9.1zM178.6 1516h9.1v6.5h-9.1zM187.7 1516h9.1v6.5h-9.1zM297 1516h9.1v6.5h-9.1zM379 1516h9.1v6.5h-9.1zM415.4 1516h9.1v6.5h-9.1zM433.7 1516h9.1v6.5h-9.1zM461 1516h9.1v6.5h-9.1zM470.1 1516h9.1v6.5h-9.1zM488.3 1516h9.1v6.5h-9.1zM497.4 1516h9.1v6.5h-9.1zM515.6 1516h9.1v6.5h-9.1zM524.8 1516h9.1v6.5h-9.1zM561.2 1516h9.1v6.5h-9.1zM570.3 1516h9.1v6.5h-9.1zM579.4 1516h9.1v6.5h-9.1zM606.7 1516h9.1v6.5h-9.1zM634.1 1516h9.1v6.5h-9.1zM643.2 1516h9.1v6.5h-9.1zM652.3 1516h9.1v6.5h-9.1zM105.7 1522.5h9.1v6.5h-9.1zM114.8 1522.5h9.1v6.5h-9.1zM151.3 1522.5h9.1v6.5h-9.1zM233.2 1522.5h9.1v6.5h-9.1zM415.4 1522.5h9.1v6.5h-9.1zM424.5 1522.5h9.1v6.5h-9.1zM433.7 1522.5h9.1v6.5h-9.1zM442.8 1522.5h9.1v6.5h-9.1zM451.9 1522.5h9.1v6.5h-9.1zM461 1522.5h9.1v6.5h-9.1zM470.1 1522.5h9.1v6.5h-9.1zM479.2 1522.5h9.1v6.5h-9.1zM488.3 1522.5h9.1v6.5h-9.1zM497.4 1522.5h9.1v6.5h-9.1zM506.5 1522.5h9.1v6.5h-9.1zM515.6 1522.5h9.1v6.5h-9.1zM533.9 1522.5h9.1v6.5h-9.1zM543 1522.5h9.1v6.5h-9.1zM552.1 1522.5h9.1v6.5h-9.1zM579.4 1522.5h9.1v6.5h-9.1zM588.5 1522.5h9.1v6.5h-9.1zM597.6 1522.5h9.1v6.5h-9.1zM625 1522.5h9.1v6.5h-9.1zM634.1 1522.5h9.1v6.5h-9.1zM643.2 1522.5h9.1v6.5h-9.1zM105.7 1529h9.1v6.5h-9.1zM114.8 1529h9.1v6.5h-9.1zM151.3 1529h9.1v6.5h-9.1zM178.6 1529h9.1v6.5h-9.1zM442.8 1529h9.1v6.5h-9.1zM451.9 1529h9.1v6.5h-9.1zM470.1 1529h9.1v6.5h-9.1zM479.2 1529h9.1v6.5h-9.1zM497.4 1529h9.1v6.5h-9.1zM506.5 1529h9.1v6.5h-9.1zM515.6 1529h9.1v6.5h-9.1zM552.1 1529h9.1v6.5h-9.1zM597.6 1529h9.1v6.5h-9.1zM615.9 1529h9.1v6.5h-9.1zM625 1529h9.1v6.5h-9.1zM634.1 1529h9.1v6.5h-9.1zM643.2 1529h9.1v6.5h-9.1zM652.3 1529h9.1v6.5h-9.1zM105.7 1535.5h9.1v6.5h-9.1zM287.9 1535.5h9.1v6.5h-9.1zM360.8 1535.5h9.1v6.5h-9.1zM442.8 1535.5h9.1v6.5h-9.1zM451.9 1535.5h9.1v6.5h-9.1zM461 1535.5h9.1v6.5h-9.1zM470.1 1535.5h9.1v6.5h-9.1zM479.2 1535.5h9.1v6.5h-9.1zM506.5 1535.5h9.1v6.5h-9.1zM515.6 1535.5h9.1v6.5h-9.1zM552.1 1535.5h9.1v6.5h-9.1zM570.3 1535.5h9.1v6.5h-9.1zM597.6 1535.5h9.1v6.5h-9.1zM615.9 1535.5h9.1v6.5h-9.1zM625 1535.5h9.1v6.5h-9.1zM634.1 1535.5h9.1v6.5h-9.1zM643.2 1535.5h9.1v6.5h-9.1zM652.3 1535.5h9.1v6.5h-9.1zM233.2 1542h9.1v6.5h-9.1zM242.4 1542h9.1v6.5h-9.1zM287.9 1542h9.1v6.5h-9.1zM351.7 1542h9.1v6.5h-9.1zM415.4 1542h9.1v6.5h-9.1zM451.9 1542h9.1v6.5h-9.1zM461 1542h9.1v6.5h-9.1zM470.1 1542h9.1v6.5h-9.1zM479.2 1542h9.1v6.5h-9.1zM552.1 1542h9.1v6.5h-9.1zM570.3 1542h9.1v6.5h-9.1zM597.6 1542h9.1v6.5h-9.1zM615.9 1542h9.1v6.5h-9.1zM643.2 1542h9.1v6.5h-9.1zM652.3 1542h9.1v6.5h-9.1zM242.4 1548.5h9.1v6.5h-9.1zM260.6 1548.5h9.1v6.5h-9.1zM287.9 1548.5h9.1v6.5h-9.1zM351.7 1548.5h9.1v6.5h-9.1zM369.9 1548.5h9.1v6.5h-9.1zM379 1548.5h9.1v6.5h-9.1zM415.4 1548.5h9.1v6.5h-9.1zM424.5 1548.5h9.1v6.5h-9.1zM451.9 1548.5h9.1v6.5h-9.1zM461 1548.5h9.1v6.5h-9.1zM470.1 1548.5h9.1v6.5h-9.1zM479.2 1548.5h9.1v6.5h-9.1zM570.3 1548.5h9.1v6.5h-9.1zM615.9 1548.5h9.1v6.5h-9.1zM643.2 1548.5h9.1v6.5h-9.1zM652.3 1548.5h9.1v6.5h-9.1zM160.4 1555h9.1v6.5h-9.1zM242.4 1555h9.1v6.5h-9.1zM260.6 1555h9.1v6.5h-9.1zM287.9 1555h9.1v6.5h-9.1zM351.7 1555h9.1v6.5h-9.1zM360.8 1555h9.1v6.5h-9.1zM369.9 1555h9.1v6.5h-9.1zM379 1555h9.1v6.5h-9.1zM397.2 1555h9.1v6.5h-9.1zM406.3 1555h9.1v6.5h-9.1zM415.4 1555h9.1v6.5h-9.1zM424.5 1555h9.1v6.5h-9.1zM451.9 1555h9.1v6.5h-9.1zM470.1 1555h9.1v6.5h-9.1zM506.5 1555h9.1v6.5h-9.1zM615.9 1555h9.1v6.5h-9.1zM643.2 1555h9.1v6.5h-9.1zM652.3 1555h9.1v6.5h-9.1zM178.6 1561.5h9.1v6.5h-9.1zM215 1561.5h9.1v6.5h-9.1zM287.9 1561.5h9.1v6.5h-9.1zM315.2 1561.5h9.1v6.5h-9.1zM342.6 1561.5h9.1v6.5h-9.1zM351.7 1561.5h9.1v6.5h-9.1zM360.8 1561.5h9.1v6.5h-9.1zM369.9 1561.5h9.1v6.5h-9.1zM379 1561.5h9.1v6.5h-9.1zM388.1 1561.5h9.1v6.5h-9.1zM397.2 1561.5h9.1v6.5h-9.1zM406.3 1561.5h9.1v6.5h-9.1zM424.5 1561.5h9.1v6.5h-9.1zM433.7 1561.5h9.1v6.5h-9.1zM451.9 1561.5h9.1v6.5h-9.1zM488.3 1561.5h9.1v6.5h-9.1zM497.4 1561.5h9.1v6.5h-9.1zM615.9 1561.5h9.1v6.5h-9.1zM643.2 1561.5h9.1v6.5h-9.1zM187.7 1568h9.1v6.5h-9.1zM215 1568h9.1v6.5h-9.1zM315.2 1568h9.1v6.5h-9.1zM360.8 1568h9.1v6.5h-9.1zM369.9 1568h9.1v6.5h-9.1zM397.2 1568h9.1v6.5h-9.1zM406.3 1568h9.1v6.5h-9.1zM415.4 1568h9.1v6.5h-9.1zM424.5 1568h9.1v6.5h-9.1zM433.7 1568h9.1v6.5h-9.1zM451.9 1568h9.1v6.5h-9.1zM497.4 1568h9.1v6.5h-9.1zM543 1568h9.1v6.5h-9.1zM114.8 1574.5h9.1v6.5h-9.1zM123.9 1574.5h9.1v6.5h-9.1zM133 1574.5h9.1v6.5h-9.1zM142.1 1574.5h9.1v6.5h-9.1zM151.3 1574.5h9.1v6.5h-9.1zM160.4 1574.5h9.1v6.5h-9.1zM215 1574.5h9.1v6.5h-9.1zM315.2 1574.5h9.1v6.5h-9.1zM360.8 1574.5h9.1v6.5h-9.1zM397.2 1574.5h9.1v6.5h-9.1zM406.3 1574.5h9.1v6.5h-9.1zM415.4 1574.5h9.1v6.5h-9.1zM424.5 1574.5h9.1v6.5h-9.1zM497.4 1574.5h9.1v6.5h-9.1zM543 1574.5h9.1v6.5h-9.1zM552.1 1574.5h9.1v6.5h-9.1zM625 1574.5h9.1v6.5h-9.1zM643.2 1574.5h9.1v6.5h-9.1zM652.3 1574.5h9.1v6.5h-9.1zM114.8 1581h9.1v6.5h-9.1zM123.9 1581h9.1v6.5h-9.1zM133 1581h9.1v6.5h-9.1zM151.3 1581h9.1v6.5h-9.1zM160.4 1581h9.1v6.5h-9.1zM260.6 1581h9.1v6.5h-9.1zM297 1581h9.1v6.5h-9.1zM315.2 1581h9.1v6.5h-9.1zM324.3 1581h9.1v6.5h-9.1zM369.9 1581h9.1v6.5h-9.1zM379 1581h9.1v6.5h-9.1zM406.3 1581h9.1v6.5h-9.1zM415.4 1581h9.1v6.5h-9.1zM424.5 1581h9.1v6.5h-9.1zM497.4 1581h9.1v6.5h-9.1zM524.8 1581h9.1v6.5h-9.1zM543 1581h9.1v6.5h-9.1zM552.1 1581h9.1v6.5h-9.1zM625 1581h9.1v6.5h-9.1zM114.8 1587.5h9.1v6.5h-9.1zM123.9 1587.5h9.1v6.5h-9.1zM133 1587.5h9.1v6.5h-9.1zM151.3 1587.5h9.1v6.5h-9.1zM160.4 1587.5h9.1v6.5h-9.1zM169.5 1587.5h9.1v6.5h-9.1zM178.6 1587.5h9.1v6.5h-9.1zM187.7 1587.5h9.1v6.5h-9.1zM260.6 1587.5h9.1v6.5h-9.1zM315.2 1587.5h9.1v6.5h-9.1zM324.3 1587.5h9.1v6.5h-9.1zM333.5 1587.5h9.1v6.5h-9.1zM369.9 1587.5h9.1v6.5h-9.1zM379 1587.5h9.1v6.5h-9.1zM406.3 1587.5h9.1v6.5h-9.1zM415.4 1587.5h9.1v6.5h-9.1zM424.5 1587.5h9.1v6.5h-9.1zM497.4 1587.5h9.1v6.5h-9.1zM524.8 1587.5h9.1v6.5h-9.1zM543 1587.5h9.1v6.5h-9.1zM552.1 1587.5h9.1v6.5h-9.1zM570.3 1587.5h9.1v6.5h-9.1zM625 1587.5h9.1v6.5h-9.1z" fill="#ffffff"/>
<path d="M169.5 1191h9.1v6.5h-9.1zM178.6 1191h9.1v6.5h-9.1zM315.2 1191h9.1v6.5h-9.1zM324.3 1191h9.1v6.5h-9.1zM333.5 1191h9.1v6.5h-9.1zM342.6 1191h9.1v6.5h-9.1zM351.7 1191h9.1v6.5h-9.1zM178.6 1197.5h9.1v6.5h-9.1zM215 1197.5h9.1v6.5h-9.1zM333.5 1197.5h9.1v6.5h-9.1zM342.6 1197.5h9.1v6.5h-9.1zM351.7 1197.5h9.1v6.5h-9.1zM415.4 1197.5h9.1v6.5h-9.1zM552.1 1197.5h9.1v6.5h-9.1zM561.2 1197.5h9.1v6.5h-9.1zM196.8 1204h9.1v6.5h-9.1zM215 1204h9.1v6.5h-9.1zM251.5 1204h9.1v6.5h-9.1zM260.6 1204h9.1v6.5h-9.1zM333.5 1204h9.1v6.5h-9.1zM342.6 1204h9.1v6.5h-9.1zM351.7 1204h9.1v6.5h-9.1zM415.4 1204h9.1v6.5h-9.1zM433.7 1204h9.1v6.5h-9.1zM524.8 1204h9.1v6.5h-9.1zM561.2 1204h9.1v6.5h-9.1zM615.9 1204h9.1v6.5h-9.1zM625 1204h9.1v6.5h-9.1zM96.6 1210.5h9.1v6.5h-9.1zM196.8 1210.5h9.1v6.5h-9.1zM205.9 1210.5h9.1v6.5h-9.1zM251.5 1210.5h9.1v6.5h-9.1zM333.5 1210.5h9.1v6.5h-9.1zM342.6 1210.5h9.1v6.5h-9.1zM351.7 1210.5h9.1v6.5h-9.1zM415.4 1210.5h9.1v6.5h-9.1zM433.7 1210.5h9.1v6.5h-9.1zM524.8 1210.5h9.1v6.5h-9.1zM561.2 1210.5h9.1v6.5h-9.1zM615.9 1210.5h9.1v6.5h-9.1zM625 1210.5h9.1v6.5h-9.1zM105.7 1243h9.1v6.5h-9.1zM160.4 1243h9.1v6.5h-9.1zM224.1 1243h9.1v6.5h-9.1zM369.9 1243h9.1v6.5h-9.1zM497.4 1243h9.1v6.5h-9.1zM105.7 1249.5h9.1v6.5h-9.1zM160.4 1249.5h9.1v6.5h-9.1zM169.5 1249.5h9.1v6.5h-9.1zM187.7 1249.5h9.1v6.5h-9.1zM224.1 1249.5h9.1v6.5h-9.1zM324.3 1249.5h9.1v6.5h-9.1zM597.6 1249.5h9.1v6.5h-9.1zM105.7 1256h9.1v6.5h-9.1zM187.7 1256h9.1v6.5h-9.1zM324.3 1256h9.1v6.5h-9.1zM333.5 1256h9.1v6.5h-9.1zM597.6 1256h9.1v6.5h-9.1zM105.7 1262.5h9.1v6.5h-9.1zM333.5 1262.5h9.1v6.5h-9.1zM342.6 1262.5h9.1v6.5h-9.1zM360.8 1262.5h9.1v6.5h-9.1zM105.7 1269h9.1v6.5h-9.1zM333.5 1269h9.1v6.5h-9.1zM342.6 1269h9.1v6.5h-9.1zM360.8 1269h9.1v6.5h-9.1zM488.3 1269h9.1v6.5h-9.1zM652.3 1269h9.1v6.5h-9.1zM96.6 1275.5h9.1v6.5h-9.1zM269.7 1275.5h9.1v6.5h-9.1zM315.2 1275.5h9.1v6.5h-9.1zM333.5 1275.5h9.1v6.5h-9.1zM342.6 1275.5h9.1v6.5h-9.1zM488.3 1275.5h9.1v6.5h-9.1zM497.4 1275.5h9.1v6.5h-9.1zM634.1 1275.5h9.1v6.5h-9.1zM269.7 1282h9.1v6.5h-9.1zM315.2 1282h9.1v6.5h-9.1zM324.3 1282h9.1v6.5h-9.1zM333.5 1282h9.1v6.5h-9.1zM342.6 1282h9.1v6.5h-9.1zM497.4 1282h9.1v6.5h-9.1zM634.1 1282h9.1v6.5h-9.1zM187.7 1288.5h9.1v6.5h-9.1zM269.7 1288.5h9.1v6.5h-9.1zM324.3 1288.5h9.1v6.5h-9.1zM333.5 1288.5h9.1v6.5h-9.1zM342.6 1288.5h9.1v6.5h-9.1zM397.2 1288.5h9.1v6.5h-9.1zM424.5 1288.5h9.1v6.5h-9.1zM497.4 1288.5h9.1v6.5h-9.1zM524.8 1288.5h9.1v6.5h-9.1zM123.9 1295h9.1v6.5h-9.1zM242.4 1295h9.1v6.5h-9.1zM269.7 1295h9.1v6.5h-9.1zM333.5 1295h9.1v6.5h-9.1zM397.2 1295h9.1v6.5h-9.1zM424.5 1295h9.1v6.5h-9.1zM524.8 1295h9.1v6.5h-9.1zM625 1295h9.1v6.5h-9.1zM178.6 1301.5h9.1v6.5h-9.1zM187.7 1301.5h9.1v6.5h-9.1zM242.4 1301.5h9.1v6.5h-9.1zM269.7 1301.5h9.1v6.5h-9.1zM397.2 1301.5h9.1v6.5h-9.1zM424.5 1301.5h9.1v6.5h-9.1zM588.5 1301.5h9.1v6.5h-9.1zM625 1301.5h9.1v6.5h-9.1zM242.4 1308h9.1v6.5h-9.1zM269.7 1308h9.1v6.5h-9.1zM388.1 1308h9.1v6.5h-9.1zM397.2 1308h9.1v6.5h-9.1zM424.5 1308h9.1v6.5h-9.1zM552.1 1308h9.1v6.5h-9.1zM597.6 1308h9.1v6.5h-9.1zM615.9 1308h9.1v6.5h-9.1zM242.4 1314.5h9.1v6.5h-9.1zM269.7 1314.5h9.1v6.5h-9.1zM278.8 1314.5h9.1v6.5h-9.1zM369.9 1314.5h9.1v6.5h-9.1zM424.5 1314.5h9.1v6.5h-9.1zM433.7 1314.5h9.1v6.5h-9.1zM597.6 1314.5h9.1v6.5h-9.1zM224.1 1321h9.1v6.5h-9.1zM242.4 1321h9.1v6.5h-9.1zM269.7 1321h9.1v6.5h-9.1zM278.8 1321h9.1v6.5h-9.1zM433.7 1321h9.1v6.5h-9.1zM597.6 1321h9.1v6.5h-9.1zM606.7 1321h9.1v6.5h-9.1zM96.6 1327.5h9.1v6.5h-9.1zM142.1 1327.5h9.1v6.5h-9.1zM242.4 1327.5h9.1v6.5h-9.1zM278.8 1327.5h9.1v6.5h-9.1zM287.9 1327.5h9.1v6.5h-9.1zM570.3 1327.5h9.1v6.5h-9.1zM597.6 1327.5h9.1v6.5h-9.1zM606.7 1327.5h9.1v6.5h-9.1zM96.6 1334h9.1v6.5h-9.1zM142.1 1334h9.1v6.5h-9.1zM278.8 1334h9.1v6.5h-9.1zM287.9 1334h9.1v6.5h-9.1zM315.2 1334h9.1v6.5h-9.1zM570.3 1334h9.1v6.5h-9.1zM597.6 1334h9.1v6.5h-9.1zM606.7 1334h9.1v6.5h-9.1zM278.8 1340.5h9.1v6.5h-9.1zM287.9 1340.5h9.1v6.5h-9.1zM433.7 1340.5h9.1v6.5h-9.1zM597.6 1340.5h9.1v6.5h-9.1zM606.7 1340.5h9.1v6.5h-9.1zM233.2 1347h9.1v6.5h-9.1zM287.9 1347h9.1v6.5h-9.1zM333.5 1347h9.1v6.5h-9.1zM433.7 1347h9.1v6.5h-9.1zM606.7 1347h9.1v6.5h-9.1zM615.9 1347h9.1v6.5h-9.1zM187.7 1353.5h9.1v6.5h-9.1zM287.9 1353.5h9.1v6.5h-9.1zM333.5 1353.5h9.1v6.5h-9.1zM433.7 1353.5h9.1v6.5h-9.1zM442.8 1353.5h9.1v6.5h-9.1zM579.4 1353.5h9.1v6.5h-9.1zM588.5 1353.5h9.1v6.5h-9.1zM606.7 1353.5h9.1v6.5h-9.1zM615.9 1353.5h9.1v6.5h-9.1zM625 1353.5h9.1v6.5h-9.1zM652.3 1353.5h9.1v6.5h-9.1zM187.7 1360h9.1v6.5h-9.1zM205.9 1360h9.1v6.5h-9.1zM287.9 1360h9.1v6.5h-9.1zM333.5 1360h9.1v6.5h-9.1zM406.3 1360h9.1v6.5h-9.1zM433.7 1360h9.1v6.5h-9.1zM442.8 1360h9.1v6.5h-9.1zM533.9 1360h9.1v6.5h-9.1zM588.5 1360h9.1v6.5h-9.1zM606.7 1360h9.1v6.5h-9.1zM625 1360h9.1v6.5h-9.1zM634.1 1360h9.1v6.5h-9.1zM652.3 1360h9.1v6.5h-9.1zM114.8 1366.5h9.1v6.5h-9.1zM187.7 1366.5h9.1v6.5h-9.1zM287.9 1366.5h9.1v6.5h-9.1zM297 1366.5h9.1v6.5h-9.1zM333.5 1366.5h9.1v6.5h-9.1zM342.6 1366.5h9.1v6.5h-9.1zM442.8 1366.5h9.1v6.5h-9.1zM533.9 1366.5h9.1v6.5h-9.1zM606.7 1366.5h9.1v6.5h-9.1zM625 1366.5h9.1v6.5h-9.1zM634.1 1366.5h9.1v6.5h-9.1zM643.2 1366.5h9.1v6.5h-9.1zM652.3 1366.5h9.1v6.5h-9.1zM105.7 1373h9.1v6.5h-9.1zM187.7 1373h9.1v6.5h-9.1zM287.9 1373h9.1v6.5h-9.1zM297 1373h9.1v6.5h-9.1zM333.5 1373h9.1v6.5h-9.1zM342.6 1373h9.1v6.5h-9.1zM406.3 1373h9.1v6.5h-9.1zM415.4 1373h9.1v6.5h-9.1zM442.8 1373h9.1v6.5h-9.1zM451.9 1373h9.1v6.5h-9.1zM506.5 1373h9.1v6.5h-9.1zM533.9 1373h9.1v6.5h-9.1zM606.7 1373h9.1v6.5h-9.1zM625 1373h9.1v6.5h-9.1zM634.1 1373h9.1v6.5h-9.1zM643.2 1373h9.1v6.5h-9.1zM652.3 1373h9.1v6.5h-9.1zM105.7 1379.5h9.1v6.5h-9.1zM187.7 1379.5h9.1v6.5h-9.1zM224.1 1379.5h9.1v6.5h-9.1zM287.9 1379.5h9.1v6.5h-9.1zM297 1379.5h9.1v6.5h-9.1zM306.1 1379.5h9.1v6.5h-9.1zM333.5 1379.5h9.1v6.5h-9.1zM406.3 1379.5h9.1v6.5h-9.1zM415.4 1379.5h9.1v6.5h-9.1zM442.8 1379.5h9.1v6.5h-9.1zM506.5 1379.5h9.1v6.5h-9.1zM533.9 1379.5h9.1v6.5h-9.1zM606.7 1379.5h9.1v6.5h-9.1zM634.1 1379.5h9.1v6.5h-9.1zM643.2 1379.5h9.1v6.5h-9.1zM652.3 1379.5h9.1v6.5h-9.1zM297 1386h9.1v6.5h-9.1zM333.5 1386h9.1v6.5h-9.1zM379 1386h9.1v6.5h-9.1zM406.3 1386h9.1v6.5h-9.1zM415.4 1386h9.1v6.5h-9.1zM506.5 1386h9.1v6.5h-9.1zM533.9 1386h9.1v6.5h-9.1zM579.4 1386h9.1v6.5h-9.1zM597.6 1386h9.1v6.5h-9.1zM606.7 1386h9.1v6.5h-9.1zM643.2 1386h9.1v6.5h-9.1zM652.3 1386h9.1v6.5h-9.1zM297 1392.5h9.1v6.5h-9.1zM333.5 1392.5h9.1v6.5h-9.1zM379 1392.5h9.1v6.5h-9.1zM406.3 1392.5h9.1v6.5h-9.1zM424.5 1392.5h9.1v6.5h-9.1zM479.2 1392.5h9.1v6.5h-9.1zM506.5 1392.5h9.1v6.5h-9.1zM533.9 1392.5h9.1v6.5h-9.1zM597.6 1392.5h9.1v6.5h-9.1zM606.7 1392.5h9.1v6.5h-9.1zM625 1392.5h9.1v6.5h-9.1zM643.2 1392.5h9.1v6.5h-9.1zM652.3 1392.5h9.1v6.5h-9.1zM297 1399h9.1v6.5h-9.1zM379 1399h9.1v6.5h-9.1zM406.3 1399h9.1v6.5h-9.1zM424.5 1399h9.1v6.5h-9.1zM479.2 1399h9.1v6.5h-9.1zM579.4 1399h9.1v6.5h-9.1zM625 1399h9.1v6.5h-9.1zM652.3 1399h9.1v6.5h-9.1zM123.9 1405.5h9.1v6.5h-9.1zM297 1405.5h9.1v6.5h-9.1zM406.3 1405.5h9.1v6.5h-9.1zM424.5 1405.5h9.1v6.5h-9.1zM451.9 1405.5h9.1v6.5h-9.1zM461 1405.5h9.1v6.5h-9.1zM479.2 1405.5h9.1v6.5h-9.1zM488.3 1405.5h9.1v6.5h-9.1zM123.9 1412h9.1v6.5h-9.1zM269.7 1412h9.1v6.5h-9.1zM297 1412h9.1v6.5h-9.1zM406.3 1412h9.1v6.5h-9.1zM424.5 1412h9.1v6.5h-9.1zM461 1412h9.1v6.5h-9.1zM479.2 1412h9.1v6.5h-9.1zM552.1 1412h9.1v6.5h-9.1zM625 1412h9.1v6.5h-9.1zM123.9 1418.5h9.1v6.5h-9.1zM297 1418.5h9.1v6.5h-9.1zM388.1 1418.5h9.1v6.5h-9.1zM552.1 1418.5h9.1v6.5h-9.1zM625 1418.5h9.1v6.5h-9.1zM634.1 1418.5h9.1v6.5h-9.1zM96.6 1425h9.1v6.5h-9.1zM123.9 1425h9.1v6.5h-9.1zM297 1425h9.1v6.5h-9.1zM306.1 1425h9.1v6.5h-9.1zM360.8 1425h9.1v6.5h-9.1zM552.1 1425h9.1v6.5h-9.1zM561.2 1425h9.1v6.5h-9.1zM588.5 1425h9.1v6.5h-9.1zM625 1425h9.1v6.5h-9.1zM634.1 1425h9.1v6.5h-9.1zM96.6 1431.5h9.1v6.5h-9.1zM105.7 1431.5h9.1v6.5h-9.1zM306.1 1431.5h9.1v6.5h-9.1zM552.1 1431.5h9.1v6.5h-9.1zM588.5 1431.5h9.1v6.5h-9.1zM597.6 1431.5h9.1v6.5h-9.1zM606.7 1431.5h9.1v6.5h-9.1zM625 1431.5h9.1v6.5h-9.1zM634.1 1431.5h9.1v6.5h-9.1zM96.6 1438h9.1v6.5h-9.1zM105.7 1438h9.1v6.5h-9.1zM114.8 1438h9.1v6.5h-9.1zM306.1 1438h9.1v6.5h-9.1zM315.2 1438h9.1v6.5h-9.1zM324.3 1438h9.1v6.5h-9.1zM397.2 1438h9.1v6.5h-9.1zM588.5 1438h9.1v6.5h-9.1zM597.6 1438h9.1v6.5h-9.1zM606.7 1438h9.1v6.5h-9.1zM625 1438h9.1v6.5h-9.1zM634.1 1438h9.1v6.5h-9.1zM96.6 1444.5h9.1v6.5h-9.1zM105.7 1444.5h9.1v6.5h-9.1zM242.4 1444.5h9.1v6.5h-9.1zM306.1 1444.5h9.1v6.5h-9.1zM315.2 1444.5h9.1v6.5h-9.1zM324.3 1444.5h9.1v6.5h-9.1zM570.3 1444.5h9.1v6.5h-9.1zM606.7 1444.5h9.1v6.5h-9.1zM625 1444.5h9.1v6.5h-9.1zM634.1 1444.5h9.1v6.5h-9.1zM96.6 1451h9.1v6.5h-9.1zM105.7 1451h9.1v6.5h-9.1zM196.8 1451h9.1v6.5h-9.1zM242.4 1451h9.1v6.5h-9.1zM306.1 1451h9.1v6.5h-9.1zM315.2 1451h9.1v6.5h-9.1zM324.3 1451h9.1v6.5h-9.1zM442.8 1451h9.1v6.5h-9.1zM570.3 1451h9.1v6.5h-9.1zM588.5 1451h9.1v6.5h-9.1zM606.7 1451h9.1v6.5h-9.1zM625 1451h9.1v6.5h-9.1zM634.1 1451h9.1v6.5h-9.1zM96.6 1457.5h9.1v6.5h-9.1zM105.7 1457.5h9.1v6.5h-9.1zM151.3 1457.5h9.1v6.5h-9.1zM196.8 1457.5h9.1v6.5h-9.1zM205.9 1457.5h9.1v6.5h-9.1zM242.4 1457.5h9.1v6.5h-9.1zM315.2 1457.5h9.1v6.5h-9.1zM388.1 1457.5h9.1v6.5h-9.1zM570.3 1457.5h9.1v6.5h-9.1zM579.4 1457.5h9.1v6.5h-9.1zM606.7 1457.5h9.1v6.5h-9.1zM625 1457.5h9.1v6.5h-9.1zM634.1 1457.5h9.1v6.5h-9.1zM643.2 1457.5h9.1v6.5h-9.1zM96.6 1464h9.1v6.5h-9.1zM105.7 1464h9.1v6.5h-9.1zM114.8 1464h9.1v6.5h-9.1zM133 1464h9.1v6.5h-9.1zM142.1 1464h9.1v6.5h-9.1zM151.3 1464h9.1v6.5h-9.1zM205.9 1464h9.1v6.5h-9.1zM388.1 1464h9.1v6.5h-9.1zM552.1 1464h9.1v6.5h-9.1zM570.3 1464h9.1v6.5h-9.1zM606.7 1464h9.1v6.5h-9.1zM625 1464h9.1v6.5h-9.1zM634.1 1464h9.1v6.5h-9.1zM643.2 1464h9.1v6.5h-9.1zM96.6 1470.5h9.1v6.5h-9.1zM133 1470.5h9.1v6.5h-9.1zM151.3 1470.5h9.1v6.5h-9.1zM160.4 1470.5h9.1v6.5h-9.1zM205.9 1470.5h9.1v6.5h-9.1zM215 1470.5h9.1v6.5h-9.1zM388.1 1470.5h9.1v6.5h-9.1zM470.1 1470.5h9.1v6.5h-9.1zM552.1 1470.5h9.1v6.5h-9.1zM570.3 1470.5h9.1v6.5h-9.1zM606.7 1470.5h9.1v6.5h-9.1zM615.9 1470.5h9.1v6.5h-9.1zM625 1470.5h9.1v6.5h-9.1zM634.1 1470.5h9.1v6.5h-9.1zM643.2 1470.5h9.1v6.5h-9.1zM96.6 1477h9.1v6.5h-9.1zM133 1477h9.1v6.5h-9.1zM151.3 1477h9.1v6.5h-9.1zM160.4 1477h9.1v6.5h-9.1zM215 1477h9.1v6.5h-9.1zM415.4 1477h9.1v6.5h-9.1zM442.8 1477h9.1v6.5h-9.1zM515.6 1477h9.1v6.5h-9.1zM552.1 1477h9.1v6.5h-9.1zM561.2 1477h9.1v6.5h-9.1zM570.3 1477h9.1v6.5h-9.1zM606.7 1477h9.1v6.5h-9.1zM615.9 1477h9.1v6.5h-9.1zM643.2 1477h9.1v6.5h-9.1zM96.6 1483.5h9.1v6.5h-9.1zM133 1483.5h9.1v6.5h-9.1zM151.3 1483.5h9.1v6.5h-9.1zM160.4 1483.5h9.1v6.5h-9.1zM169.5 1483.5h9.1v6.5h-9.1zM215 1483.5h9.1v6.5h-9.1zM415.4 1483.5h9.1v6.5h-9.1zM424.5 1483.5h9.1v6.5h-9.1zM442.8 1483.5h9.1v6.5h-9.1zM451.9 1483.5h9.1v6.5h-9.1zM515.6 1483.5h9.1v6.5h-9.1zM552.1 1483.5h9.1v6.5h-9.1zM561.2 1483.5h9.1v6.5h-9.1zM570.3 1483.5h9.1v6.5h-9.1zM579.4 1483.5h9.1v6.5h-9.1zM606.7 1483.5h9.1v6.5h-9.1zM615.9 1483.5h9.1v6.5h-9.1zM96.6 1490h9.1v6.5h-9.1zM133 1490h9.1v6.5h-9.1zM142.1 1490h9.1v6.5h-9.1zM160.4 1490h9.1v6.5h-9.1zM169.5 1490h9.1v6.5h-9.1zM215 1490h9.1v6.5h-9.1zM224.1 1490h9.1v6.5h-9.1zM278.8 1490h9.1v6.5h-9.1zM287.9 1490h9.1v6.5h-9.1zM96.6 1496.5h9.1v6.5h-9.1zM142.1 1496.5h9.1v6.5h-9.1zM160.4 1496.5h9.1v6.5h-9.1zM169.5 1496.5h9.1v6.5h-9.1zM215 1496.5h9.1v6.5h-9.1zM224.1 1496.5h9.1v6.5h-9.1zM278.8 1496.5h9.1v6.5h-9.1zM388.1 1496.5h9.1v6.5h-9.1zM96.6 1503h9.1v6.5h-9.1zM169.5 1503h9.1v6.5h-9.1zM178.6 1503h9.1v6.5h-9.1zM278.8 1503h9.1v6.5h-9.1zM388.1 1503h9.1v6.5h-9.1zM406.3 1503h9.1v6.5h-9.1zM96.6 1509.5h9.1v6.5h-9.1zM169.5 1509.5h9.1v6.5h-9.1zM178.6 1509.5h9.1v6.5h-9.1zM278.8 1509.5h9.1v6.5h-9.1zM388.1 1509.5h9.1v6.5h-9.1zM406.3 1509.5h9.1v6.5h-9.1zM96.6 1516h9.1v6.5h-9.1zM160.4 1516h9.1v6.5h-9.1zM169.5 1516h9.1v6.5h-9.1zM196.8 1516h9.1v6.5h-9.1zM205.9 1516h9.1v6.5h-9.1zM215 1516h9.1v6.5h-9.1zM278.8 1516h9.1v6.5h-9.1zM388.1 1516h9.1v6.5h-9.1zM406.3 1516h9.1v6.5h-9.1zM96.6 1522.5h9.1v6.5h-9.1zM133 1522.5h9.1v6.5h-9.1zM160.4 1522.5h9.1v6.5h-9.1zM169.5 1522.5h9.1v6.5h-9.1zM187.7 1522.5h9.1v6.5h-9.1zM196.8 1522.5h9.1v6.5h-9.1zM205.9 1522.5h9.1v6.5h-9.1zM215 1522.5h9.1v6.5h-9.1zM278.8 1522.5h9.1v6.5h-9.1zM388.1 1522.5h9.1v6.5h-9.1zM397.2 1522.5h9.1v6.5h-9.1zM406.3 1522.5h9.1v6.5h-9.1zM561.2 1522.5h9.1v6.5h-9.1zM570.3 1522.5h9.1v6.5h-9.1zM606.7 1522.5h9.1v6.5h-9.1zM615.9 1522.5h9.1v6.5h-9.1zM96.6 1529h9.1v6.5h-9.1zM133 1529h9.1v6.5h-9.1zM160.4 1529h9.1v6.5h-9.1zM169.5 1529h9.1v6.5h-9.1zM187.7 1529h9.1v6.5h-9.1zM196.8 1529h9.1v6.5h-9.1zM205.9 1529h9.1v6.5h-9.1zM215 1529h9.1v6.5h-9.1zM233.2 1529h9.1v6.5h-9.1zM242.4 1529h9.1v6.5h-9.1zM278.8 1529h9.1v6.5h-9.1zM388.1 1529h9.1v6.5h-9.1zM433.7 1529h9.1v6.5h-9.1zM533.9 1529h9.1v6.5h-9.1zM543 1529h9.1v6.5h-9.1zM561.2 1529h9.1v6.5h-9.1zM588.5 1529h9.1v6.5h-9.1zM606.7 1529h9.1v6.5h-9.1zM133 1535.5h9.1v6.5h-9.1zM187.7 1535.5h9.1v6.5h-9.1zM196.8 1535.5h9.1v6.5h-9.1zM205.9 1535.5h9.1v6.5h-9.1zM233.2 1535.5h9.1v6.5h-9.1zM242.4 1535.5h9.1v6.5h-9.1zM251.5 1535.5h9.1v6.5h-9.1zM278.8 1535.5h9.1v6.5h-9.1zM424.5 1535.5h9.1v6.5h-9.1zM433.7 1535.5h9.1v6.5h-9.1zM533.9 1535.5h9.1v6.5h-9.1zM543 1535.5h9.1v6.5h-9.1zM561.2 1535.5h9.1v6.5h-9.1zM606.7 1535.5h9.1v6.5h-9.1zM133 1542h9.1v6.5h-9.1zM187.7 1542h9.1v6.5h-9.1zM196.8 1542h9.1v6.5h-9.1zM251.5 1542h9.1v6.5h-9.1zM278.8 1542h9.1v6.5h-9.1zM333.5 1542h9.1v6.5h-9.1zM369.9 1542h9.1v6.5h-9.1zM424.5 1542h9.1v6.5h-9.1zM433.7 1542h9.1v6.5h-9.1zM442.8 1542h9.1v6.5h-9.1zM488.3 1542h9.1v6.5h-9.1zM543 1542h9.1v6.5h-9.1zM561.2 1542h9.1v6.5h-9.1zM606.7 1542h9.1v6.5h-9.1zM625 1542h9.1v6.5h-9.1zM634.1 1542h9.1v6.5h-9.1zM133 1548.5h9.1v6.5h-9.1zM142.1 1548.5h9.1v6.5h-9.1zM187.7 1548.5h9.1v6.5h-9.1zM196.8 1548.5h9.1v6.5h-9.1zM205.9 1548.5h9.1v6.5h-9.1zM251.5 1548.5h9.1v6.5h-9.1zM278.8 1548.5h9.1v6.5h-9.1zM333.5 1548.5h9.1v6.5h-9.1zM433.7 1548.5h9.1v6.5h-9.1zM442.8 1548.5h9.1v6.5h-9.1zM543 1548.5h9.1v6.5h-9.1zM606.7 1548.5h9.1v6.5h-9.1zM625 1548.5h9.1v6.5h-9.1zM634.1 1548.5h9.1v6.5h-9.1zM133 1555h9.1v6.5h-9.1zM142.1 1555h9.1v6.5h-9.1zM187.7 1555h9.1v6.5h-9.1zM196.8 1555h9.1v6.5h-9.1zM205.9 1555h9.1v6.5h-9.1zM251.5 1555h9.1v6.5h-9.1zM324.3 1555h9.1v6.5h-9.1zM333.5 1555h9.1v6.5h-9.1zM442.8 1555h9.1v6.5h-9.1zM543 1555h9.1v6.5h-9.1zM606.7 1555h9.1v6.5h-9.1zM625 1555h9.1v6.5h-9.1zM634.1 1555h9.1v6.5h-9.1zM133 1561.5h9.1v6.5h-9.1zM142.1 1561.5h9.1v6.5h-9.1zM151.3 1561.5h9.1v6.5h-9.1zM160.4 1561.5h9.1v6.5h-9.1zM196.8 1561.5h9.1v6.5h-9.1zM205.9 1561.5h9.1v6.5h-9.1zM324.3 1561.5h9.1v6.5h-9.1zM333.5 1561.5h9.1v6.5h-9.1zM415.4 1561.5h9.1v6.5h-9.1zM543 1561.5h9.1v6.5h-9.1zM552.1 1561.5h9.1v6.5h-9.1zM579.4 1561.5h9.1v6.5h-9.1zM606.7 1561.5h9.1v6.5h-9.1zM133 1568h9.1v6.5h-9.1zM142.1 1568h9.1v6.5h-9.1zM151.3 1568h9.1v6.5h-9.1zM160.4 1568h9.1v6.5h-9.1zM169.5 1568h9.1v6.5h-9.1zM178.6 1568h9.1v6.5h-9.1zM196.8 1568h9.1v6.5h-9.1zM205.9 1568h9.1v6.5h-9.1zM324.3 1568h9.1v6.5h-9.1zM351.7 1568h9.1v6.5h-9.1zM479.2 1568h9.1v6.5h-9.1zM552.1 1568h9.1v6.5h-9.1zM579.4 1568h9.1v6.5h-9.1zM606.7 1568h9.1v6.5h-9.1zM615.9 1568h9.1v6.5h-9.1zM169.5 1574.5h9.1v6.5h-9.1zM178.6 1574.5h9.1v6.5h-9.1zM196.8 1574.5h9.1v6.5h-9.1zM205.9 1574.5h9.1v6.5h-9.1zM324.3 1574.5h9.1v6.5h-9.1zM451.9 1574.5h9.1v6.5h-9.1zM479.2 1574.5h9.1v6.5h-9.1zM579.4 1574.5h9.1v6.5h-9.1zM597.6 1574.5h9.1v6.5h-9.1zM615.9 1574.5h9.1v6.5h-9.1zM169.5 1581h9.1v6.5h-9.1zM178.6 1581h9.1v6.5h-9.1zM196.8 1581h9.1v6.5h-9.1zM205.9 1581h9.1v6.5h-9.1zM360.8 1581h9.1v6.5h-9.1zM479.2 1581h9.1v6.5h-9.1zM579.4 1581h9.1v6.5h-9.1zM588.5 1581h9.1v6.5h-9.1zM597.6 1581h9.1v6.5h-9.1zM615.9 1581h9.1v6.5h-9.1zM196.8 1587.5h9.1v6.5h-9.1zM205.9 1587.5h9.1v6.5h-9.1zM342.6 1587.5h9.1v6.5h-9.1zM351.7 1587.5h9.1v6.5h-9.1zM479.2 1587.5h9.1v6.5h-9.1zM579.4 1587.5h9.1v6.5h-9.1zM588.5 1587.5h9.1v6.5h-9.1zM597.6 1587.5h9.1v6.5h-9.1zM615.9 1587.5h9.1v6.5h-9.1z" fill="#ffffcc"/>
<path d="M260.6 1191h9.1v6.5h-9.1zM269.7 1191h9.1v6.5h-9.1zM278.8 1191h9.1v6.5h-9.1zM287.9 1191h9.1v6.5h-9.1zM297 1191h9.1v6.5h-9.1zM360.8 1191h9.1v6.5h-9.1zM369.9 1191h9.1v6.5h-9.1zM406.3 1191h9.1v6.5h-9.1zM415.4 1191h9.1v6.5h-9.1zM424.5 1191h9.1v6.5h-9.1zM524.8 1191h9.1v6.5h-9.1zM533.9 1191h9.1v6.5h-9.1zM278.8 1197.5h9.1v6.5h-9.1zM287.9 1197.5h9.1v6.5h-9.1zM297 1197.5h9.1v6.5h-9.1zM360.8 1197.5h9.1v6.5h-9.1zM369.9 1197.5h9.1v6.5h-9.1zM406.3 1197.5h9.1v6.5h-9.1zM524.8 1197.5h9.1v6.5h-9.1zM278.8 1204h9.1v6.5h-9.1zM287.9 1204h9.1v6.5h-9.1zM297 1204h9.1v6.5h-9.1zM324.3 1204h9.1v6.5h-9.1zM570.3 1204h9.1v6.5h-9.1zM260.6 1210.5h9.1v6.5h-9.1zM278.8 1210.5h9.1v6.5h-9.1zM297 1210.5h9.1v6.5h-9.1zM324.3 1210.5h9.1v6.5h-9.1zM360.8 1210.5h9.1v6.5h-9.1zM369.9 1210.5h9.1v6.5h-9.1zM379 1210.5h9.1v6.5h-9.1zM442.8 1210.5h9.1v6.5h-9.1zM570.3 1210.5h9.1v6.5h-9.1zM652.3 1210.5h9.1v6.5h-9.1zM242.4 1243h9.1v6.5h-9.1zM278.8 1243h9.1v6.5h-9.1zM342.6 1243h9.1v6.5h-9.1zM515.6 1243h9.1v6.5h-9.1zM652.3 1243h9.1v6.5h-9.1zM242.4 1249.5h9.1v6.5h-9.1zM342.6 1249.5h9.1v6.5h-9.1zM433.7 1249.5h9.1v6.5h-9.1zM497.4 1249.5h9.1v6.5h-9.1zM515.6 1249.5h9.1v6.5h-9.1zM533.9 1249.5h9.1v6.5h-9.1zM615.9 1249.5h9.1v6.5h-9.1zM342.6 1256h9.1v6.5h-9.1zM351.7 1256h9.1v6.5h-9.1zM360.8 1256h9.1v6.5h-9.1zM369.9 1256h9.1v6.5h-9.1zM433.7 1256h9.1v6.5h-9.1zM497.4 1256h9.1v6.5h-9.1zM515.6 1256h9.1v6.5h-9.1zM533.9 1256h9.1v6.5h-9.1zM561.2 1256h9.1v6.5h-9.1zM570.3 1256h9.1v6.5h-9.1zM351.7 1262.5h9.1v6.5h-9.1zM369.9 1262.5h9.1v6.5h-9.1zM433.7 1262.5h9.1v6.5h-9.1zM497.4 1262.5h9.1v6.5h-9.1zM533.9 1262.5h9.1v6.5h-9.1zM570.3 1262.5h9.1v6.5h-9.1zM215 1269h9.1v6.5h-9.1zM224.1 1269h9.1v6.5h-9.1zM351.7 1269h9.1v6.5h-9.1zM369.9 1269h9.1v6.5h-9.1zM497.4 1269h9.1v6.5h-9.1zM533.9 1269h9.1v6.5h-9.1zM570.3 1269h9.1v6.5h-9.1zM224.1 1275.5h9.1v6.5h-9.1zM351.7 1275.5h9.1v6.5h-9.1zM369.9 1275.5h9.1v6.5h-9.1zM215 1282h9.1v6.5h-9.1zM351.7 1282h9.1v6.5h-9.1zM369.9 1282h9.1v6.5h-9.1zM433.7 1282h9.1v6.5h-9.1zM215 1288.5h9.1v6.5h-9.1zM351.7 1288.5h9.1v6.5h-9.1zM369.9 1288.5h9.1v6.5h-9.1zM433.7 1288.5h9.1v6.5h-9.1zM461 1288.5h9.1v6.5h-9.1zM470.1 1288.5h9.1v6.5h-9.1zM570.3 1288.5h9.1v6.5h-9.1zM579.4 1288.5h9.1v6.5h-9.1zM606.7 1288.5h9.1v6.5h-9.1zM615.9 1288.5h9.1v6.5h-9.1zM634.1 1288.5h9.1v6.5h-9.1zM643.2 1288.5h9.1v6.5h-9.1zM342.6 1295h9.1v6.5h-9.1zM351.7 1295h9.1v6.5h-9.1zM369.9 1295h9.1v6.5h-9.1zM433.7 1295h9.1v6.5h-9.1zM442.8 1295h9.1v6.5h-9.1zM451.9 1295h9.1v6.5h-9.1zM461 1295h9.1v6.5h-9.1zM470.1 1295h9.1v6.5h-9.1zM479.2 1295h9.1v6.5h-9.1zM488.3 1295h9.1v6.5h-9.1zM579.4 1295h9.1v6.5h-9.1zM606.7 1295h9.1v6.5h-9.1zM615.9 1295h9.1v6.5h-9.1zM634.1 1295h9.1v6.5h-9.1zM643.2 1295h9.1v6.5h-9.1zM652.3 1295h9.1v6.5h-9.1zM342.6 1301.5h9.1v6.5h-9.1zM351.7 1301.5h9.1v6.5h-9.1zM369.9 1301.5h9.1v6.5h-9.1zM433.7 1301.5h9.1v6.5h-9.1zM442.8 1301.5h9.1v6.5h-9.1zM451.9 1301.5h9.1v6.5h-9.1zM461 1301.5h9.1v6.5h-9.1zM470.1 1301.5h9.1v6.5h-9.1zM479.2 1301.5h9.1v6.5h-9.1zM488.3 1301.5h9.1v6.5h-9.1zM543 1301.5h9.1v6.5h-9.1zM561.2 1301.5h9.1v6.5h-9.1zM579.4 1301.5h9.1v6.5h-9.1zM606.7 1301.5h9.1v6.5h-9.1zM615.9 1301.5h9.1v6.5h-9.1zM634.1 1301.5h9.1v6.5h-9.1zM652.3 1301.5h9.1v6.5h-9.1zM342.6 1308h9.1v6.5h-9.1zM433.7 1308h9.1v6.5h-9.1zM442.8 1308h9.1v6.5h-9.1zM451.9 1308h9.1v6.5h-9.1zM461 1308h9.1v6.5h-9.1zM470.1 1308h9.1v6.5h-9.1zM479.2 1308h9.1v6.5h-9.1zM488.3 1308h9.1v6.5h-9.1zM543 1308h9.1v6.5h-9.1zM561.2 1308h9.1v6.5h-9.1zM570.3 1308h9.1v6.5h-9.1zM606.7 1308h9.1v6.5h-9.1zM652.3 1308h9.1v6.5h-9.1zM251.5 1314.5h9.1v6.5h-9.1zM342.6 1314.5h9.1v6.5h-9.1zM442.8 1314.5h9.1v6.5h-9.1zM451.9 1314.5h9.1v6.5h-9.1zM461 1314.5h9.1v6.5h-9.1zM470.1 1314.5h9.1v6.5h-9.1zM479.2 1314.5h9.1v6.5h-9.1zM488.3 1314.5h9.1v6.5h-9.1zM497.4 1314.5h9.1v6.5h-9.1zM524.8 1314.5h9.1v6.5h-9.1zM543 1314.5h9.1v6.5h-9.1zM561.2 1314.5h9.1v6.5h-9.1zM570.3 1314.5h9.1v6.5h-9.1zM606.7 1314.5h9.1v6.5h-9.1zM625 1314.5h9.1v6.5h-9.1zM652.3 1314.5h9.1v6.5h-9.1zM287.9 1321h9.1v6.5h-9.1zM442.8 1321h9.1v6.5h-9.1zM451.9 1321h9.1v6.5h-9.1zM461 1321h9.1v6.5h-9.1zM470.1 1321h9.1v6.5h-9.1zM479.2 1321h9.1v6.5h-9.1zM488.3 1321h9.1v6.5h-9.1zM497.4 1321h9.1v6.5h-9.1zM543 1321h9.1v6.5h-9.1zM652.3 1321h9.1v6.5h-9.1zM406.3 1327.5h9.1v6.5h-9.1zM415.4 1327.5h9.1v6.5h-9.1zM451.9 1327.5h9.1v6.5h-9.1zM470.1 1327.5h9.1v6.5h-9.1zM479.2 1327.5h9.1v6.5h-9.1zM488.3 1327.5h9.1v6.5h-9.1zM497.4 1327.5h9.1v6.5h-9.1zM506.5 1327.5h9.1v6.5h-9.1zM579.4 1327.5h9.1v6.5h-9.1zM652.3 1327.5h9.1v6.5h-9.1zM224.1 1334h9.1v6.5h-9.1zM415.4 1334h9.1v6.5h-9.1zM424.5 1334h9.1v6.5h-9.1zM451.9 1334h9.1v6.5h-9.1zM461 1334h9.1v6.5h-9.1zM479.2 1334h9.1v6.5h-9.1zM488.3 1334h9.1v6.5h-9.1zM497.4 1334h9.1v6.5h-9.1zM506.5 1334h9.1v6.5h-9.1zM515.6 1334h9.1v6.5h-9.1zM579.4 1334h9.1v6.5h-9.1zM588.5 1334h9.1v6.5h-9.1zM652.3 1334h9.1v6.5h-9.1zM388.1 1340.5h9.1v6.5h-9.1zM415.4 1340.5h9.1v6.5h-9.1zM424.5 1340.5h9.1v6.5h-9.1zM451.9 1340.5h9.1v6.5h-9.1zM461 1340.5h9.1v6.5h-9.1zM488.3 1340.5h9.1v6.5h-9.1zM561.2 1340.5h9.1v6.5h-9.1zM570.3 1340.5h9.1v6.5h-9.1zM579.4 1340.5h9.1v6.5h-9.1zM588.5 1340.5h9.1v6.5h-9.1zM652.3 1340.5h9.1v6.5h-9.1zM388.1 1347h9.1v6.5h-9.1zM415.4 1347h9.1v6.5h-9.1zM424.5 1347h9.1v6.5h-9.1zM461 1347h9.1v6.5h-9.1zM479.2 1347h9.1v6.5h-9.1zM488.3 1347h9.1v6.5h-9.1zM497.4 1347h9.1v6.5h-9.1zM506.5 1347h9.1v6.5h-9.1zM561.2 1347h9.1v6.5h-9.1zM570.3 1347h9.1v6.5h-9.1zM588.5 1347h9.1v6.5h-9.1zM215 1353.5h9.1v6.5h-9.1zM224.1 1353.5h9.1v6.5h-9.1zM233.2 1353.5h9.1v6.5h-9.1zM388.1 1353.5h9.1v6.5h-9.1zM415.4 1353.5h9.1v6.5h-9.1zM424.5 1353.5h9.1v6.5h-9.1zM479.2 1353.5h9.1v6.5h-9.1zM488.3 1353.5h9.1v6.5h-9.1zM506.5 1353.5h9.1v6.5h-9.1zM515.6 1353.5h9.1v6.5h-9.1zM561.2 1353.5h9.1v6.5h-9.1zM570.3 1353.5h9.1v6.5h-9.1zM215 1360h9.1v6.5h-9.1zM224.1 1360h9.1v6.5h-9.1zM233.2 1360h9.1v6.5h-9.1zM242.4 1360h9.1v6.5h-9.1zM388.1 1360h9.1v6.5h-9.1zM415.4 1360h9.1v6.5h-9.1zM424.5 1360h9.1v6.5h-9.1zM488.3 1360h9.1v6.5h-9.1zM506.5 1360h9.1v6.5h-9.1zM543 1360h9.1v6.5h-9.1zM561.2 1360h9.1v6.5h-9.1zM597.6 1360h9.1v6.5h-9.1zM215 1366.5h9.1v6.5h-9.1zM224.1 1366.5h9.1v6.5h-9.1zM233.2 1366.5h9.1v6.5h-9.1zM242.4 1366.5h9.1v6.5h-9.1zM388.1 1366.5h9.1v6.5h-9.1zM424.5 1366.5h9.1v6.5h-9.1zM433.7 1366.5h9.1v6.5h-9.1zM497.4 1366.5h9.1v6.5h-9.1zM543 1366.5h9.1v6.5h-9.1zM597.6 1366.5h9.1v6.5h-9.1zM215 1373h9.1v6.5h-9.1zM224.1 1373h9.1v6.5h-9.1zM233.2 1373h9.1v6.5h-9.1zM242.4 1373h9.1v6.5h-9.1zM369.9 1373h9.1v6.5h-9.1zM424.5 1373h9.1v6.5h-9.1zM433.7 1373h9.1v6.5h-9.1zM497.4 1373h9.1v6.5h-9.1zM543 1373h9.1v6.5h-9.1zM597.6 1373h9.1v6.5h-9.1zM215 1379.5h9.1v6.5h-9.1zM233.2 1379.5h9.1v6.5h-9.1zM342.6 1379.5h9.1v6.5h-9.1zM369.9 1379.5h9.1v6.5h-9.1zM424.5 1379.5h9.1v6.5h-9.1zM433.7 1379.5h9.1v6.5h-9.1zM497.4 1379.5h9.1v6.5h-9.1zM543 1379.5h9.1v6.5h-9.1zM597.6 1379.5h9.1v6.5h-9.1zM215 1386h9.1v6.5h-9.1zM342.6 1386h9.1v6.5h-9.1zM424.5 1386h9.1v6.5h-9.1zM433.7 1386h9.1v6.5h-9.1zM497.4 1386h9.1v6.5h-9.1zM543 1386h9.1v6.5h-9.1zM634.1 1386h9.1v6.5h-9.1zM215 1392.5h9.1v6.5h-9.1zM433.7 1392.5h9.1v6.5h-9.1zM497.4 1392.5h9.1v6.5h-9.1zM543 1392.5h9.1v6.5h-9.1zM634.1 1392.5h9.1v6.5h-9.1zM215 1399h9.1v6.5h-9.1zM242.4 1399h9.1v6.5h-9.1zM433.7 1399h9.1v6.5h-9.1zM543 1399h9.1v6.5h-9.1zM643.2 1399h9.1v6.5h-9.1zM215 1405.5h9.1v6.5h-9.1zM342.6 1405.5h9.1v6.5h-9.1zM379 1405.5h9.1v6.5h-9.1zM415.4 1405.5h9.1v6.5h-9.1zM433.7 1405.5h9.1v6.5h-9.1zM543 1405.5h9.1v6.5h-9.1zM643.2 1405.5h9.1v6.5h-9.1zM652.3 1405.5h9.1v6.5h-9.1zM215 1412h9.1v6.5h-9.1zM287.9 1412h9.1v6.5h-9.1zM342.6 1412h9.1v6.5h-9.1zM379 1412h9.1v6.5h-9.1zM433.7 1412h9.1v6.5h-9.1zM442.8 1412h9.1v6.5h-9.1zM543 1412h9.1v6.5h-9.1zM215 1418.5h9.1v6.5h-9.1zM287.9 1418.5h9.1v6.5h-9.1zM342.6 1418.5h9.1v6.5h-9.1zM379 1418.5h9.1v6.5h-9.1zM442.8 1418.5h9.1v6.5h-9.1zM606.7 1418.5h9.1v6.5h-9.1zM215 1425h9.1v6.5h-9.1zM287.9 1425h9.1v6.5h-9.1zM379 1425h9.1v6.5h-9.1zM442.8 1425h9.1v6.5h-9.1zM606.7 1425h9.1v6.5h-9.1zM379 1431.5h9.1v6.5h-9.1zM388.1 1431.5h9.1v6.5h-9.1zM442.8 1431.5h9.1v6.5h-9.1zM488.3 1431.5h9.1v6.5h-9.1zM379 1438h9.1v6.5h-9.1zM388.1 1438h9.1v6.5h-9.1zM442.8 1438h9.1v6.5h-9.1zM470.1 1438h9.1v6.5h-9.1zM488.3 1438h9.1v6.5h-9.1zM269.7 1444.5h9.1v6.5h-9.1zM360.8 1444.5h9.1v6.5h-9.1zM379 1444.5h9.1v6.5h-9.1zM388.1 1444.5h9.1v6.5h-9.1zM397.2 1444.5h9.1v6.5h-9.1zM488.3 1444.5h9.1v6.5h-9.1zM597.6 1444.5h9.1v6.5h-9.1zM351.7 1451h9.1v6.5h-9.1zM360.8 1451h9.1v6.5h-9.1zM388.1 1451h9.1v6.5h-9.1zM397.2 1451h9.1v6.5h-9.1zM597.6 1451h9.1v6.5h-9.1zM260.6 1457.5h9.1v6.5h-9.1zM324.3 1457.5h9.1v6.5h-9.1zM351.7 1457.5h9.1v6.5h-9.1zM360.8 1457.5h9.1v6.5h-9.1zM397.2 1457.5h9.1v6.5h-9.1zM588.5 1457.5h9.1v6.5h-9.1zM597.6 1457.5h9.1v6.5h-9.1zM260.6 1464h9.1v6.5h-9.1zM324.3 1464h9.1v6.5h-9.1zM351.7 1464h9.1v6.5h-9.1zM360.8 1464h9.1v6.5h-9.1zM397.2 1464h9.1v6.5h-9.1zM588.5 1464h9.1v6.5h-9.1zM597.6 1464h9.1v6.5h-9.1zM260.6 1470.5h9.1v6.5h-9.1zM324.3 1470.5h9.1v6.5h-9.1zM351.7 1470.5h9.1v6.5h-9.1zM360.8 1470.5h9.1v6.5h-9.1zM397.2 1470.5h9.1v6.5h-9.1zM451.9 1470.5h9.1v6.5h-9.1zM561.2 1470.5h9.1v6.5h-9.1zM588.5 1470.5h9.1v6.5h-9.1zM597.6 1470.5h9.1v6.5h-9.1zM260.6 1477h9.1v6.5h-9.1zM324.3 1477h9.1v6.5h-9.1zM351.7 1477h9.1v6.5h-9.1zM360.8 1477h9.1v6.5h-9.1zM379 1477h9.1v6.5h-9.1zM388.1 1477h9.1v6.5h-9.1zM451.9 1477h9.1v6.5h-9.1zM588.5 1477h9.1v6.5h-9.1zM260.6 1483.5h9.1v6.5h-9.1zM269.7 1483.5h9.1v6.5h-9.1zM324.3 1483.5h9.1v6.5h-9.1zM351.7 1483.5h9.1v6.5h-9.1zM360.8 1483.5h9.1v6.5h-9.1zM379 1483.5h9.1v6.5h-9.1zM388.1 1483.5h9.1v6.5h-9.1zM470.1 1483.5h9.1v6.5h-9.1zM543 1483.5h9.1v6.5h-9.1zM588.5 1483.5h9.1v6.5h-9.1zM260.6 1490h9.1v6.5h-9.1zM269.7 1490h9.1v6.5h-9.1zM324.3 1490h9.1v6.5h-9.1zM351.7 1490h9.1v6.5h-9.1zM360.8 1490h9.1v6.5h-9.1zM379 1490h9.1v6.5h-9.1zM388.1 1490h9.1v6.5h-9.1zM260.6 1496.5h9.1v6.5h-9.1zM269.7 1496.5h9.1v6.5h-9.1zM287.9 1496.5h9.1v6.5h-9.1zM324.3 1496.5h9.1v6.5h-9.1zM360.8 1496.5h9.1v6.5h-9.1zM397.2 1496.5h9.1v6.5h-9.1zM406.3 1496.5h9.1v6.5h-9.1zM260.6 1503h9.1v6.5h-9.1zM269.7 1503h9.1v6.5h-9.1zM287.9 1503h9.1v6.5h-9.1zM315.2 1503h9.1v6.5h-9.1zM324.3 1503h9.1v6.5h-9.1zM397.2 1503h9.1v6.5h-9.1zM260.6 1509.5h9.1v6.5h-9.1zM287.9 1509.5h9.1v6.5h-9.1zM324.3 1509.5h9.1v6.5h-9.1zM397.2 1509.5h9.1v6.5h-9.1zM224.1 1516h9.1v6.5h-9.1zM242.4 1516h9.1v6.5h-9.1zM251.5 1516h9.1v6.5h-9.1zM260.6 1516h9.1v6.5h-9.1zM287.9 1516h9.1v6.5h-9.1zM306.1 1516h9.1v6.5h-9.1zM324.3 1516h9.1v6.5h-9.1zM333.5 1516h9.1v6.5h-9.1zM224.1 1522.5h9.1v6.5h-9.1zM242.4 1522.5h9.1v6.5h-9.1zM251.5 1522.5h9.1v6.5h-9.1zM260.6 1522.5h9.1v6.5h-9.1zM269.7 1522.5h9.1v6.5h-9.1zM287.9 1522.5h9.1v6.5h-9.1zM297 1522.5h9.1v6.5h-9.1zM306.1 1522.5h9.1v6.5h-9.1zM333.5 1522.5h9.1v6.5h-9.1zM342.6 1522.5h9.1v6.5h-9.1zM224.1 1529h9.1v6.5h-9.1zM251.5 1529h9.1v6.5h-9.1zM260.6 1529h9.1v6.5h-9.1zM269.7 1529h9.1v6.5h-9.1zM287.9 1529h9.1v6.5h-9.1zM297 1529h9.1v6.5h-9.1zM306.1 1529h9.1v6.5h-9.1zM333.5 1529h9.1v6.5h-9.1zM342.6 1529h9.1v6.5h-9.1zM461 1529h9.1v6.5h-9.1zM224.1 1535.5h9.1v6.5h-9.1zM260.6 1535.5h9.1v6.5h-9.1zM269.7 1535.5h9.1v6.5h-9.1zM333.5 1535.5h9.1v6.5h-9.1zM342.6 1535.5h9.1v6.5h-9.1zM351.7 1535.5h9.1v6.5h-9.1zM397.2 1535.5h9.1v6.5h-9.1zM488.3 1535.5h9.1v6.5h-9.1zM588.5 1535.5h9.1v6.5h-9.1zM224.1 1542h9.1v6.5h-9.1zM260.6 1542h9.1v6.5h-9.1zM342.6 1542h9.1v6.5h-9.1zM360.8 1542h9.1v6.5h-9.1zM397.2 1542h9.1v6.5h-9.1zM497.4 1542h9.1v6.5h-9.1zM506.5 1542h9.1v6.5h-9.1zM588.5 1542h9.1v6.5h-9.1zM224.1 1548.5h9.1v6.5h-9.1zM342.6 1548.5h9.1v6.5h-9.1zM360.8 1548.5h9.1v6.5h-9.1zM397.2 1548.5h9.1v6.5h-9.1zM497.4 1548.5h9.1v6.5h-9.1zM506.5 1548.5h9.1v6.5h-9.1zM552.1 1548.5h9.1v6.5h-9.1zM561.2 1548.5h9.1v6.5h-9.1zM588.5 1548.5h9.1v6.5h-9.1zM597.6 1548.5h9.1v6.5h-9.1zM224.1 1555h9.1v6.5h-9.1zM233.2 1555h9.1v6.5h-9.1zM269.7 1555h9.1v6.5h-9.1zM278.8 1555h9.1v6.5h-9.1zM342.6 1555h9.1v6.5h-9.1zM433.7 1555h9.1v6.5h-9.1zM479.2 1555h9.1v6.5h-9.1zM497.4 1555h9.1v6.5h-9.1zM561.2 1555h9.1v6.5h-9.1zM570.3 1555h9.1v6.5h-9.1zM588.5 1555h9.1v6.5h-9.1zM597.6 1555h9.1v6.5h-9.1zM224.1 1561.5h9.1v6.5h-9.1zM233.2 1561.5h9.1v6.5h-9.1zM251.5 1561.5h9.1v6.5h-9.1zM260.6 1561.5h9.1v6.5h-9.1zM269.7 1561.5h9.1v6.5h-9.1zM278.8 1561.5h9.1v6.5h-9.1zM442.8 1561.5h9.1v6.5h-9.1zM479.2 1561.5h9.1v6.5h-9.1zM561.2 1561.5h9.1v6.5h-9.1zM570.3 1561.5h9.1v6.5h-9.1zM588.5 1561.5h9.1v6.5h-9.1zM597.6 1561.5h9.1v6.5h-9.1zM634.1 1561.5h9.1v6.5h-9.1zM224.1 1568h9.1v6.5h-9.1zM260.6 1568h9.1v6.5h-9.1zM269.7 1568h9.1v6.5h-9.1zM278.8 1568h9.1v6.5h-9.1zM287.9 1568h9.1v6.5h-9.1zM333.5 1568h9.1v6.5h-9.1zM342.6 1568h9.1v6.5h-9.1zM379 1568h9.1v6.5h-9.1zM388.1 1568h9.1v6.5h-9.1zM442.8 1568h9.1v6.5h-9.1zM561.2 1568h9.1v6.5h-9.1zM570.3 1568h9.1v6.5h-9.1zM588.5 1568h9.1v6.5h-9.1zM597.6 1568h9.1v6.5h-9.1zM634.1 1568h9.1v6.5h-9.1zM643.2 1568h9.1v6.5h-9.1zM224.1 1574.5h9.1v6.5h-9.1zM260.6 1574.5h9.1v6.5h-9.1zM269.7 1574.5h9.1v6.5h-9.1zM278.8 1574.5h9.1v6.5h-9.1zM287.9 1574.5h9.1v6.5h-9.1zM297 1574.5h9.1v6.5h-9.1zM306.1 1574.5h9.1v6.5h-9.1zM333.5 1574.5h9.1v6.5h-9.1zM342.6 1574.5h9.1v6.5h-9.1zM379 1574.5h9.1v6.5h-9.1zM388.1 1574.5h9.1v6.5h-9.1zM433.7 1574.5h9.1v6.5h-9.1zM442.8 1574.5h9.1v6.5h-9.1zM561.2 1574.5h9.1v6.5h-9.1zM570.3 1574.5h9.1v6.5h-9.1zM588.5 1574.5h9.1v6.5h-9.1zM606.7 1574.5h9.1v6.5h-9.1zM634.1 1574.5h9.1v6.5h-9.1zM215 1581h9.1v6.5h-9.1zM224.1 1581h9.1v6.5h-9.1zM269.7 1581h9.1v6.5h-9.1zM306.1 1581h9.1v6.5h-9.1zM333.5 1581h9.1v6.5h-9.1zM342.6 1581h9.1v6.5h-9.1zM351.7 1581h9.1v6.5h-9.1zM388.1 1581h9.1v6.5h-9.1zM397.2 1581h9.1v6.5h-9.1zM433.7 1581h9.1v6.5h-9.1zM442.8 1581h9.1v6.5h-9.1zM451.9 1581h9.1v6.5h-9.1zM561.2 1581h9.1v6.5h-9.1zM570.3 1581h9.1v6.5h-9.1zM606.7 1581h9.1v6.5h-9.1zM634.1 1581h9.1v6.5h-9.1zM643.2 1581h9.1v6.5h-9.1zM652.3 1581h9.1v6.5h-9.1zM215 1587.5h9.1v6.5h-9.1zM224.1 1587.5h9.1v6.5h-9.1zM269.7 1587.5h9.1v6.5h-9.1zM278.8 1587.5h9.1v6.5h-9.1zM297 1587.5h9.1v6.5h-9.1zM360.8 1587.5h9.1v6.5h-9.1zM388.1 1587.5h9.1v6.5h-9.1zM397.2 1587.5h9.1v6.5h-9.1zM433.7 1587.5h9.1v6.5h-9.1zM442.8 1587.5h9.1v6.5h-9.1zM451.9 1587.5h9.1v6.5h-9.1zM561.2 1587.5h9.1v6.5h-9.1zM606.7 1587.5h9.1v6.5h-9.1zM634.1 1587.5h9.1v6.5h-9.1zM643.2 1587.5h9.1v6.5h-9.1zM652.3 1587.5h9.1v6.5h-9.1z" fill="#ffffea"/>
<path d="M306.1 1191h9.1v6.5h-9.1zM306.1 1197.5h9.1v6.5h-9.1zM306.1 1204h9.1v6.5h-9.1zM634.1 1204h9.1v6.5h-9.1zM306.1 1210.5h9.1v6.5h-9.1zM634.1 1210.5h9.1v6.5h-9.1zM470.1 1282h9.1v6.5h-9.1zM552.1 1321h9.1v6.5h-9.1zM215 1340.5h9.1v6.5h-9.1zM342.6 1340.5h9.1v6.5h-9.1zM351.7 1340.5h9.1v6.5h-9.1zM360.8 1340.5h9.1v6.5h-9.1zM215 1347h9.1v6.5h-9.1zM360.8 1347h9.1v6.5h-9.1zM634.1 1347h9.1v6.5h-9.1zM634.1 1353.5h9.1v6.5h-9.1zM615.9 1360h9.1v6.5h-9.1zM488.3 1366.5h9.1v6.5h-9.1zM488.3 1373h9.1v6.5h-9.1zM479.2 1379.5h9.1v6.5h-9.1zM488.3 1379.5h9.1v6.5h-9.1zM488.3 1386h9.1v6.5h-9.1zM424.5 1418.5h9.1v6.5h-9.1zM433.7 1418.5h9.1v6.5h-9.1zM524.8 1418.5h9.1v6.5h-9.1zM433.7 1425h9.1v6.5h-9.1zM524.8 1425h9.1v6.5h-9.1zM533.9 1425h9.1v6.5h-9.1zM543 1425h9.1v6.5h-9.1zM324.3 1431.5h9.1v6.5h-9.1zM433.7 1431.5h9.1v6.5h-9.1zM524.8 1431.5h9.1v6.5h-9.1zM533.9 1431.5h9.1v6.5h-9.1zM543 1431.5h9.1v6.5h-9.1zM433.7 1438h9.1v6.5h-9.1zM524.8 1438h9.1v6.5h-9.1zM533.9 1438h9.1v6.5h-9.1zM543 1438h9.1v6.5h-9.1zM552.1 1438h9.1v6.5h-9.1zM524.8 1444.5h9.1v6.5h-9.1zM524.8 1451h9.1v6.5h-9.1zM524.8 1457.5h9.1v6.5h-9.1zM552.1 1457.5h9.1v6.5h-9.1zM524.8 1464h9.1v6.5h-9.1zM433.7 1470.5h9.1v6.5h-9.1zM524.8 1470.5h9.1v6.5h-9.1zM524.8 1477h9.1v6.5h-9.1zM533.9 1477h9.1v6.5h-9.1zM634.1 1477h9.1v6.5h-9.1zM524.8 1483.5h9.1v6.5h-9.1zM397.2 1516h9.1v6.5h-9.1zM570.3 1529h9.1v6.5h-9.1zM324.3 1542h9.1v6.5h-9.1zM324.3 1548.5h9.1v6.5h-9.1zM233.2 1568h9.1v6.5h-9.1zM233.2 1574.5h9.1v6.5h-9.1zM242.4 1574.5h9.1v6.5h-9.1zM233.2 1581h9.1v6.5h-9.1zM242.4 1581h9.1v6.5h-9.1zM233.2 1587.5h9.1v6.5h-9.1zM242.4 1587.5h9.1v6.5h-9.1z" fill="#ffffa0"/>
<path d="M379 1191h9.1v6.5h-9.1zM388.1 1191h9.1v6.5h-9.1zM397.2 1191h9.1v6.5h-9.1zM433.7 1191h9.1v6.5h-9.1zM442.8 1191h9.1v6.5h-9.1zM451.9 1191h9.1v6.5h-9.1zM461 1191h9.1v6.5h-9.1zM470.1 1191h9.1v6.5h-9.1zM479.2 1191h9.1v6.5h-9.1zM488.3 1191h9.1v6.5h-9.1zM497.4 1191h9.1v6.5h-9.1zM506.5 1191h9.1v6.5h-9.1zM579.4 1191h9.1v6.5h-9.1zM588.5 1191h9.1v6.5h-9.1zM606.7 1191h9.1v6.5h-9.1zM379 1197.5h9.1v6.5h-9.1zM388.1 1197.5h9.1v6.5h-9.1zM397.2 1197.5h9.1v6.5h-9.1zM433.7 1197.5h9.1v6.5h-9.1zM442.8 1197.5h9.1v6.5h-9.1zM461 1197.5h9.1v6.5h-9.1zM470.1 1197.5h9.1v6.5h-9.1zM479.2 1197.5h9.1v6.5h-9.1zM488.3 1197.5h9.1v6.5h-9.1zM497.4 1197.5h9.1v6.5h-9.1zM506.5 1197.5h9.1v6.5h-9.1zM533.9 1197.5h9.1v6.5h-9.1zM579.4 1197.5h9.1v6.5h-9.1zM588.5 1197.5h9.1v6.5h-9.1zM597.6 1197.5h9.1v6.5h-9.1zM606.7 1197.5h9.1v6.5h-9.1zM379 1204h9.1v6.5h-9.1zM388.1 1204h9.1v6.5h-9.1zM397.2 1204h9.1v6.5h-9.1zM406.3 1204h9.1v6.5h-9.1zM461 1204h9.1v6.5h-9.1zM470.1 1204h9.1v6.5h-9.1zM479.2 1204h9.1v6.5h-9.1zM488.3 1204h9.1v6.5h-9.1zM497.4 1204h9.1v6.5h-9.1zM506.5 1204h9.1v6.5h-9.1zM533.9 1204h9.1v6.5h-9.1zM543 1204h9.1v6.5h-9.1zM579.4 1204h9.1v6.5h-9.1zM597.6 1204h9.1v6.5h-9.1zM606.7 1204h9.1v6.5h-9.1zM388.1 1210.5h9.1v6.5h-9.1zM397.2 1210.5h9.1v6.5h-9.1zM461 1210.5h9.1v6.5h-9.1zM470.1 1210.5h9.1v6.5h-9.1zM479.2 1210.5h9.1v6.5h-9.1zM488.3 1210.5h9.1v6.5h-9.1zM497.4 1210.5h9.1v6.5h-9.1zM506.5 1210.5h9.1v6.5h-9.1zM515.6 1210.5h9.1v6.5h-9.1zM533.9 1210.5h9.1v6.5h-9.1zM543 1210.5h9.1v6.5h-9.1zM552.1 1210.5h9.1v6.5h-9.1zM579.4 1210.5h9.1v6.5h-9.1zM597.6 1210.5h9.1v6.5h-9.1zM606.7 1210.5h9.1v6.5h-9.1zM397.2 1243h9.1v6.5h-9.1zM333.5 1249.5h9.1v6.5h-9.1zM397.2 1249.5h9.1v6.5h-9.1zM397.2 1256h9.1v6.5h-9.1zM406.3 1256h9.1v6.5h-9.1zM479.2 1256h9.1v6.5h-9.1zM260.6 1262.5h9.1v6.5h-9.1zM379 1262.5h9.1v6.5h-9.1zM397.2 1262.5h9.1v6.5h-9.1zM406.3 1262.5h9.1v6.5h-9.1zM479.2 1262.5h9.1v6.5h-9.1zM588.5 1262.5h9.1v6.5h-9.1zM260.6 1269h9.1v6.5h-9.1zM278.8 1269h9.1v6.5h-9.1zM287.9 1269h9.1v6.5h-9.1zM379 1269h9.1v6.5h-9.1zM397.2 1269h9.1v6.5h-9.1zM406.3 1269h9.1v6.5h-9.1zM479.2 1269h9.1v6.5h-9.1zM588.5 1269h9.1v6.5h-9.1zM260.6 1275.5h9.1v6.5h-9.1zM278.8 1275.5h9.1v6.5h-9.1zM379 1275.5h9.1v6.5h-9.1zM397.2 1275.5h9.1v6.5h-9.1zM406.3 1275.5h9.1v6.5h-9.1zM479.2 1275.5h9.1v6.5h-9.1zM533.9 1275.5h9.1v6.5h-9.1zM561.2 1275.5h9.1v6.5h-9.1zM570.3 1275.5h9.1v6.5h-9.1zM224.1 1282h9.1v6.5h-9.1zM278.8 1282h9.1v6.5h-9.1zM379 1282h9.1v6.5h-9.1zM388.1 1282h9.1v6.5h-9.1zM397.2 1282h9.1v6.5h-9.1zM406.3 1282h9.1v6.5h-9.1zM479.2 1282h9.1v6.5h-9.1zM533.9 1282h9.1v6.5h-9.1zM543 1282h9.1v6.5h-9.1zM561.2 1282h9.1v6.5h-9.1zM570.3 1282h9.1v6.5h-9.1zM579.4 1282h9.1v6.5h-9.1zM597.6 1282h9.1v6.5h-9.1zM615.9 1282h9.1v6.5h-9.1zM625 1282h9.1v6.5h-9.1zM224.1 1288.5h9.1v6.5h-9.1zM278.8 1288.5h9.1v6.5h-9.1zM287.9 1288.5h9.1v6.5h-9.1zM297 1288.5h9.1v6.5h-9.1zM306.1 1288.5h9.1v6.5h-9.1zM379 1288.5h9.1v6.5h-9.1zM388.1 1288.5h9.1v6.5h-9.1zM406.3 1288.5h9.1v6.5h-9.1zM479.2 1288.5h9.1v6.5h-9.1zM533.9 1288.5h9.1v6.5h-9.1zM543 1288.5h9.1v6.5h-9.1zM224.1 1295h9.1v6.5h-9.1zM233.2 1295h9.1v6.5h-9.1zM278.8 1295h9.1v6.5h-9.1zM287.9 1295h9.1v6.5h-9.1zM297 1295h9.1v6.5h-9.1zM306.1 1295h9.1v6.5h-9.1zM360.8 1295h9.1v6.5h-9.1zM379 1295h9.1v6.5h-9.1zM388.1 1295h9.1v6.5h-9.1zM406.3 1295h9.1v6.5h-9.1zM497.4 1295h9.1v6.5h-9.1zM533.9 1295h9.1v6.5h-9.1zM543 1295h9.1v6.5h-9.1zM233.2 1301.5h9.1v6.5h-9.1zM278.8 1301.5h9.1v6.5h-9.1zM287.9 1301.5h9.1v6.5h-9.1zM297 1301.5h9.1v6.5h-9.1zM306.1 1301.5h9.1v6.5h-9.1zM360.8 1301.5h9.1v6.5h-9.1zM379 1301.5h9.1v6.5h-9.1zM388.1 1301.5h9.1v6.5h-9.1zM406.3 1301.5h9.1v6.5h-9.1zM497.4 1301.5h9.1v6.5h-9.1zM643.2 1301.5h9.1v6.5h-9.1zM233.2 1308h9.1v6.5h-9.1zM278.8 1308h9.1v6.5h-9.1zM287.9 1308h9.1v6.5h-9.1zM297 1308h9.1v6.5h-9.1zM306.1 1308h9.1v6.5h-9.1zM360.8 1308h9.1v6.5h-9.1zM369.9 1308h9.1v6.5h-9.1zM379 1308h9.1v6.5h-9.1zM406.3 1308h9.1v6.5h-9.1zM497.4 1308h9.1v6.5h-9.1zM634.1 1308h9.1v6.5h-9.1zM643.2 1308h9.1v6.5h-9.1zM233.2 1314.5h9.1v6.5h-9.1zM260.6 1314.5h9.1v6.5h-9.1zM287.9 1314.5h9.1v6.5h-9.1zM297 1314.5h9.1v6.5h-9.1zM306.1 1314.5h9.1v6.5h-9.1zM360.8 1314.5h9.1v6.5h-9.1zM379 1314.5h9.1v6.5h-9.1zM388.1 1314.5h9.1v6.5h-9.1zM397.2 1314.5h9.1v6.5h-9.1zM406.3 1314.5h9.1v6.5h-9.1zM552.1 1314.5h9.1v6.5h-9.1zM251.5 1321h9.1v6.5h-9.1zM260.6 1321h9.1v6.5h-9.1zM297 1321h9.1v6.5h-9.1zM306.1 1321h9.1v6.5h-9.1zM360.8 1321h9.1v6.5h-9.1zM369.9 1321h9.1v6.5h-9.1zM379 1321h9.1v6.5h-9.1zM388.1 1321h9.1v6.5h-9.1zM397.2 1321h9.1v6.5h-9.1zM406.3 1321h9.1v6.5h-9.1zM415.4 1321h9.1v6.5h-9.1zM561.2 1321h9.1v6.5h-9.1zM570.3 1321h9.1v6.5h-9.1zM251.5 1327.5h9.1v6.5h-9.1zM260.6 1327.5h9.1v6.5h-9.1zM269.7 1327.5h9.1v6.5h-9.1zM297 1327.5h9.1v6.5h-9.1zM306.1 1327.5h9.1v6.5h-9.1zM315.2 1327.5h9.1v6.5h-9.1zM351.7 1327.5h9.1v6.5h-9.1zM360.8 1327.5h9.1v6.5h-9.1zM369.9 1327.5h9.1v6.5h-9.1zM379 1327.5h9.1v6.5h-9.1zM388.1 1327.5h9.1v6.5h-9.1zM397.2 1327.5h9.1v6.5h-9.1zM461 1327.5h9.1v6.5h-9.1zM561.2 1327.5h9.1v6.5h-9.1zM269.7 1334h9.1v6.5h-9.1zM297 1334h9.1v6.5h-9.1zM306.1 1334h9.1v6.5h-9.1zM351.7 1334h9.1v6.5h-9.1zM360.8 1334h9.1v6.5h-9.1zM369.9 1334h9.1v6.5h-9.1zM379 1334h9.1v6.5h-9.1zM388.1 1334h9.1v6.5h-9.1zM397.2 1334h9.1v6.5h-9.1zM406.3 1334h9.1v6.5h-9.1zM224.1 1340.5h9.1v6.5h-9.1zM233.2 1340.5h9.1v6.5h-9.1zM369.9 1340.5h9.1v6.5h-9.1zM397.2 1340.5h9.1v6.5h-9.1zM406.3 1340.5h9.1v6.5h-9.1zM369.9 1347h9.1v6.5h-9.1zM397.2 1347h9.1v6.5h-9.1zM406.3 1347h9.1v6.5h-9.1zM579.4 1347h9.1v6.5h-9.1zM369.9 1353.5h9.1v6.5h-9.1zM379 1353.5h9.1v6.5h-9.1zM397.2 1353.5h9.1v6.5h-9.1zM406.3 1353.5h9.1v6.5h-9.1zM369.9 1360h9.1v6.5h-9.1zM379 1360h9.1v6.5h-9.1zM397.2 1360h9.1v6.5h-9.1zM269.7 1366.5h9.1v6.5h-9.1zM379 1366.5h9.1v6.5h-9.1zM397.2 1366.5h9.1v6.5h-9.1zM406.3 1366.5h9.1v6.5h-9.1zM415.4 1366.5h9.1v6.5h-9.1zM269.7 1373h9.1v6.5h-9.1zM379 1373h9.1v6.5h-9.1zM388.1 1373h9.1v6.5h-9.1zM397.2 1373h9.1v6.5h-9.1zM479.2 1373h9.1v6.5h-9.1zM515.6 1373h9.1v6.5h-9.1zM269.7 1379.5h9.1v6.5h-9.1zM379 1379.5h9.1v6.5h-9.1zM388.1 1379.5h9.1v6.5h-9.1zM397.2 1379.5h9.1v6.5h-9.1zM515.6 1379.5h9.1v6.5h-9.1zM588.5 1379.5h9.1v6.5h-9.1zM388.1 1386h9.1v6.5h-9.1zM397.2 1386h9.1v6.5h-9.1zM515.6 1386h9.1v6.5h-9.1zM588.5 1386h9.1v6.5h-9.1zM388.1 1392.5h9.1v6.5h-9.1zM397.2 1392.5h9.1v6.5h-9.1zM515.6 1392.5h9.1v6.5h-9.1zM524.8 1392.5h9.1v6.5h-9.1zM588.5 1392.5h9.1v6.5h-9.1zM278.8 1399h9.1v6.5h-9.1zM388.1 1399h9.1v6.5h-9.1zM397.2 1399h9.1v6.5h-9.1zM515.6 1399h9.1v6.5h-9.1zM524.8 1399h9.1v6.5h-9.1zM278.8 1405.5h9.1v6.5h-9.1zM388.1 1405.5h9.1v6.5h-9.1zM397.2 1405.5h9.1v6.5h-9.1zM515.6 1405.5h9.1v6.5h-9.1zM524.8 1405.5h9.1v6.5h-9.1zM533.9 1405.5h9.1v6.5h-9.1zM552.1 1405.5h9.1v6.5h-9.1zM278.8 1412h9.1v6.5h-9.1zM360.8 1412h9.1v6.5h-9.1zM388.1 1412h9.1v6.5h-9.1zM397.2 1412h9.1v6.5h-9.1zM451.9 1412h9.1v6.5h-9.1zM515.6 1412h9.1v6.5h-9.1zM524.8 1412h9.1v6.5h-9.1zM533.9 1412h9.1v6.5h-9.1zM570.3 1412h9.1v6.5h-9.1zM643.2 1412h9.1v6.5h-9.1zM278.8 1418.5h9.1v6.5h-9.1zM360.8 1418.5h9.1v6.5h-9.1zM397.2 1418.5h9.1v6.5h-9.1zM515.6 1418.5h9.1v6.5h-9.1zM570.3 1418.5h9.1v6.5h-9.1zM579.4 1418.5h9.1v6.5h-9.1zM643.2 1418.5h9.1v6.5h-9.1zM278.8 1425h9.1v6.5h-9.1zM397.2 1425h9.1v6.5h-9.1zM515.6 1425h9.1v6.5h-9.1zM570.3 1425h9.1v6.5h-9.1zM579.4 1425h9.1v6.5h-9.1zM643.2 1425h9.1v6.5h-9.1zM215 1431.5h9.1v6.5h-9.1zM269.7 1431.5h9.1v6.5h-9.1zM278.8 1431.5h9.1v6.5h-9.1zM287.9 1431.5h9.1v6.5h-9.1zM297 1431.5h9.1v6.5h-9.1zM351.7 1431.5h9.1v6.5h-9.1zM397.2 1431.5h9.1v6.5h-9.1zM451.9 1431.5h9.1v6.5h-9.1zM515.6 1431.5h9.1v6.5h-9.1zM561.2 1431.5h9.1v6.5h-9.1zM570.3 1431.5h9.1v6.5h-9.1zM579.4 1431.5h9.1v6.5h-9.1zM643.2 1431.5h9.1v6.5h-9.1zM215 1438h9.1v6.5h-9.1zM224.1 1438h9.1v6.5h-9.1zM269.7 1438h9.1v6.5h-9.1zM278.8 1438h9.1v6.5h-9.1zM287.9 1438h9.1v6.5h-9.1zM297 1438h9.1v6.5h-9.1zM342.6 1438h9.1v6.5h-9.1zM451.9 1438h9.1v6.5h-9.1zM515.6 1438h9.1v6.5h-9.1zM561.2 1438h9.1v6.5h-9.1zM570.3 1438h9.1v6.5h-9.1zM579.4 1438h9.1v6.5h-9.1zM643.2 1438h9.1v6.5h-9.1zM215 1444.5h9.1v6.5h-9.1zM224.1 1444.5h9.1v6.5h-9.1zM287.9 1444.5h9.1v6.5h-9.1zM297 1444.5h9.1v6.5h-9.1zM451.9 1444.5h9.1v6.5h-9.1zM461 1444.5h9.1v6.5h-9.1zM515.6 1444.5h9.1v6.5h-9.1zM533.9 1444.5h9.1v6.5h-9.1zM543 1444.5h9.1v6.5h-9.1zM561.2 1444.5h9.1v6.5h-9.1zM579.4 1444.5h9.1v6.5h-9.1zM588.5 1444.5h9.1v6.5h-9.1zM224.1 1451h9.1v6.5h-9.1zM287.9 1451h9.1v6.5h-9.1zM297 1451h9.1v6.5h-9.1zM333.5 1451h9.1v6.5h-9.1zM342.6 1451h9.1v6.5h-9.1zM451.9 1451h9.1v6.5h-9.1zM461 1451h9.1v6.5h-9.1zM470.1 1451h9.1v6.5h-9.1zM515.6 1451h9.1v6.5h-9.1zM533.9 1451h9.1v6.5h-9.1zM543 1451h9.1v6.5h-9.1zM552.1 1451h9.1v6.5h-9.1zM561.2 1451h9.1v6.5h-9.1zM579.4 1451h9.1v6.5h-9.1zM297 1457.5h9.1v6.5h-9.1zM333.5 1457.5h9.1v6.5h-9.1zM342.6 1457.5h9.1v6.5h-9.1zM415.4 1457.5h9.1v6.5h-9.1zM451.9 1457.5h9.1v6.5h-9.1zM461 1457.5h9.1v6.5h-9.1zM470.1 1457.5h9.1v6.5h-9.1zM515.6 1457.5h9.1v6.5h-9.1zM533.9 1457.5h9.1v6.5h-9.1zM543 1457.5h9.1v6.5h-9.1zM561.2 1457.5h9.1v6.5h-9.1zM652.3 1457.5h9.1v6.5h-9.1zM251.5 1464h9.1v6.5h-9.1zM315.2 1464h9.1v6.5h-9.1zM333.5 1464h9.1v6.5h-9.1zM342.6 1464h9.1v6.5h-9.1zM415.4 1464h9.1v6.5h-9.1zM515.6 1464h9.1v6.5h-9.1zM533.9 1464h9.1v6.5h-9.1zM543 1464h9.1v6.5h-9.1zM561.2 1464h9.1v6.5h-9.1zM652.3 1464h9.1v6.5h-9.1zM251.5 1470.5h9.1v6.5h-9.1zM333.5 1470.5h9.1v6.5h-9.1zM342.6 1470.5h9.1v6.5h-9.1zM379 1470.5h9.1v6.5h-9.1zM415.4 1470.5h9.1v6.5h-9.1zM533.9 1470.5h9.1v6.5h-9.1zM543 1470.5h9.1v6.5h-9.1zM652.3 1470.5h9.1v6.5h-9.1zM251.5 1477h9.1v6.5h-9.1zM333.5 1477h9.1v6.5h-9.1zM342.6 1477h9.1v6.5h-9.1zM543 1477h9.1v6.5h-9.1zM625 1477h9.1v6.5h-9.1zM652.3 1477h9.1v6.5h-9.1zM224.1 1483.5h9.1v6.5h-9.1zM233.2 1483.5h9.1v6.5h-9.1zM251.5 1483.5h9.1v6.5h-9.1zM333.5 1483.5h9.1v6.5h-9.1zM342.6 1483.5h9.1v6.5h-9.1zM479.2 1483.5h9.1v6.5h-9.1zM597.6 1483.5h9.1v6.5h-9.1zM625 1483.5h9.1v6.5h-9.1zM634.1 1483.5h9.1v6.5h-9.1zM643.2 1483.5h9.1v6.5h-9.1zM652.3 1483.5h9.1v6.5h-9.1zM233.2 1490h9.1v6.5h-9.1zM251.5 1490h9.1v6.5h-9.1zM333.5 1490h9.1v6.5h-9.1zM342.6 1490h9.1v6.5h-9.1zM233.2 1496.5h9.1v6.5h-9.1zM251.5 1496.5h9.1v6.5h-9.1zM297 1496.5h9.1v6.5h-9.1zM306.1 1496.5h9.1v6.5h-9.1zM333.5 1496.5h9.1v6.5h-9.1zM342.6 1496.5h9.1v6.5h-9.1zM351.7 1496.5h9.1v6.5h-9.1zM379 1496.5h9.1v6.5h-9.1zM233.2 1503h9.1v6.5h-9.1zM251.5 1503h9.1v6.5h-9.1zM306.1 1503h9.1v6.5h-9.1zM333.5 1503h9.1v6.5h-9.1zM342.6 1503h9.1v6.5h-9.1zM351.7 1503h9.1v6.5h-9.1zM360.8 1503h9.1v6.5h-9.1zM233.2 1509.5h9.1v6.5h-9.1zM251.5 1509.5h9.1v6.5h-9.1zM269.7 1509.5h9.1v6.5h-9.1zM306.1 1509.5h9.1v6.5h-9.1zM315.2 1509.5h9.1v6.5h-9.1zM333.5 1509.5h9.1v6.5h-9.1zM342.6 1509.5h9.1v6.5h-9.1zM351.7 1509.5h9.1v6.5h-9.1zM360.8 1509.5h9.1v6.5h-9.1zM233.2 1516h9.1v6.5h-9.1zM269.7 1516h9.1v6.5h-9.1zM315.2 1516h9.1v6.5h-9.1zM342.6 1516h9.1v6.5h-9.1zM351.7 1516h9.1v6.5h-9.1zM360.8 1516h9.1v6.5h-9.1zM315.2 1522.5h9.1v6.5h-9.1zM324.3 1522.5h9.1v6.5h-9.1zM351.7 1522.5h9.1v6.5h-9.1zM360.8 1522.5h9.1v6.5h-9.1zM524.8 1522.5h9.1v6.5h-9.1zM652.3 1522.5h9.1v6.5h-9.1zM315.2 1529h9.1v6.5h-9.1zM324.3 1529h9.1v6.5h-9.1zM360.8 1529h9.1v6.5h-9.1zM424.5 1529h9.1v6.5h-9.1zM488.3 1529h9.1v6.5h-9.1zM524.8 1529h9.1v6.5h-9.1zM579.4 1529h9.1v6.5h-9.1zM215 1535.5h9.1v6.5h-9.1zM297 1535.5h9.1v6.5h-9.1zM306.1 1535.5h9.1v6.5h-9.1zM315.2 1535.5h9.1v6.5h-9.1zM324.3 1535.5h9.1v6.5h-9.1zM388.1 1535.5h9.1v6.5h-9.1zM497.4 1535.5h9.1v6.5h-9.1zM524.8 1535.5h9.1v6.5h-9.1zM579.4 1535.5h9.1v6.5h-9.1zM215 1542h9.1v6.5h-9.1zM269.7 1542h9.1v6.5h-9.1zM297 1542h9.1v6.5h-9.1zM306.1 1542h9.1v6.5h-9.1zM315.2 1542h9.1v6.5h-9.1zM524.8 1542h9.1v6.5h-9.1zM533.9 1542h9.1v6.5h-9.1zM579.4 1542h9.1v6.5h-9.1zM215 1548.5h9.1v6.5h-9.1zM233.2 1548.5h9.1v6.5h-9.1zM269.7 1548.5h9.1v6.5h-9.1zM297 1548.5h9.1v6.5h-9.1zM306.1 1548.5h9.1v6.5h-9.1zM315.2 1548.5h9.1v6.5h-9.1zM524.8 1548.5h9.1v6.5h-9.1zM533.9 1548.5h9.1v6.5h-9.1zM215 1555h9.1v6.5h-9.1zM297 1555h9.1v6.5h-9.1zM306.1 1555h9.1v6.5h-9.1zM315.2 1555h9.1v6.5h-9.1zM461 1555h9.1v6.5h-9.1zM524.8 1555h9.1v6.5h-9.1zM533.9 1555h9.1v6.5h-9.1zM552.1 1555h9.1v6.5h-9.1zM242.4 1561.5h9.1v6.5h-9.1zM297 1561.5h9.1v6.5h-9.1zM306.1 1561.5h9.1v6.5h-9.1zM461 1561.5h9.1v6.5h-9.1zM470.1 1561.5h9.1v6.5h-9.1zM506.5 1561.5h9.1v6.5h-9.1zM515.6 1561.5h9.1v6.5h-9.1zM524.8 1561.5h9.1v6.5h-9.1zM533.9 1561.5h9.1v6.5h-9.1zM625 1561.5h9.1v6.5h-9.1zM652.3 1561.5h9.1v6.5h-9.1zM242.4 1568h9.1v6.5h-9.1zM251.5 1568h9.1v6.5h-9.1zM297 1568h9.1v6.5h-9.1zM306.1 1568h9.1v6.5h-9.1zM461 1568h9.1v6.5h-9.1zM470.1 1568h9.1v6.5h-9.1zM506.5 1568h9.1v6.5h-9.1zM515.6 1568h9.1v6.5h-9.1zM524.8 1568h9.1v6.5h-9.1zM533.9 1568h9.1v6.5h-9.1zM625 1568h9.1v6.5h-9.1zM652.3 1568h9.1v6.5h-9.1zM251.5 1574.5h9.1v6.5h-9.1zM351.7 1574.5h9.1v6.5h-9.1zM461 1574.5h9.1v6.5h-9.1zM470.1 1574.5h9.1v6.5h-9.1zM506.5 1574.5h9.1v6.5h-9.1zM515.6 1574.5h9.1v6.5h-9.1zM524.8 1574.5h9.1v6.5h-9.1zM533.9 1574.5h9.1v6.5h-9.1zM251.5 1581h9.1v6.5h-9.1zM287.9 1581h9.1v6.5h-9.1zM461 1581h9.1v6.5h-9.1zM470.1 1581h9.1v6.5h-9.1zM506.5 1581h9.1v6.5h-9.1zM515.6 1581h9.1v6.5h-9.1zM533.9 1581h9.1v6.5h-9.1zM287.9 1587.5h9.1v6.5h-9.1zM306.1 1587.5h9.1v6.5h-9.1zM461 1587.5h9.1v6.5h-9.1zM470.1 1587.5h9.1v6.5h-9.1zM506.5 1587.5h9.1v6.5h-9.1zM533.9 1587.5h9.1v6.5h-9.1z" fill="#f3f3fe"/>
<path d="M451.9 1197.5h9.1v6.5h-9.1zM515.6 1197.5h9.1v6.5h-9.1zM442.8 1204h9.1v6.5h-9.1zM451.9 1204h9.1v6.5h-9.1zM515.6 1204h9.1v6.5h-9.1zM588.5 1204h9.1v6.5h-9.1zM215 1210.5h9.1v6.5h-9.1zM451.9 1210.5h9.1v6.5h-9.1zM588.5 1210.5h9.1v6.5h-9.1zM351.7 1249.5h9.1v6.5h-9.1zM297 1256h9.1v6.5h-9.1zM297 1262.5h9.1v6.5h-9.1zM306.1 1269h9.1v6.5h-9.1zM315.2 1269h9.1v6.5h-9.1zM324.3 1269h9.1v6.5h-9.1zM315.2 1288.5h9.1v6.5h-9.1zM597.6 1288.5h9.1v6.5h-9.1zM215 1295h9.1v6.5h-9.1zM315.2 1295h9.1v6.5h-9.1zM315.2 1301.5h9.1v6.5h-9.1zM333.5 1301.5h9.1v6.5h-9.1zM315.2 1308h9.1v6.5h-9.1zM333.5 1308h9.1v6.5h-9.1zM579.4 1308h9.1v6.5h-9.1zM588.5 1308h9.1v6.5h-9.1zM315.2 1314.5h9.1v6.5h-9.1zM333.5 1314.5h9.1v6.5h-9.1zM579.4 1314.5h9.1v6.5h-9.1zM588.5 1314.5h9.1v6.5h-9.1zM615.9 1314.5h9.1v6.5h-9.1zM315.2 1321h9.1v6.5h-9.1zM324.3 1321h9.1v6.5h-9.1zM579.4 1321h9.1v6.5h-9.1zM588.5 1321h9.1v6.5h-9.1zM615.9 1321h9.1v6.5h-9.1zM625 1321h9.1v6.5h-9.1zM324.3 1327.5h9.1v6.5h-9.1zM524.8 1327.5h9.1v6.5h-9.1zM588.5 1327.5h9.1v6.5h-9.1zM615.9 1327.5h9.1v6.5h-9.1zM625 1327.5h9.1v6.5h-9.1zM324.3 1334h9.1v6.5h-9.1zM470.1 1334h9.1v6.5h-9.1zM524.8 1334h9.1v6.5h-9.1zM615.9 1334h9.1v6.5h-9.1zM625 1334h9.1v6.5h-9.1zM297 1340.5h9.1v6.5h-9.1zM379 1340.5h9.1v6.5h-9.1zM470.1 1340.5h9.1v6.5h-9.1zM479.2 1340.5h9.1v6.5h-9.1zM506.5 1340.5h9.1v6.5h-9.1zM515.6 1340.5h9.1v6.5h-9.1zM524.8 1340.5h9.1v6.5h-9.1zM615.9 1340.5h9.1v6.5h-9.1zM625 1340.5h9.1v6.5h-9.1zM297 1347h9.1v6.5h-9.1zM379 1347h9.1v6.5h-9.1zM470.1 1347h9.1v6.5h-9.1zM515.6 1347h9.1v6.5h-9.1zM524.8 1347h9.1v6.5h-9.1zM625 1347h9.1v6.5h-9.1zM297 1353.5h9.1v6.5h-9.1zM342.6 1353.5h9.1v6.5h-9.1zM470.1 1353.5h9.1v6.5h-9.1zM297 1360h9.1v6.5h-9.1zM342.6 1360h9.1v6.5h-9.1zM470.1 1360h9.1v6.5h-9.1zM570.3 1360h9.1v6.5h-9.1zM579.4 1360h9.1v6.5h-9.1zM369.9 1366.5h9.1v6.5h-9.1zM470.1 1366.5h9.1v6.5h-9.1zM570.3 1366.5h9.1v6.5h-9.1zM579.4 1366.5h9.1v6.5h-9.1zM588.5 1366.5h9.1v6.5h-9.1zM579.4 1373h9.1v6.5h-9.1zM588.5 1373h9.1v6.5h-9.1zM451.9 1379.5h9.1v6.5h-9.1zM579.4 1379.5h9.1v6.5h-9.1zM625 1379.5h9.1v6.5h-9.1zM306.1 1386h9.1v6.5h-9.1zM315.2 1386h9.1v6.5h-9.1zM451.9 1386h9.1v6.5h-9.1zM625 1386h9.1v6.5h-9.1zM306.1 1392.5h9.1v6.5h-9.1zM315.2 1392.5h9.1v6.5h-9.1zM342.6 1392.5h9.1v6.5h-9.1zM415.4 1392.5h9.1v6.5h-9.1zM451.9 1392.5h9.1v6.5h-9.1zM306.1 1399h9.1v6.5h-9.1zM315.2 1399h9.1v6.5h-9.1zM342.6 1399h9.1v6.5h-9.1zM451.9 1399h9.1v6.5h-9.1zM306.1 1405.5h9.1v6.5h-9.1zM315.2 1405.5h9.1v6.5h-9.1zM306.1 1412h9.1v6.5h-9.1zM315.2 1412h9.1v6.5h-9.1zM324.3 1412h9.1v6.5h-9.1zM333.5 1412h9.1v6.5h-9.1zM351.7 1412h9.1v6.5h-9.1zM415.4 1412h9.1v6.5h-9.1zM306.1 1418.5h9.1v6.5h-9.1zM315.2 1418.5h9.1v6.5h-9.1zM324.3 1418.5h9.1v6.5h-9.1zM333.5 1418.5h9.1v6.5h-9.1zM351.7 1418.5h9.1v6.5h-9.1zM415.4 1418.5h9.1v6.5h-9.1zM324.3 1425h9.1v6.5h-9.1zM333.5 1425h9.1v6.5h-9.1zM342.6 1425h9.1v6.5h-9.1zM351.7 1425h9.1v6.5h-9.1zM388.1 1425h9.1v6.5h-9.1zM415.4 1425h9.1v6.5h-9.1zM424.5 1425h9.1v6.5h-9.1zM333.5 1431.5h9.1v6.5h-9.1zM342.6 1431.5h9.1v6.5h-9.1zM415.4 1431.5h9.1v6.5h-9.1zM424.5 1431.5h9.1v6.5h-9.1zM233.2 1438h9.1v6.5h-9.1zM333.5 1438h9.1v6.5h-9.1zM351.7 1438h9.1v6.5h-9.1zM415.4 1438h9.1v6.5h-9.1zM424.5 1438h9.1v6.5h-9.1zM233.2 1444.5h9.1v6.5h-9.1zM333.5 1444.5h9.1v6.5h-9.1zM342.6 1444.5h9.1v6.5h-9.1zM351.7 1444.5h9.1v6.5h-9.1zM415.4 1444.5h9.1v6.5h-9.1zM424.5 1444.5h9.1v6.5h-9.1zM233.2 1451h9.1v6.5h-9.1zM415.4 1451h9.1v6.5h-9.1zM424.5 1451h9.1v6.5h-9.1zM233.2 1457.5h9.1v6.5h-9.1zM406.3 1457.5h9.1v6.5h-9.1zM233.2 1464h9.1v6.5h-9.1zM242.4 1464h9.1v6.5h-9.1zM406.3 1464h9.1v6.5h-9.1zM424.5 1464h9.1v6.5h-9.1zM579.4 1464h9.1v6.5h-9.1zM233.2 1470.5h9.1v6.5h-9.1zM242.4 1470.5h9.1v6.5h-9.1zM406.3 1470.5h9.1v6.5h-9.1zM424.5 1470.5h9.1v6.5h-9.1zM579.4 1470.5h9.1v6.5h-9.1zM233.2 1477h9.1v6.5h-9.1zM242.4 1477h9.1v6.5h-9.1zM406.3 1477h9.1v6.5h-9.1zM424.5 1477h9.1v6.5h-9.1zM433.7 1477h9.1v6.5h-9.1zM597.6 1477h9.1v6.5h-9.1zM242.4 1483.5h9.1v6.5h-9.1zM406.3 1483.5h9.1v6.5h-9.1zM433.7 1483.5h9.1v6.5h-9.1zM533.9 1483.5h9.1v6.5h-9.1zM242.4 1490h9.1v6.5h-9.1zM406.3 1490h9.1v6.5h-9.1zM242.4 1496.5h9.1v6.5h-9.1zM369.9 1496.5h9.1v6.5h-9.1zM215 1503h9.1v6.5h-9.1zM224.1 1503h9.1v6.5h-9.1zM242.4 1503h9.1v6.5h-9.1zM369.9 1503h9.1v6.5h-9.1zM224.1 1509.5h9.1v6.5h-9.1zM369.9 1509.5h9.1v6.5h-9.1zM369.9 1516h9.1v6.5h-9.1zM369.9 1522.5h9.1v6.5h-9.1zM379 1522.5h9.1v6.5h-9.1zM351.7 1529h9.1v6.5h-9.1zM369.9 1529h9.1v6.5h-9.1zM379 1529h9.1v6.5h-9.1zM397.2 1529h9.1v6.5h-9.1zM406.3 1529h9.1v6.5h-9.1zM415.4 1529h9.1v6.5h-9.1zM369.9 1535.5h9.1v6.5h-9.1zM379 1535.5h9.1v6.5h-9.1zM406.3 1535.5h9.1v6.5h-9.1zM415.4 1535.5h9.1v6.5h-9.1zM379 1542h9.1v6.5h-9.1zM388.1 1542h9.1v6.5h-9.1zM406.3 1542h9.1v6.5h-9.1zM515.6 1542h9.1v6.5h-9.1zM388.1 1548.5h9.1v6.5h-9.1zM406.3 1548.5h9.1v6.5h-9.1zM488.3 1548.5h9.1v6.5h-9.1zM515.6 1548.5h9.1v6.5h-9.1zM579.4 1548.5h9.1v6.5h-9.1zM388.1 1555h9.1v6.5h-9.1zM488.3 1555h9.1v6.5h-9.1zM515.6 1555h9.1v6.5h-9.1zM579.4 1555h9.1v6.5h-9.1zM488.3 1568h9.1v6.5h-9.1zM369.9 1574.5h9.1v6.5h-9.1zM488.3 1574.5h9.1v6.5h-9.1zM278.8 1581h9.1v6.5h-9.1zM488.3 1581h9.1v6.5h-9.1zM251.5 1587.5h9.1v6.5h-9.1zM488.3 1587.5h9.1v6.5h-9.1zM515.6 1587.5h9.1v6.5h-9.1z" fill="#e2e2fc"/>
<path d="M133 1217h9.1v6.5h-9.1zM142.1 1217h9.1v6.5h-9.1zM160.4 1217h9.1v6.5h-9.1zM169.5 1217h9.1v6.5h-9.1zM205.9 1217h9.1v6.5h-9.1zM133 1223.5h9.1v6.5h-9.1zM142.1 1223.5h9.1v6.5h-9.1zM160.4 1223.5h9.1v6.5h-9.1zM169.5 1223.5h9.1v6.5h-9.1zM205.9 1223.5h9.1v6.5h-9.1zM133 1230h9.1v6.5h-9.1zM142.1 1230h9.1v6.5h-9.1zM160.4 1230h9.1v6.5h-9.1zM205.9 1230h9.1v6.5h-9.1zM96.6 1236.5h9.1v6.5h-9.1zM123.9 1236.5h9.1v6.5h-9.1zM133 1236.5h9.1v6.5h-9.1zM160.4 1236.5h9.1v6.5h-9.1zM187.7 1236.5h9.1v6.5h-9.1zM205.9 1236.5h9.1v6.5h-9.1zM96.6 1243h9.1v6.5h-9.1zM123.9 1243h9.1v6.5h-9.1zM133 1243h9.1v6.5h-9.1zM187.7 1243h9.1v6.5h-9.1zM196.8 1243h9.1v6.5h-9.1zM205.9 1243h9.1v6.5h-9.1zM96.6 1249.5h9.1v6.5h-9.1zM133 1249.5h9.1v6.5h-9.1zM196.8 1249.5h9.1v6.5h-9.1zM205.9 1249.5h9.1v6.5h-9.1zM96.6 1256h9.1v6.5h-9.1zM133 1256h9.1v6.5h-9.1zM196.8 1256h9.1v6.5h-9.1zM205.9 1256h9.1v6.5h-9.1zM96.6 1262.5h9.1v6.5h-9.1zM133 1262.5h9.1v6.5h-9.1zM196.8 1262.5h9.1v6.5h-9.1zM205.9 1262.5h9.1v6.5h-9.1zM96.6 1269h9.1v6.5h-9.1zM133 1269h9.1v6.5h-9.1zM196.8 1269h9.1v6.5h-9.1zM205.9 1269h9.1v6.5h-9.1zM196.8 1275.5h9.1v6.5h-9.1zM205.9 1275.5h9.1v6.5h-9.1zM215 1275.5h9.1v6.5h-9.1zM196.8 1282h9.1v6.5h-9.1zM205.9 1282h9.1v6.5h-9.1zM196.8 1288.5h9.1v6.5h-9.1zM205.9 1288.5h9.1v6.5h-9.1zM196.8 1295h9.1v6.5h-9.1zM205.9 1295h9.1v6.5h-9.1zM196.8 1301.5h9.1v6.5h-9.1zM205.9 1301.5h9.1v6.5h-9.1zM215 1301.5h9.1v6.5h-9.1zM224.1 1301.5h9.1v6.5h-9.1zM196.8 1308h9.1v6.5h-9.1zM205.9 1308h9.1v6.5h-9.1zM215 1308h9.1v6.5h-9.1zM224.1 1308h9.1v6.5h-9.1zM196.8 1314.5h9.1v6.5h-9.1zM205.9 1314.5h9.1v6.5h-9.1zM215 1314.5h9.1v6.5h-9.1zM215 1321h9.1v6.5h-9.1zM215 1327.5h9.1v6.5h-9.1zM215 1334h9.1v6.5h-9.1z" fill="#ffffd0"/>
<path d="M196.8 1217h9.1v6.5h-9.1zM123.9 1223.5h9.1v6.5h-9.1zM196.8 1223.5h9.1v6.5h-9.1zM123.9 1230h9.1v6.5h-9.1zM169.5 1230h9.1v6.5h-9.1zM142.1 1236.5h9.1v6.5h-9.1zM169.5 1236.5h9.1v6.5h-9.1z" fill="#dcdcfb"/>
<path d="M215 1217h9.1v6.5h-9.1zM233.2 1217h9.1v6.5h-9.1zM242.4 1217h9.1v6.5h-9.1zM269.7 1217h9.1v6.5h-9.1zM278.8 1217h9.1v6.5h-9.1zM324.3 1217h9.1v6.5h-9.1zM342.6 1217h9.1v6.5h-9.1zM351.7 1217h9.1v6.5h-9.1zM397.2 1217h9.1v6.5h-9.1zM424.5 1217h9.1v6.5h-9.1zM433.7 1217h9.1v6.5h-9.1zM488.3 1217h9.1v6.5h-9.1zM533.9 1217h9.1v6.5h-9.1zM552.1 1217h9.1v6.5h-9.1zM561.2 1217h9.1v6.5h-9.1zM570.3 1217h9.1v6.5h-9.1zM606.7 1217h9.1v6.5h-9.1zM652.3 1217h9.1v6.5h-9.1zM215 1223.5h9.1v6.5h-9.1zM278.8 1223.5h9.1v6.5h-9.1zM297 1223.5h9.1v6.5h-9.1zM324.3 1223.5h9.1v6.5h-9.1zM342.6 1223.5h9.1v6.5h-9.1zM351.7 1223.5h9.1v6.5h-9.1zM360.8 1223.5h9.1v6.5h-9.1zM433.7 1223.5h9.1v6.5h-9.1zM451.9 1223.5h9.1v6.5h-9.1zM488.3 1223.5h9.1v6.5h-9.1zM533.9 1223.5h9.1v6.5h-9.1zM552.1 1223.5h9.1v6.5h-9.1zM570.3 1223.5h9.1v6.5h-9.1zM606.7 1223.5h9.1v6.5h-9.1zM615.9 1223.5h9.1v6.5h-9.1zM215 1230h9.1v6.5h-9.1zM278.8 1230h9.1v6.5h-9.1zM324.3 1230h9.1v6.5h-9.1zM342.6 1230h9.1v6.5h-9.1zM351.7 1230h9.1v6.5h-9.1zM360.8 1230h9.1v6.5h-9.1zM415.4 1230h9.1v6.5h-9.1zM506.5 1230h9.1v6.5h-9.1zM552.1 1230h9.1v6.5h-9.1zM570.3 1230h9.1v6.5h-9.1zM606.7 1230h9.1v6.5h-9.1zM615.9 1230h9.1v6.5h-9.1zM260.6 1236.5h9.1v6.5h-9.1zM324.3 1236.5h9.1v6.5h-9.1zM342.6 1236.5h9.1v6.5h-9.1zM351.7 1236.5h9.1v6.5h-9.1zM360.8 1236.5h9.1v6.5h-9.1zM415.4 1236.5h9.1v6.5h-9.1zM442.8 1236.5h9.1v6.5h-9.1zM506.5 1236.5h9.1v6.5h-9.1zM552.1 1236.5h9.1v6.5h-9.1zM570.3 1236.5h9.1v6.5h-9.1zM597.6 1236.5h9.1v6.5h-9.1zM606.7 1236.5h9.1v6.5h-9.1zM615.9 1236.5h9.1v6.5h-9.1zM260.6 1243h9.1v6.5h-9.1zM324.3 1243h9.1v6.5h-9.1zM333.5 1243h9.1v6.5h-9.1zM351.7 1243h9.1v6.5h-9.1zM360.8 1243h9.1v6.5h-9.1zM415.4 1243h9.1v6.5h-9.1zM424.5 1243h9.1v6.5h-9.1zM433.7 1243h9.1v6.5h-9.1zM442.8 1243h9.1v6.5h-9.1zM451.9 1243h9.1v6.5h-9.1zM506.5 1243h9.1v6.5h-9.1zM552.1 1243h9.1v6.5h-9.1zM570.3 1243h9.1v6.5h-9.1zM597.6 1243h9.1v6.5h-9.1zM606.7 1243h9.1v6.5h-9.1zM615.9 1243h9.1v6.5h-9.1zM260.6 1249.5h9.1v6.5h-9.1zM360.8 1249.5h9.1v6.5h-9.1zM369.9 1249.5h9.1v6.5h-9.1zM415.4 1249.5h9.1v6.5h-9.1zM424.5 1249.5h9.1v6.5h-9.1zM442.8 1249.5h9.1v6.5h-9.1zM451.9 1249.5h9.1v6.5h-9.1zM506.5 1249.5h9.1v6.5h-9.1zM606.7 1249.5h9.1v6.5h-9.1zM260.6 1256h9.1v6.5h-9.1zM415.4 1256h9.1v6.5h-9.1zM424.5 1256h9.1v6.5h-9.1zM442.8 1256h9.1v6.5h-9.1zM451.9 1256h9.1v6.5h-9.1zM506.5 1256h9.1v6.5h-9.1zM606.7 1256h9.1v6.5h-9.1zM415.4 1262.5h9.1v6.5h-9.1zM424.5 1262.5h9.1v6.5h-9.1zM442.8 1262.5h9.1v6.5h-9.1zM451.9 1262.5h9.1v6.5h-9.1zM506.5 1262.5h9.1v6.5h-9.1zM606.7 1262.5h9.1v6.5h-9.1zM415.4 1269h9.1v6.5h-9.1zM424.5 1269h9.1v6.5h-9.1zM433.7 1269h9.1v6.5h-9.1zM442.8 1269h9.1v6.5h-9.1zM451.9 1269h9.1v6.5h-9.1zM506.5 1269h9.1v6.5h-9.1zM606.7 1269h9.1v6.5h-9.1zM415.4 1275.5h9.1v6.5h-9.1zM424.5 1275.5h9.1v6.5h-9.1zM433.7 1275.5h9.1v6.5h-9.1zM442.8 1275.5h9.1v6.5h-9.1zM451.9 1275.5h9.1v6.5h-9.1zM506.5 1275.5h9.1v6.5h-9.1zM515.6 1275.5h9.1v6.5h-9.1zM606.7 1275.5h9.1v6.5h-9.1zM415.4 1282h9.1v6.5h-9.1zM424.5 1282h9.1v6.5h-9.1zM451.9 1282h9.1v6.5h-9.1zM506.5 1282h9.1v6.5h-9.1zM515.6 1282h9.1v6.5h-9.1zM606.7 1282h9.1v6.5h-9.1zM415.4 1288.5h9.1v6.5h-9.1zM451.9 1288.5h9.1v6.5h-9.1zM506.5 1288.5h9.1v6.5h-9.1zM515.6 1288.5h9.1v6.5h-9.1zM415.4 1295h9.1v6.5h-9.1zM506.5 1295h9.1v6.5h-9.1zM515.6 1295h9.1v6.5h-9.1zM415.4 1301.5h9.1v6.5h-9.1zM506.5 1301.5h9.1v6.5h-9.1zM515.6 1301.5h9.1v6.5h-9.1zM524.8 1301.5h9.1v6.5h-9.1zM533.9 1301.5h9.1v6.5h-9.1zM415.4 1308h9.1v6.5h-9.1zM506.5 1308h9.1v6.5h-9.1zM515.6 1308h9.1v6.5h-9.1zM524.8 1308h9.1v6.5h-9.1zM506.5 1314.5h9.1v6.5h-9.1zM515.6 1314.5h9.1v6.5h-9.1zM506.5 1321h9.1v6.5h-9.1zM515.6 1321h9.1v6.5h-9.1zM515.6 1327.5h9.1v6.5h-9.1z" fill="#ffffe0"/>
<path d="M224.1 1217h9.1v6.5h-9.1zM306.1 1217h9.1v6.5h-9.1zM406.3 1217h9.1v6.5h-9.1zM442.8 1217h9.1v6.5h-9.1zM479.2 1217h9.1v6.5h-9.1zM579.4 1217h9.1v6.5h-9.1zM597.6 1217h9.1v6.5h-9.1zM224.1 1223.5h9.1v6.5h-9.1zM260.6 1223.5h9.1v6.5h-9.1zM306.1 1223.5h9.1v6.5h-9.1zM315.2 1223.5h9.1v6.5h-9.1zM397.2 1223.5h9.1v6.5h-9.1zM406.3 1223.5h9.1v6.5h-9.1zM442.8 1223.5h9.1v6.5h-9.1zM479.2 1223.5h9.1v6.5h-9.1zM597.6 1223.5h9.1v6.5h-9.1zM224.1 1230h9.1v6.5h-9.1zM233.2 1230h9.1v6.5h-9.1zM260.6 1230h9.1v6.5h-9.1zM306.1 1230h9.1v6.5h-9.1zM315.2 1230h9.1v6.5h-9.1zM333.5 1230h9.1v6.5h-9.1zM397.2 1230h9.1v6.5h-9.1zM433.7 1230h9.1v6.5h-9.1zM442.8 1230h9.1v6.5h-9.1zM497.4 1230h9.1v6.5h-9.1zM597.6 1230h9.1v6.5h-9.1zM233.2 1236.5h9.1v6.5h-9.1zM306.1 1236.5h9.1v6.5h-9.1zM315.2 1236.5h9.1v6.5h-9.1zM333.5 1236.5h9.1v6.5h-9.1zM397.2 1236.5h9.1v6.5h-9.1zM433.7 1236.5h9.1v6.5h-9.1zM497.4 1236.5h9.1v6.5h-9.1zM233.2 1243h9.1v6.5h-9.1zM306.1 1243h9.1v6.5h-9.1zM315.2 1243h9.1v6.5h-9.1zM233.2 1249.5h9.1v6.5h-9.1zM306.1 1249.5h9.1v6.5h-9.1zM315.2 1249.5h9.1v6.5h-9.1zM233.2 1256h9.1v6.5h-9.1zM242.4 1256h9.1v6.5h-9.1zM306.1 1256h9.1v6.5h-9.1zM315.2 1256h9.1v6.5h-9.1zM233.2 1262.5h9.1v6.5h-9.1zM242.4 1262.5h9.1v6.5h-9.1zM306.1 1262.5h9.1v6.5h-9.1zM233.2 1269h9.1v6.5h-9.1zM242.4 1269h9.1v6.5h-9.1zM233.2 1275.5h9.1v6.5h-9.1zM242.4 1275.5h9.1v6.5h-9.1zM233.2 1282h9.1v6.5h-9.1zM242.4 1282h9.1v6.5h-9.1zM233.2 1288.5h9.1v6.5h-9.1zM242.4 1288.5h9.1v6.5h-9.1z" fill="#e6e6fc"/>
<path d="M251.5 1217h9.1v6.5h-9.1zM260.6 1217h9.1v6.5h-9.1zM287.9 1217h9.1v6.5h-9.1zM315.2 1217h9.1v6.5h-9.1zM369.9 1217h9.1v6.5h-9.1zM388.1 1217h9.1v6.5h-9.1zM451.9 1217h9.1v6.5h-9.1zM524.8 1217h9.1v6.5h-9.1zM543 1217h9.1v6.5h-9.1zM615.9 1217h9.1v6.5h-9.1zM625 1217h9.1v6.5h-9.1zM643.2 1217h9.1v6.5h-9.1zM233.2 1223.5h9.1v6.5h-9.1zM251.5 1223.5h9.1v6.5h-9.1zM269.7 1223.5h9.1v6.5h-9.1zM287.9 1223.5h9.1v6.5h-9.1zM369.9 1223.5h9.1v6.5h-9.1zM388.1 1223.5h9.1v6.5h-9.1zM415.4 1223.5h9.1v6.5h-9.1zM470.1 1223.5h9.1v6.5h-9.1zM524.8 1223.5h9.1v6.5h-9.1zM543 1223.5h9.1v6.5h-9.1zM625 1223.5h9.1v6.5h-9.1zM643.2 1223.5h9.1v6.5h-9.1zM652.3 1223.5h9.1v6.5h-9.1zM251.5 1230h9.1v6.5h-9.1zM269.7 1230h9.1v6.5h-9.1zM287.9 1230h9.1v6.5h-9.1zM297 1230h9.1v6.5h-9.1zM379 1230h9.1v6.5h-9.1zM388.1 1230h9.1v6.5h-9.1zM406.3 1230h9.1v6.5h-9.1zM524.8 1230h9.1v6.5h-9.1zM543 1230h9.1v6.5h-9.1zM561.2 1230h9.1v6.5h-9.1zM579.4 1230h9.1v6.5h-9.1zM625 1230h9.1v6.5h-9.1zM634.1 1230h9.1v6.5h-9.1zM643.2 1230h9.1v6.5h-9.1zM652.3 1230h9.1v6.5h-9.1zM251.5 1236.5h9.1v6.5h-9.1zM269.7 1236.5h9.1v6.5h-9.1zM278.8 1236.5h9.1v6.5h-9.1zM287.9 1236.5h9.1v6.5h-9.1zM379 1236.5h9.1v6.5h-9.1zM388.1 1236.5h9.1v6.5h-9.1zM406.3 1236.5h9.1v6.5h-9.1zM488.3 1236.5h9.1v6.5h-9.1zM524.8 1236.5h9.1v6.5h-9.1zM543 1236.5h9.1v6.5h-9.1zM561.2 1236.5h9.1v6.5h-9.1zM579.4 1236.5h9.1v6.5h-9.1zM625 1236.5h9.1v6.5h-9.1zM634.1 1236.5h9.1v6.5h-9.1zM643.2 1236.5h9.1v6.5h-9.1zM652.3 1236.5h9.1v6.5h-9.1z" fill="#ffffa4"/>
<path d="M333.5 1217h9.1v6.5h-9.1zM515.6 1217h9.1v6.5h-9.1zM634.1 1217h9.1v6.5h-9.1zM242.4 1223.5h9.1v6.5h-9.1zM333.5 1223.5h9.1v6.5h-9.1zM515.6 1223.5h9.1v6.5h-9.1zM242.4 1230h9.1v6.5h-9.1zM515.6 1230h9.1v6.5h-9.1zM215 1236.5h9.1v6.5h-9.1zM242.4 1236.5h9.1v6.5h-9.1zM424.5 1236.5h9.1v6.5h-9.1zM515.6 1236.5h9.1v6.5h-9.1zM533.9 1236.5h9.1v6.5h-9.1z" fill="#ffff78"/>
<path d="M424.5 1490h9.1v6.5h-9.1zM451.9 1490h9.1v6.5h-9.1zM461 1490h9.1v6.5h-9.1zM479.2 1490h9.1v6.5h-9.1zM497.4 1490h9.1v6.5h-9.1zM515.6 1490h9.1v6.5h-9.1zM543 1490h9.1v6.5h-9.1zM552.1 1490h9.1v6.5h-9.1zM579.4 1490h9.1v6.5h-9.1zM588.5 1490h9.1v6.5h-9.1zM606.7 1490h9.1v6.5h-9.1zM615.9 1490h9.1v6.5h-9.1zM415.4 1496.5h9.1v6.5h-9.1zM433.7 1496.5h9.1v6.5h-9.1zM461 1496.5h9.1v6.5h-9.1zM470.1 1496.5h9.1v6.5h-9.1zM515.6 1496.5h9.1v6.5h-9.1zM543 1496.5h9.1v6.5h-9.1zM415.4 1503h9.1v6.5h-9.1zM424.5 1503h9.1v6.5h-9.1zM451.9 1503h9.1v6.5h-9.1zM461 1503h9.1v6.5h-9.1zM470.1 1503h9.1v6.5h-9.1zM497.4 1503h9.1v6.5h-9.1zM506.5 1503h9.1v6.5h-9.1zM552.1 1503h9.1v6.5h-9.1zM625 1503h9.1v6.5h-9.1zM643.2 1503h9.1v6.5h-9.1zM442.8 1509.5h9.1v6.5h-9.1zM451.9 1509.5h9.1v6.5h-9.1zM461 1509.5h9.1v6.5h-9.1zM506.5 1509.5h9.1v6.5h-9.1zM515.6 1509.5h9.1v6.5h-9.1zM543 1509.5h9.1v6.5h-9.1zM561.2 1509.5h9.1v6.5h-9.1zM579.4 1509.5h9.1v6.5h-9.1zM588.5 1509.5h9.1v6.5h-9.1zM597.6 1509.5h9.1v6.5h-9.1zM615.9 1509.5h9.1v6.5h-9.1zM634.1 1509.5h9.1v6.5h-9.1zM643.2 1509.5h9.1v6.5h-9.1zM424.5 1516h9.1v6.5h-9.1zM451.9 1516h9.1v6.5h-9.1zM479.2 1516h9.1v6.5h-9.1zM552.1 1516h9.1v6.5h-9.1zM588.5 1516h9.1v6.5h-9.1zM615.9 1516h9.1v6.5h-9.1zM625 1516h9.1v6.5h-9.1z" fill="#9c9cf0"/>
<path d="M442.8 1490h9.1v6.5h-9.1zM506.5 1490h9.1v6.5h-9.1zM524.8 1490h9.1v6.5h-9.1zM561.2 1490h9.1v6.5h-9.1zM424.5 1496.5h9.1v6.5h-9.1zM488.3 1496.5h9.1v6.5h-9.1zM506.5 1496.5h9.1v6.5h-9.1zM579.4 1496.5h9.1v6.5h-9.1zM588.5 1496.5h9.1v6.5h-9.1zM615.9 1496.5h9.1v6.5h-9.1zM433.7 1503h9.1v6.5h-9.1zM479.2 1503h9.1v6.5h-9.1zM488.3 1503h9.1v6.5h-9.1zM570.3 1503h9.1v6.5h-9.1zM588.5 1503h9.1v6.5h-9.1zM634.1 1503h9.1v6.5h-9.1zM652.3 1503h9.1v6.5h-9.1zM470.1 1509.5h9.1v6.5h-9.1zM524.8 1509.5h9.1v6.5h-9.1zM533.9 1509.5h9.1v6.5h-9.1zM552.1 1509.5h9.1v6.5h-9.1zM625 1509.5h9.1v6.5h-9.1zM442.8 1516h9.1v6.5h-9.1zM506.5 1516h9.1v6.5h-9.1zM533.9 1516h9.1v6.5h-9.1zM543 1516h9.1v6.5h-9.1zM597.6 1516h9.1v6.5h-9.1z" fill="#c4c4f8"/>
<rect x="96.6" y="1265.2" width="45.5" height="20.5" fill="#ffffaa"/>
<rect x="588.5" y="1219.1" width="18.2" height="20.5" fill="#ffffaa"/>
<rect x="570.3" y="1191.7" width="18.2" height="17.1" fill="#ffffaa"/>
<rect x="497.4" y="1191.7" width="27.3" height="17.1" fill="#ffffcc"/>
<rect x="479.2" y="1338.8" width="18.2" height="27.4" fill="#ffffaa"/>
<rect x="442.8" y="1340.5" width="18.2" height="17.1" fill="#ffffaa"/>
<rect x="570.3" y="1367.8" width="18.2" height="10.3" fill="#ffffaa"/>
<rect x="169.5" y="1544.2" width="36.4" height="10.3" fill="#ffffaa"/>
<rect x="178.6" y="1477.5" width="9.1" height="12" fill="#ffffaa"/>
<rect x="123.9" y="1404" width="9.1" height="13.7" fill="#ffffaa"/>
<rect x="424.5" y="1516.8" width="63.8" height="5.1" fill="#ffffaa"/>
<rect x="96.6" y="1217.4" width="9.1" height="25.6" fill="#ffff84"/>
<rect x="105.7" y="1217.4" width="27.3" height="13.7" fill="#d2d2fb"/>
<rect x="142.1" y="1219.1" width="9.1" height="20.5" fill="#ffff84"/>
<rect x="215" y="1232.7" width="9.1" height="8.5" fill="#d2d2fb"/>
<rect x="287.9" y="1213.9" width="9.1" height="25.6" fill="#ffff84"/>
<rect x="315.2" y="1215.6" width="18.2" height="23.9" fill="#ffff84"/>
<rect x="342.6" y="1217.4" width="18.2" height="22.2" fill="#ffff84"/>
<rect x="342.6" y="1306.3" width="9.1" height="15.4" fill="#ffff84"/>
<rect x="105.7" y="1367.8" width="18.2" height="10.3" fill="#d2d2fb"/>
<rect x="151.3" y="1367.8" width="18.2" height="8.5" fill="#d2d2fb"/>
<rect x="242.4" y="1217.4" width="27.3" height="22.2" fill="#ffff84"/>
<rect x="543" y="1337.1" width="9.1" height="22.2" fill="#d2d2fb"/>
<rect x="388.1" y="1359.3" width="18.2" height="6.8" fill="#d2d2fb"/>
<rect x="588.5" y="1379.8" width="9.1" height="12.1" fill="#d2d2fb"/>
<rect x="388.1" y="1378.1" width="9.1" height="13.9" fill="#d2d2fb"/>
<rect x="397.2" y="1215.6" width="9.1" height="23.9" fill="#d2d2fb"/>
<rect x="579.4" y="1292.6" width="9.1" height="13.7" fill="#d2d2fb"/>
<rect x="533.9" y="1217.4" width="18.2" height="22.2" fill="#ffff84"/>
<rect x="570.3" y="1217.4" width="18.2" height="22.2" fill="#ffff84"/>
<rect x="388.1" y="1217.4" width="9.1" height="22.2" fill="#ffff84"/>
<rect x="415.4" y="1289.2" width="9.1" height="30.8" fill="#ffff84"/>
<rect x="479.2" y="1292.6" width="18.2" height="13.7" fill="#ffff84"/>
<rect x="588.5" y="1306.3" width="9.1" height="13.7" fill="#ffff84"/>
<rect x="643.2" y="1308" width="9.1" height="13.7" fill="#ffff84"/>
<rect x="524.8" y="1344.8" width="9.1" height="16.2" fill="#ffff84"/>
<rect x="552.1" y="1340.5" width="9.1" height="17.1" fill="#ffff84"/>
<rect x="524.8" y="1367.8" width="27.3" height="10.3" fill="#ffff84"/>
<rect x="433.7" y="1265.2" width="9.1" height="6" fill="#ffff84"/>
<rect x="588.5" y="1266.1" width="9.1" height="5.1" fill="#ffff84"/>
<rect x="297" y="1398.8" width="9.1" height="15.4" fill="#d2d2fb"/>
<rect x="169.5" y="1463.8" width="9.1" height="13.7" fill="#d2d2fb"/>
<rect x="196.8" y="1490.3" width="9.1" height="21.4" fill="#d2d2fb"/>
<rect x="351.7" y="1490.3" width="9.1" height="18" fill="#d2d2fb"/>
<rect x="178.6" y="1516.8" width="9.1" height="6.8" fill="#d2d2fb"/>
<rect x="133" y="1556.2" width="18.2" height="13.7" fill="#d2d2fb"/>
<rect x="123.9" y="1581.8" width="9.1" height="12.1" fill="#d2d2fb"/>
<rect x="123.9" y="1421.1" width="9.1" height="22.2" fill="#d2d2fb"/>
<rect x="96.6" y="1516.8" width="72.9" height="8.5" fill="#ffff84"/>
<rect x="96.6" y="1543.3" width="36.4" height="12.8" fill="#ffff84"/>
<rect x="151.3" y="1544.2" width="9.1" height="25.6" fill="#ffff84"/>
<rect x="224.1" y="1556.2" width="9.1" height="13.7" fill="#ffff84"/>
<rect x="269.7" y="1460.4" width="18.2" height="5.1" fill="#ffff84"/>
<rect x="315.2" y="1530.5" width="9.1" height="12" fill="#ffff84"/>
<rect x="324.3" y="1460.4" width="9.1" height="6.8" fill="#ffff84"/>
<rect x="233.2" y="1530.5" width="9.1" height="6.8" fill="#ffff84"/>
<rect x="369.9" y="1407.4" width="9.1" height="6.8" fill="#ffff84"/>
<rect x="369.9" y="1443.3" width="9.1" height="6.8" fill="#ffff84"/>
<rect x="442.8" y="1398.8" width="9.1" height="20.5" fill="#ffff84"/>
<rect x="397.2" y="1392" width="9.1" height="10.3" fill="#ffff84"/>
<rect x="479.2" y="1420.2" width="9.1" height="6" fill="#ffff84"/>
<rect x="579.4" y="1398" width="9.1" height="4.3" fill="#ffff84"/>
<rect x="643.2" y="1398.8" width="9.1" height="6.8" fill="#ffff84"/>
<rect x="634.1" y="1422.8" width="9.1" height="13.7" fill="#ffff84"/>
<rect x="615.9" y="1451" width="9.1" height="7.7" fill="#ffff84"/>
<rect x="643.2" y="1451" width="9.1" height="12.8" fill="#ffff84"/>
<rect x="433.7" y="1542.5" width="27.3" height="27.4" fill="#ffff84"/>
<rect x="96.6" y="1191.7" width="9.1" height="22.2" fill="#b4b4f6"/>
<rect x="96.6" y="1250.7" width="9.1" height="9.4" fill="#b4b4f6"/>
<rect x="96.6" y="1381.5" width="9.1" height="10.4" fill="#b4b4f6"/>
<rect x="151.3" y="1215.6" width="18.2" height="15.4" fill="#b4b4f6"/>
<rect x="178.6" y="1215.6" width="18.2" height="15.4" fill="#b4b4f6"/>
<rect x="169.5" y="1198.5" width="9.1" height="15.4" fill="#b4b4f6"/>
<rect x="142.1" y="1291.7" width="9.1" height="5.1" fill="#ffff58"/>
<rect x="215" y="1191.7" width="9.1" height="15.4" fill="#b4b4f6"/>
<rect x="205.9" y="1313.1" width="18.2" height="8.5" fill="#b4b4f6"/>
<rect x="242.4" y="1341.3" width="18.2" height="16.2" fill="#ffff58"/>
<rect x="260.6" y="1210.2" width="9.1" height="2.9" fill="#b4b4f6"/>
<rect x="260.6" y="1309.7" width="18.2" height="10.3" fill="#ffff58"/>
<rect x="269.7" y="1367.8" width="9.1" height="8.5" fill="#ffff58"/>
<rect x="287.9" y="1306.3" width="9.1" height="15.4" fill="#ffff58"/>
<rect x="297" y="1208.8" width="9.1" height="20.5" fill="#b4b4f6"/>
<rect x="324.3" y="1378.1" width="9.1" height="13.9" fill="#b4b4f6"/>
<rect x="342.6" y="1340.5" width="9.1" height="17.1" fill="#ffff58"/>
<rect x="242.4" y="1324.2" width="9.1" height="9.4" fill="#b4b4f6"/>
<rect x="306.1" y="1367.8" width="9.1" height="12" fill="#ffff58"/>
<rect x="360.8" y="1341.3" width="9.1" height="3.4" fill="#b4b4f6"/>
<rect x="324.3" y="1360.1" width="9.1" height="6" fill="#b4b4f6"/>
<rect x="360.8" y="1362.7" width="9.1" height="3.4" fill="#b4b4f6"/>
<rect x="123.9" y="1341.3" width="9.1" height="3.4" fill="#b4b4f6"/>
<rect x="187.7" y="1367.8" width="9.1" height="8.5" fill="#b4b4f6"/>
<rect x="205.9" y="1369.5" width="18.2" height="8.5" fill="#b4b4f6"/>
<rect x="597.6" y="1193.4" width="9.1" height="20.5" fill="#b4b4f6"/>
<rect x="643.2" y="1202" width="9.1" height="12" fill="#b4b4f6"/>
<rect x="579.4" y="1243.9" width="9.1" height="5.1" fill="#b4b4f6"/>
<rect x="388.1" y="1266.1" width="9.1" height="19.7" fill="#b4b4f6"/>
<rect x="479.2" y="1273.8" width="9.1" height="17.1" fill="#b4b4f6"/>
<rect x="588.5" y="1323.4" width="9.1" height="10.3" fill="#b4b4f6"/>
<rect x="634.1" y="1340.5" width="9.1" height="18.8" fill="#b4b4f6"/>
<rect x="424.5" y="1359.3" width="9.1" height="7.7" fill="#b4b4f6"/>
<rect x="479.2" y="1379" width="9.1" height="13" fill="#b4b4f6"/>
<rect x="652.3" y="1290.9" width="9.1" height="15.4" fill="#b4b4f6"/>
<rect x="634.1" y="1217.4" width="18.2" height="20.5" fill="#ffff58"/>
<rect x="224.1" y="1398.8" width="18.2" height="18.8" fill="#b4b4f6"/>
<rect x="369.9" y="1414.2" width="9.1" height="5.1" fill="#b4b4f6"/>
<rect x="215" y="1422.8" width="9.1" height="8.5" fill="#b4b4f6"/>
<rect x="205.9" y="1451" width="27.3" height="12.8" fill="#b4b4f6"/>
<rect x="324.3" y="1451" width="9.1" height="7.7" fill="#b4b4f6"/>
<rect x="324.3" y="1468.1" width="9.1" height="9.4" fill="#b4b4f6"/>
<rect x="224.1" y="1467.2" width="9.1" height="37.6" fill="#b4b4f6"/>
<rect x="169.5" y="1525.4" width="9.1" height="13.7" fill="#b4b4f6"/>
<rect x="224.1" y="1538.2" width="9.1" height="5.1" fill="#b4b4f6"/>
<rect x="215" y="1556.2" width="9.1" height="13.7" fill="#b4b4f6"/>
<rect x="96.6" y="1586.9" width="9.1" height="7" fill="#b4b4f6"/>
<rect x="369.9" y="1586.9" width="9.1" height="7" fill="#b4b4f6"/>
<rect x="96.6" y="1392" width="9.1" height="5.1" fill="#b4b4f6"/>
<rect x="224.1" y="1544.2" width="27.3" height="12" fill="#ffff58"/>
<rect x="269.7" y="1424.5" width="9.1" height="8.5" fill="#ffff58"/>
<rect x="324.3" y="1491.2" width="9.1" height="12" fill="#ffff58"/>
<rect x="479.2" y="1392" width="9.1" height="6" fill="#b4b4f6"/>
<rect x="388.1" y="1392" width="9.1" height="5.1" fill="#b4b4f6"/>
<rect x="588.5" y="1392" width="9.1" height="5.1" fill="#b4b4f6"/>
<rect x="652.3" y="1419.4" width="9.1" height="23.9" fill="#b4b4f6"/>
<rect x="497.4" y="1437.3" width="9.1" height="4.3" fill="#b4b4f6"/>
<rect x="388.1" y="1451" width="9.1" height="7.7" fill="#b4b4f6"/>
<rect x="442.8" y="1460.4" width="18.2" height="27.4" fill="#b4b4f6"/>
<rect x="461" y="1490.3" width="9.1" height="24.8" fill="#b4b4f6"/>
<rect x="388.1" y="1490.3" width="9.1" height="7.7" fill="#b4b4f6"/>
<rect x="388.1" y="1525.4" width="9.1" height="3.4" fill="#b4b4f6"/>
<rect x="579.4" y="1556.2" width="9.1" height="12" fill="#b4b4f6"/>
<rect x="615.9" y="1556.2" width="18.2" height="10.3" fill="#b4b4f6"/>
<rect x="424.5" y="1546.8" width="9.1" height="5.1" fill="#b4b4f6"/>
<rect x="652.3" y="1581.8" width="9.1" height="12.1" fill="#b4b4f6"/>
<rect x="415.4" y="1579.2" width="9.1" height="2.6" fill="#b4b4f6"/>
<rect x="615.9" y="1578.4" width="9.1" height="3.4" fill="#b4b4f6"/>
<rect x="479.2" y="1556.2" width="9.1" height="6.8" fill="#ffff58"/>
<rect x="488.3" y="1564.7" width="9.1" height="4.3" fill="#ffff58"/>
<rect x="552.1" y="1556.2" width="9.1" height="12.8" fill="#ffff58"/>
<rect x="570.3" y="1559.6" width="9.1" height="5.1" fill="#ffff58"/>
<rect x="597.6" y="1569" width="9.1" height="8.5" fill="#ffff58"/>
<rect x="433.7" y="1578.4" width="9.1" height="15.6" fill="#ffff58"/>
<rect x="388.1" y="1528.8" width="9.1" height="6.8" fill="#ffff58"/>
<rect x="224.1" y="1218.2" width="18.2" height="21.4" fill="#ffff2c"/>
<rect x="269.7" y="1215.6" width="9.1" height="8.5" fill="#ffff00"/>
<rect x="315.2" y="1306.3" width="18.2" height="15.4" fill="#ffff2c"/>
<rect x="442.8" y="1217.4" width="36.4" height="22.2" fill="#ffff2c"/>
<rect x="497.4" y="1217.4" width="18.2" height="22.2" fill="#ffff00"/>
<rect x="606.7" y="1215.6" width="9.1" height="23.9" fill="#ffff2c"/>
<rect x="506.5" y="1308" width="9.1" height="13.7" fill="#ffff2c"/>
<rect x="543" y="1306.3" width="9.1" height="16.2" fill="#ffff2c"/>
<rect x="415.4" y="1367.8" width="18.2" height="12" fill="#ffff2c"/>
<rect x="269.7" y="1397.1" width="9.1" height="5.1" fill="#ffff2c"/>
<rect x="579.4" y="1480.9" width="9.1" height="5.1" fill="#ffff2c"/>
<rect x="451.9" y="1542.5" width="9.1" height="13.7" fill="#ffff2c"/>
<rect x="606.7" y="1556.2" width="9.1" height="12.8" fill="#ffff2c"/>
<rect x="215" y="1342.2" width="9.1" height="23.9" fill="#8d8df0"/>
<rect x="269.7" y="1276.4" width="9.1" height="9.4" fill="#8d8df0"/>
<rect x="269.7" y="1323.4" width="9.1" height="10.3" fill="#8d8df0"/>
<rect x="260.6" y="1361" width="18.2" height="5.1" fill="#8d8df0"/>
<rect x="324.3" y="1323.4" width="18.2" height="10.3" fill="#8d8df0"/>
<rect x="324.3" y="1249" width="9.1" height="9.4" fill="#8d8df0"/>
<rect x="324.3" y="1273.8" width="9.1" height="10.3" fill="#8d8df0"/>
<rect x="369.9" y="1292.6" width="9.1" height="10.3" fill="#8d8df0"/>
<rect x="369.9" y="1308" width="9.1" height="8.5" fill="#8d8df0"/>
<rect x="461" y="1191.7" width="9.1" height="22.2" fill="#8d8df0"/>
<rect x="388.1" y="1294.3" width="9.1" height="12" fill="#8d8df0"/>
<rect x="552.1" y="1378.1" width="9.1" height="5.1" fill="#8d8df0"/>
<rect x="369.9" y="1451" width="9.1" height="35.1" fill="#8d8df0"/>
<rect x="215" y="1477.5" width="18.2" height="12" fill="#8d8df0"/>
<rect x="251.5" y="1516.8" width="27.3" height="8.5" fill="#8d8df0"/>
<rect x="324.3" y="1504.9" width="9.1" height="20.5" fill="#8d8df0"/>
<rect x="625" y="1392" width="9.1" height="4.3" fill="#8d8df0"/>
<rect x="570.3" y="1408.2" width="9.1" height="11.1" fill="#8d8df0"/>
<rect x="479.2" y="1490.3" width="9.1" height="24.8" fill="#8d8df0"/>
<rect x="615.9" y="1490.3" width="9.1" height="12.8" fill="#8d8df0"/>
<rect x="488.3" y="1545" width="9.1" height="6.8" fill="#8d8df0"/>
<rect x="524.8" y="1544.2" width="9.1" height="8.5" fill="#8d8df0"/>
<rect x="570.3" y="1544.2" width="9.1" height="10.3" fill="#8d8df0"/>
<rect x="634.1" y="1544.2" width="9.1" height="8.5" fill="#8d8df0"/>
<rect x="215" y="1216.5" width="9.1" height="6" fill="#6e6eea"/>
<rect x="215" y="1290" width="9.1" height="7.7" fill="#6e6eea"/>
<rect x="269.7" y="1252.4" width="9.1" height="7.7" fill="#6e6eea"/>
<rect x="269.7" y="1266.1" width="9.1" height="4.3" fill="#6e6eea"/>
<rect x="287.9" y="1359.3" width="9.1" height="6.8" fill="#6e6eea"/>
<rect x="333.5" y="1191.7" width="9.1" height="3.4" fill="#6e6eea"/>
<rect x="615.9" y="1191.7" width="9.1" height="22.2" fill="#6e6eea"/>
<rect x="634.1" y="1191.7" width="27.3" height="10.3" fill="#6e6eea"/>
<rect x="524.8" y="1272.9" width="18.2" height="13.7" fill="#6e6eea"/>
<rect x="615.9" y="1266.1" width="18.2" height="19.7" fill="#6e6eea"/>
<rect x="643.2" y="1272.1" width="18.2" height="13.7" fill="#6e6eea"/>
<rect x="461" y="1359.3" width="9.1" height="7.7" fill="#6e6eea"/>
<rect x="506.5" y="1359.3" width="9.1" height="7.7" fill="#6e6eea"/>
<rect x="606.7" y="1360.1" width="9.1" height="6.8" fill="#6e6eea"/>
<rect x="652.3" y="1360.1" width="9.1" height="6.8" fill="#6e6eea"/>
<rect x="524.8" y="1378.1" width="18.2" height="6.8" fill="#6e6eea"/>
<rect x="625" y="1367.8" width="9.1" height="24.1" fill="#6e6eea"/>
<rect x="652.3" y="1255" width="9.1" height="10.3" fill="#6e6eea"/>
<rect x="215" y="1392.9" width="9.1" height="6" fill="#6e6eea"/>
<rect x="269.7" y="1404" width="9.1" height="15.4" fill="#6e6eea"/>
<rect x="324.3" y="1392" width="9.1" height="6.8" fill="#6e6eea"/>
<rect x="242.4" y="1437.3" width="9.1" height="4.3" fill="#6e6eea"/>
<rect x="242.4" y="1454.4" width="9.1" height="5.1" fill="#6e6eea"/>
<rect x="260.6" y="1490.3" width="9.1" height="35.1" fill="#6e6eea"/>
<rect x="360.8" y="1508.3" width="9.1" height="15.4" fill="#6e6eea"/>
<rect x="269.7" y="1539.1" width="9.1" height="17.1" fill="#6e6eea"/>
<rect x="215" y="1545" width="9.1" height="11.1" fill="#6e6eea"/>
<rect x="369.9" y="1564.7" width="9.1" height="4.3" fill="#6e6eea"/>
<rect x="224.1" y="1578.4" width="9.1" height="15.6" fill="#6e6eea"/>
<rect x="433.7" y="1392" width="9.1" height="6" fill="#6e6eea"/>
<rect x="634.1" y="1410.8" width="18.2" height="8.5" fill="#6e6eea"/>
<rect x="451.9" y="1451" width="9.1" height="12.8" fill="#6e6eea"/>
<rect x="470.1" y="1451" width="18.2" height="9.4" fill="#6e6eea"/>
<rect x="570.3" y="1451" width="9.1" height="9.4" fill="#6e6eea"/>
<rect x="625" y="1451" width="18.2" height="9.4" fill="#6e6eea"/>
<rect x="570.3" y="1464.7" width="9.1" height="12" fill="#6e6eea"/>
<rect x="634.1" y="1467.2" width="18.2" height="10.3" fill="#6e6eea"/>
<rect x="570.3" y="1503.1" width="18.2" height="22.2" fill="#6e6eea"/>
<rect x="488.3" y="1516.8" width="45.5" height="8.5" fill="#6e6eea"/>
<rect x="506.5" y="1545.9" width="9.1" height="10.3" fill="#6e6eea"/>
<rect x="588.5" y="1542.5" width="9.1" height="8.5" fill="#6e6eea"/>
<rect x="479.2" y="1581.8" width="18.2" height="11.1" fill="#6e6eea"/>
<rect x="524.8" y="1577.5" width="9.1" height="15.4" fill="#6e6eea"/>
<rect x="269.7" y="1296" width="9.1" height="10.3" fill="#5252e6"/>
<rect x="269.7" y="1379" width="9.1" height="6" fill="#5252e6"/>
<rect x="360.8" y="1211.4" width="9.1" height="4.3" fill="#8c8c9a"/>
<rect x="151.3" y="1378.1" width="9.1" height="3.4" fill="#8c8c9a"/>
<rect x="533.9" y="1191.7" width="9.1" height="17.1" fill="#5252e6"/>
<rect x="570.3" y="1250.7" width="9.1" height="9.4" fill="#5252e6"/>
<rect x="451.9" y="1273.8" width="9.1" height="12.8" fill="#5252e6"/>
<rect x="515.6" y="1266.1" width="9.1" height="5.1" fill="#5252e6"/>
<rect x="588.5" y="1273.8" width="18.2" height="13.7" fill="#5252e6"/>
<rect x="470.1" y="1327.7" width="18.2" height="6.8" fill="#5252e6"/>
<rect x="579.4" y="1360.1" width="9.1" height="7.7" fill="#5252e6"/>
<rect x="570.3" y="1378.1" width="9.1" height="4.3" fill="#8e8e62"/>
<rect x="597.6" y="1378.1" width="9.1" height="5.1" fill="#8e8e62"/>
<rect x="269.7" y="1435.6" width="9.1" height="7.7" fill="#5252e6"/>
<rect x="360.8" y="1457" width="9.1" height="6.8" fill="#5252e6"/>
<rect x="233.2" y="1503.1" width="9.1" height="22.2" fill="#5252e6"/>
<rect x="224.1" y="1504.9" width="18.2" height="10.3" fill="#5252e6"/>
<rect x="260.6" y="1540.8" width="9.1" height="3.4" fill="#8c8c9a"/>
<rect x="315.2" y="1549.3" width="9.1" height="4.3" fill="#8e8e62"/>
<rect x="251.5" y="1578.4" width="9.1" height="15.6" fill="#5252e6"/>
<rect x="506.5" y="1392" width="9.1" height="6" fill="#5252e6"/>
<rect x="497.4" y="1404.8" width="18.2" height="14.5" fill="#5252e6"/>
<rect x="515.6" y="1419.4" width="9.1" height="4.3" fill="#5252e6"/>
<rect x="606.7" y="1410.8" width="9.1" height="8.5" fill="#5252e6"/>
<rect x="470.1" y="1432.2" width="9.1" height="4.3" fill="#5252e6"/>
<rect x="506.5" y="1432.2" width="9.1" height="4.3" fill="#5252e6"/>
<rect x="524.8" y="1437.3" width="9.1" height="4.3" fill="#5252e6"/>
<rect x="625" y="1426.2" width="9.1" height="10.3" fill="#5252e6"/>
<rect x="552.1" y="1451" width="9.1" height="12.8" fill="#5252e6"/>
<rect x="424.5" y="1490.3" width="36.4" height="24.8" fill="#5252e6"/>
<rect x="497.4" y="1490.3" width="18.2" height="26.5" fill="#5252e6"/>
<rect x="524.8" y="1490.3" width="18.2" height="24.8" fill="#5252e6"/>
<rect x="552.1" y="1490.3" width="9.1" height="35.1" fill="#5252e6"/>
<rect x="588.5" y="1490.3" width="18.2" height="31.6" fill="#5252e6"/>
<rect x="606.7" y="1503.1" width="18.2" height="18.8" fill="#5252e6"/>
<rect x="634.1" y="1490.3" width="9.1" height="35.1" fill="#5252e6"/>
<rect x="625" y="1516" width="9.1" height="9.4" fill="#5252e6"/>
<rect x="552.1" y="1544.2" width="9.1" height="9.4" fill="#5252e6"/>
<rect x="606.7" y="1545" width="9.1" height="11.1" fill="#5252e6"/>
<rect x="524.8" y="1564.7" width="9.1" height="4.3" fill="#8c8c9a"/>
<rect x="470.1" y="1577.5" width="9.1" height="11.1" fill="#5252e6"/>
<rect x="233.2" y="1192.6" width="9.1" height="6.8" fill="#3434e2"/>
<rect x="233.2" y="1266.1" width="9.1" height="8.5" fill="#3434e2"/>
<rect x="260.6" y="1351.6" width="9.1" height="9.4" fill="#3434e2"/>
<rect x="269.7" y="1226.8" width="9.1" height="12.8" fill="#3434e2"/>
<rect x="442.8" y="1191.7" width="18.2" height="22.2" fill="#3434e2"/>
<rect x="470.1" y="1191.7" width="9.1" height="22.2" fill="#3434e2"/>
<rect x="433.7" y="1272.9" width="9.1" height="13.7" fill="#3434e2"/>
<rect x="497.4" y="1272.9" width="18.2" height="13.7" fill="#3434e2"/>
<rect x="533.9" y="1272.1" width="18.2" height="2.6" fill="#3434e2"/>
<rect x="570.3" y="1273.8" width="18.2" height="13.7" fill="#3434e2"/>
<rect x="606.7" y="1292.6" width="9.1" height="7.7" fill="#3434e2"/>
<rect x="515.6" y="1311.4" width="9.1" height="7.7" fill="#3434e2"/>
<rect x="570.3" y="1341.3" width="9.1" height="17.1" fill="#3434e2"/>
<rect x="597.6" y="1338.8" width="9.1" height="6" fill="#3434e2"/>
<rect x="652.3" y="1334.5" width="9.1" height="10.3" fill="#3434e2"/>
<rect x="433.7" y="1378.1" width="9.1" height="13.9" fill="#3434e2"/>
<rect x="506.5" y="1386.6" width="9.1" height="5.3" fill="#3434e2"/>
<rect x="643.2" y="1388.4" width="9.1" height="3.6" fill="#3434e2"/>
<rect x="360.8" y="1408.2" width="9.1" height="6.8" fill="#3434e2"/>
<rect x="233.2" y="1432.2" width="9.1" height="5.1" fill="#3434e2"/>
<rect x="233.2" y="1451" width="9.1" height="9.4" fill="#3434e2"/>
<rect x="342.6" y="1454.4" width="9.1" height="5.1" fill="#3434e2"/>
<rect x="287.9" y="1503.1" width="9.1" height="13.7" fill="#3434e2"/>
<rect x="315.2" y="1513.4" width="9.1" height="12" fill="#3434e2"/>
<rect x="342.6" y="1516" width="9.1" height="6" fill="#3434e2"/>
<rect x="643.2" y="1392" width="9.1" height="6.8" fill="#3434e2"/>
<rect x="497.4" y="1408.2" width="18.2" height="6" fill="#3434e2"/>
<rect x="433.7" y="1421.9" width="9.1" height="19.7" fill="#3434e2"/>
<rect x="552.1" y="1437.3" width="9.1" height="6" fill="#3434e2"/>
<rect x="579.4" y="1425.3" width="9.1" height="9.4" fill="#3434e2"/>
<rect x="506.5" y="1451" width="18.2" height="12.8" fill="#3434e2"/>
<rect x="579.4" y="1451" width="9.1" height="12.8" fill="#3434e2"/>
<rect x="606.7" y="1452.7" width="9.1" height="11.1" fill="#3434e2"/>
<rect x="451.9" y="1467.2" width="9.1" height="6.8" fill="#3434e2"/>
<rect x="479.2" y="1467.2" width="18.2" height="9.4" fill="#3434e2"/>
<rect x="415.4" y="1503.1" width="9.1" height="12.8" fill="#3434e2"/>
<rect x="643.2" y="1503.1" width="18.2" height="22.2" fill="#3434e2"/>
<rect x="488.3" y="1569" width="9.1" height="2.6" fill="#3434e2"/>
<rect x="342.6" y="1358.4" width="9.1" height="8.5" fill="#15158f"/>
<rect x="360.8" y="1287.5" width="9.1" height="2.6" fill="#15158f"/>
<rect x="415.4" y="1331.1" width="9.1" height="3.4" fill="#15158f"/>
<rect x="442.8" y="1359.3" width="9.1" height="7.7" fill="#15158f"/>
<rect x="543" y="1359.3" width="18.2" height="7.7" fill="#15158f"/>
<rect x="625" y="1358.4" width="18.2" height="7.7" fill="#15158f"/>
<rect x="224.1" y="1511.7" width="9.1" height="3.4" fill="#15158f"/>
<rect x="643.2" y="1419.4" width="9.1" height="22.2" fill="#1818e8"/>
<rect x="479.2" y="1439.9" width="9.1" height="3.4" fill="#15158f"/>
<rect x="652.3" y="1489.5" width="9.1" height="35.9" fill="#1818e8"/>
<rect x="643.2" y="1545" width="18.2" height="11.1" fill="#1818e8"/>
<rect x="643.2" y="1556.2" width="9.1" height="12.8" fill="#1818e8"/>
<rect x="506.5" y="1560.4" width="9.1" height="8.5" fill="#15158f"/>
<rect x="552.1" y="1569" width="9.1" height="2.6" fill="#15158f"/>
</g></g>
<rect x="662" y="1190.5" width="20.4" height="50.2" fill="#000"/>
<rect x="662" y="1240.7" width="20.4" height="8.1" fill="#a6a6a6"/>
<rect x="662" y="1248.8" width="20.4" height="13.5" fill="#000"/>
<rect x="662" y="1262.3" width="20.4" height="22.7" fill="#a6a6a6"/>
<rect x="662" y="1285" width="20.4" height="17.4" fill="#000"/>
<rect x="662" y="1302.4" width="20.4" height="27.4" fill="#a6a6a6"/>
<rect x="662" y="1329.8" width="20.4" height="24.2" fill="#000"/>
<rect x="662" y="1354" width="20.4" height="19.9" fill="#a6a6a6"/>
<rect x="662" y="1373.9" width="20.4" height="18.4" fill="#000"/>
<rect x="662" y="1392.3" width="20.4" height="20.8" fill="#a6a6a6"/>
<rect x="662" y="1413.1" width="20.4" height="15.4" fill="#000"/>
<rect x="662" y="1428.5" width="20.4" height="15.4" fill="#a6a6a6"/>
<rect x="662" y="1443.9" width="20.4" height="12.8" fill="#000"/>
<rect x="662" y="1456.7" width="20.4" height="13" fill="#a6a6a6"/>
<rect x="662" y="1469.7" width="20.4" height="11.2" fill="#000"/>
<rect x="662" y="1480.9" width="20.4" height="26.2" fill="#a6a6a6"/>
<rect x="662" y="1507.1" width="20.4" height="20" fill="#000"/>
<rect x="662" y="1527.1" width="20.4" height="6.9" fill="#a6a6a6"/>
<rect x="662" y="1534" width="20.4" height="23.9" fill="#000"/>
<rect x="662" y="1557.9" width="20.4" height="9.3" fill="#a6a6a6"/>
<rect x="662" y="1567.2" width="20.4" height="4.1" fill="#000"/>
<rect x="662" y="1571.3" width="20.4" height="10.5" fill="#a6a6a6"/>
<rect x="662" y="1581.8" width="20.4" height="13.1" fill="#000"/>
<text x="678.3" y="1172.7" font-size="28" class="s">chr</text>
<text x="686.4" y="1229.3" font-size="27.5" class="s">1</text>
<text x="716.2" y="1251.6" font-size="27.5" class="s">2</text>
<text x="687.1" y="1269.7" font-size="27.5" class="s">3</text>
<text x="715.6" y="1287.9" font-size="27.5" class="s">4</text>
<text x="685.1" y="1306.1" font-size="27.5" class="s">5</text>
<text x="713.8" y="1324.1" font-size="27.5" class="s">6</text>
<text x="688.3" y="1347.6" font-size="27.5" class="s">7</text>
<text x="713.9" y="1376" font-size="27.5" class="s">8</text>
<text x="686.7" y="1395.1" font-size="27.5" class="s">9</text>
<text x="707.5" y="1407" font-size="27.5" class="s">10</text>
<text x="682.6" y="1429.3" font-size="27.5" class="s">11</text>
<text x="706.7" y="1444.7" font-size="27.5" class="s">12</text>
<text x="683.4" y="1457.8" font-size="27.5" class="s">13</text>
<text x="709.7" y="1472.1" font-size="27.5" class="s">14</text>
<text x="681.1" y="1486" font-size="27.5" class="s">15</text>
<text x="709.4" y="1500.5" font-size="27.5" class="s">16</text>
<text x="682.5" y="1522.5" font-size="27.5" class="s">17</text>
<text x="712.2" y="1534.8" font-size="27.5" class="s">18</text>
<text x="680.7" y="1552.8" font-size="27.5" class="s">19</text>
<text x="711.7" y="1565.6" font-size="27.5" class="s">20</text>
<text x="682.3" y="1577.2" font-size="27.5" class="s">21</text>
<text x="708" y="1593.4" font-size="27.5" class="s">22</text>
<text x="684.2" y="1604.6" font-size="27.5" class="s">X</text>
<text transform="translate(98.1 1621.8) scale(1 1.035)" font-size="30.6">Copy Number</text>
<rect x="93.1" y="1632.3" width="208.5" height="19.6" fill="url(#cg)"/>
<text x="74.1" y="1676.8" font-size="29.8" class="s">-1.0</text>
<text x="280.1" y="1676.8" font-size="29.8" class="s">1.0</text>
</g>
<g id="panelF">
<text transform="translate(815.8 1127.6) scale(1 1.035)" font-size="42">F</text>
<rect x="977.5" y="1159.7" width="102" height="113" fill="#87CEEB"/>
<rect x="977.5" y="1272.7" width="102" height="315.1" fill="#FFA500"/>
<rect x="1099.7" y="1159.7" width="102" height="164.8" fill="#87CEEB"/>
<rect x="1099.7" y="1324.5" width="102" height="68.4" fill="#0000FF"/>
<rect x="1099.7" y="1392.9" width="102" height="12.8" fill="#BEBEBE"/>
<rect x="1099.7" y="1405.7" width="102" height="154" fill="#FFA500"/>
<rect x="1099.7" y="1559.7" width="102" height="28.1" fill="#FF0000"/>
<path d="M968.7 1159.1H1210.5V1592H968.7Z" fill="none" stroke="#000" stroke-width="1.4"/>
<line x1="960.1" y1="1587.1" x2="968.7" y2="1587.1" stroke="#000" stroke-width="1.4"/>
<text transform="translate(927.8 1593.3) scale(1 1.035)" font-size="29.4">0</text>
<line x1="960.1" y1="1501.6" x2="968.7" y2="1501.6" stroke="#000" stroke-width="1.4"/>
<text transform="translate(915.5 1508.1) scale(1 1.035)" font-size="29.4">20</text>
<line x1="960.1" y1="1416.1" x2="968.7" y2="1416.1" stroke="#000" stroke-width="1.4"/>
<text transform="translate(914.2 1423.4) scale(1 1.035)" font-size="29.4">40</text>
<line x1="960.1" y1="1330.7" x2="968.7" y2="1330.7" stroke="#000" stroke-width="1.4"/>
<text transform="translate(913.6 1337.7) scale(1 1.035)" font-size="29.4">60</text>
<line x1="960.1" y1="1245.2" x2="968.7" y2="1245.2" stroke="#000" stroke-width="1.4"/>
<text transform="translate(911.5 1252.8) scale(1 1.035)" font-size="29.4">80</text>
<line x1="960.1" y1="1159.7" x2="968.7" y2="1159.7" stroke="#000" stroke-width="1.4"/>
<text transform="translate(905.1 1170.1) scale(1 1.035)" font-size="29.4">100</text>
<text transform="translate(1023.4 1142.2) scale(1 1.035)" font-size="30.4">Thai HCC</text>
<text transform="translate(887.6 1375.3) rotate(-90) scale(1 1.035)" x="-141.9" y="0" font-size="30.6">Allelic Imbalance (%)</text>
<text transform="translate(974.6 1621.8) scale(1 1.035)" font-size="30.4">LFGC</text>
<text transform="translate(1103.6 1621.8) scale(1 1.035)" font-size="30.4">HFGC</text>
<rect x="1367.2" y="1156.8" width="103.9" height="219.9" fill="#87CEEB"/>
<rect x="1367.2" y="1376.7" width="103.9" height="211.1" fill="#FFA500"/>
<rect x="1492" y="1156.8" width="103.9" height="167.1" fill="#87CEEB"/>
<rect x="1492" y="1323.9" width="103.9" height="39.4" fill="#0000FF"/>
<rect x="1492" y="1363.3" width="103.9" height="55.4" fill="#BEBEBE"/>
<rect x="1492" y="1418.7" width="103.9" height="158" fill="#FFA500"/>
<rect x="1492" y="1576.7" width="103.9" height="11.1" fill="#FF0000"/>
<path d="M1358.1 1156.5H1605.3V1591.7H1358.1Z" fill="none" stroke="#000" stroke-width="1.4"/>
<line x1="1349.5" y1="1587.1" x2="1358.1" y2="1587.1" stroke="#000" stroke-width="1.4"/>
<text transform="translate(1320.8 1595) scale(1 1.035)" font-size="29.4">0</text>
<line x1="1349.5" y1="1501" x2="1358.1" y2="1501" stroke="#000" stroke-width="1.4"/>
<text transform="translate(1308.5 1509.6) scale(1 1.035)" font-size="29.4">20</text>
<line x1="1349.5" y1="1415" x2="1358.1" y2="1415" stroke="#000" stroke-width="1.4"/>
<text transform="translate(1307.2 1425.3) scale(1 1.035)" font-size="29.4">40</text>
<line x1="1349.5" y1="1328.9" x2="1358.1" y2="1328.9" stroke="#000" stroke-width="1.4"/>
<text transform="translate(1306.6 1339) scale(1 1.035)" font-size="29.4">60</text>
<line x1="1349.5" y1="1242.9" x2="1358.1" y2="1242.9" stroke="#000" stroke-width="1.4"/>
<text transform="translate(1304.5 1253.5) scale(1 1.035)" font-size="29.4">80</text>
<line x1="1349.5" y1="1156.8" x2="1358.1" y2="1156.8" stroke="#000" stroke-width="1.4"/>
<text transform="translate(1298.1 1169.2) scale(1 1.035)" font-size="29.4">100</text>
<text transform="translate(1423.5 1142.2) scale(1 1.035)" font-size="30.4">Thai iCCA</text>
<text transform="translate(1281.5 1360.6) rotate(-90) scale(1 1.035)" x="-141.9" y="0" font-size="30.6">Allelic Imbalance (%)</text>
<text transform="translate(1381.1 1618.2) scale(1 1.035)" font-size="30.4">LFGC</text>
<text transform="translate(1503.5 1618.2) scale(1 1.035)" font-size="30.4">HFGC</text>
<rect x="1002.3" y="1644.3" width="21.1" height="17.1" fill="#FFA500"/>
<text transform="translate(1027.1 1659.8) scale(1 1.035)" font-size="27.3">AMP W/O LOH</text>
<rect x="1235.6" y="1644.3" width="21.1" height="17.1" fill="#FF0000"/>
<text transform="translate(1264.4 1659.8) scale(1 1.035)" font-size="27.3">AMP W/ LOH</text>
<rect x="1453.8" y="1644.3" width="21.1" height="17.1" fill="#BEBEBE"/>
<text transform="translate(1486.9 1659.8) scale(1 1.035)" font-size="27.3">CN LOH</text>
<rect x="1002.3" y="1670.7" width="21.1" height="17.3" fill="#87CEEB"/>
<text transform="translate(1028.9 1685.7) scale(1 1.035)" font-size="27.3">DEL W/O LOH</text>
<rect x="1236.8" y="1670.7" width="21.1" height="17.3" fill="#0000FF"/>
<text transform="translate(1266.2 1685.7) scale(1 1.035)" font-size="27.3">DEL W/ LOH</text>
</g>
</svg>
</body></html>
